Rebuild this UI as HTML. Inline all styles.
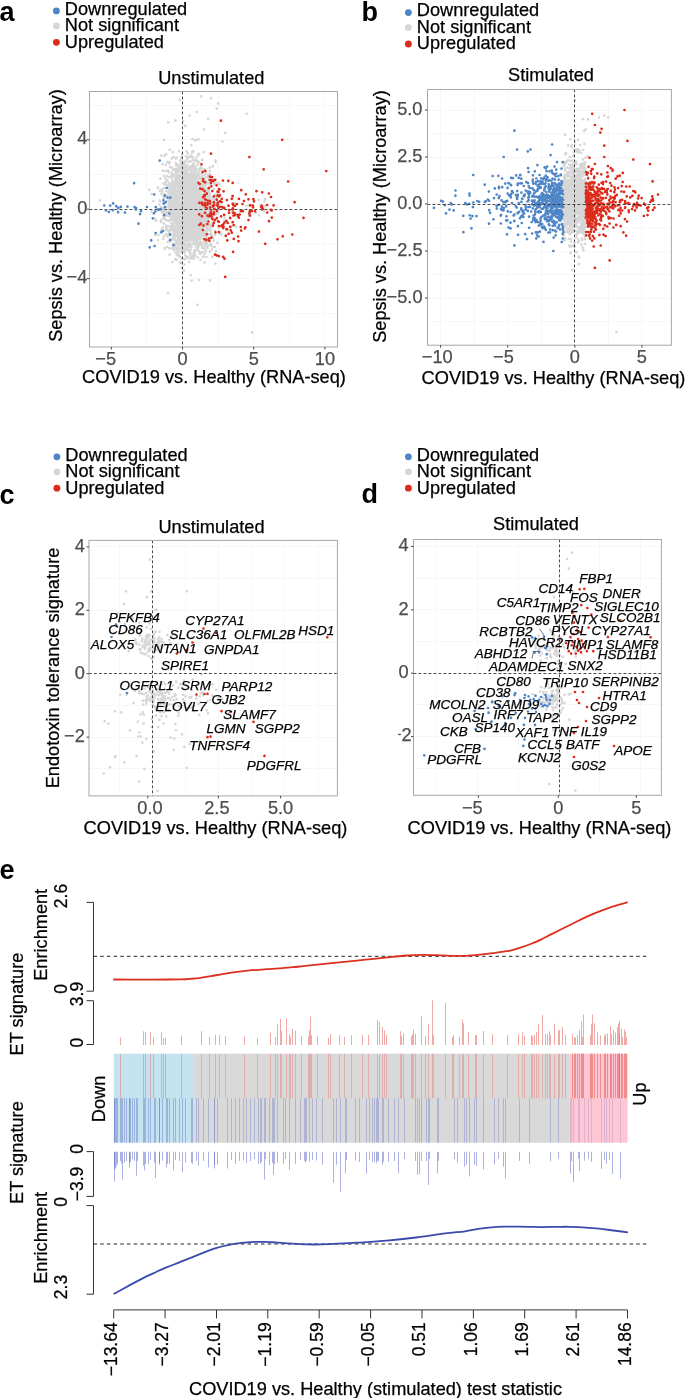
<!DOCTYPE html>
<html><head><meta charset="utf-8"><style>
html,body{margin:0;padding:0;background:#fff;}
svg{display:block;font-family:"Liberation Sans",sans-serif;will-change:transform;}
</style></head><body>
<svg width="685" height="1398" viewBox="0 0 685 1398">
<rect width="685" height="1398" fill="#fff"/>
<text x="-0.6" y="21.1" font-size="27" fill="#000" font-weight="bold">a</text>
<circle cx="56.4" cy="10.9" r="3.4" fill="#4e85c6"/>
<text x="64.8" y="14.6" font-size="18.2" fill="#000" stroke="#000" stroke-width="0.25">Downregulated</text>
<circle cx="56.4" cy="25.9" r="3.4" fill="#d6d6d6"/>
<text x="64.8" y="31.1" font-size="18.2" fill="#000" stroke="#000" stroke-width="0.25">Not significant</text>
<circle cx="56.4" cy="42.3" r="3.4" fill="#dc2b1a"/>
<text x="64.8" y="47.6" font-size="18.2" fill="#000" stroke="#000" stroke-width="0.25">Upregulated</text>
<text x="211.3" y="83.5" font-size="18.2" fill="#000" stroke="#000" stroke-width="0.25" text-anchor="middle">Unstimulated</text>
<rect x="89.5" y="91.5" width="248.0" height="255.5" fill="#fff"/>
<line x1="146.5" y1="91.5" x2="146.5" y2="347.0" stroke="#f7f7f7" stroke-width="1"/>
<line x1="218.5" y1="91.5" x2="218.5" y2="347.0" stroke="#f7f7f7" stroke-width="1"/>
<line x1="289.5" y1="91.5" x2="289.5" y2="347.0" stroke="#f7f7f7" stroke-width="1"/>
<line x1="111.5" y1="91.5" x2="111.5" y2="347.0" stroke="#f7f7f7" stroke-width="1"/>
<line x1="182.5" y1="91.5" x2="182.5" y2="347.0" stroke="#f7f7f7" stroke-width="1"/>
<line x1="253.5" y1="91.5" x2="253.5" y2="347.0" stroke="#f7f7f7" stroke-width="1"/>
<line x1="324.5" y1="91.5" x2="324.5" y2="347.0" stroke="#f7f7f7" stroke-width="1"/>
<line x1="89.5" y1="313.5" x2="337.5" y2="313.5" stroke="#f7f7f7" stroke-width="1"/>
<line x1="89.5" y1="243.5" x2="337.5" y2="243.5" stroke="#f7f7f7" stroke-width="1"/>
<line x1="89.5" y1="174.5" x2="337.5" y2="174.5" stroke="#f7f7f7" stroke-width="1"/>
<line x1="89.5" y1="105.5" x2="337.5" y2="105.5" stroke="#f7f7f7" stroke-width="1"/>
<line x1="89.5" y1="278.5" x2="337.5" y2="278.5" stroke="#f7f7f7" stroke-width="1"/>
<line x1="89.5" y1="209.5" x2="337.5" y2="209.5" stroke="#f7f7f7" stroke-width="1"/>
<line x1="89.5" y1="139.5" x2="337.5" y2="139.5" stroke="#f7f7f7" stroke-width="1"/>
<path d="M186.8 230.3h0M189.8 190.3h0M184.0 210.7h0M177.6 197.7h0M182.1 214.7h0M176.6 199.4h0M187.4 221.4h0M200.5 206.3h0M181.7 193.6h0M180.4 204.8h0M191.8 215.2h0M190.4 228.4h0M187.9 202.2h0M177.2 198.5h0M186.5 211.1h0M193.9 221.7h0M173.0 194.4h0M182.1 154.1h0M167.3 212.0h0M173.6 198.7h0M167.9 197.9h0M184.4 259.2h0M173.8 203.2h0M189.6 220.4h0M188.4 176.9h0M184.9 211.0h0M161.0 221.9h0M181.2 210.3h0M186.3 202.3h0M187.9 217.4h0M171.1 206.8h0M181.9 233.9h0M176.7 210.4h0M178.5 189.6h0M197.6 164.7h0M178.5 191.0h0M186.4 200.1h0M195.8 181.1h0M180.8 184.5h0M185.6 171.1h0M187.9 183.2h0M187.4 208.2h0M174.2 200.3h0M187.6 202.0h0M200.7 199.4h0M170.9 201.6h0M195.6 222.0h0M188.0 249.5h0M180.2 219.7h0M207.3 247.9h0M194.6 204.3h0M174.5 205.6h0M187.5 240.6h0M192.7 191.4h0M184.8 187.7h0M193.8 203.7h0M186.1 171.0h0M193.6 166.8h0M201.5 230.8h0M179.8 184.1h0M188.9 196.6h0M182.0 197.0h0M188.1 186.3h0M174.6 220.7h0M180.8 218.1h0M184.8 222.9h0M196.0 221.4h0M198.5 207.8h0M173.2 236.0h0M178.6 227.5h0M193.4 193.7h0M166.3 207.2h0M182.0 197.8h0M185.8 245.1h0M199.7 222.0h0M193.8 217.3h0M183.4 205.1h0M183.0 217.9h0M184.2 186.3h0M202.4 206.9h0M182.4 205.4h0M183.7 205.4h0M190.4 191.0h0M185.5 215.5h0M184.7 182.4h0M175.3 196.2h0M186.7 202.5h0M182.2 204.9h0M198.7 194.9h0M193.5 184.6h0M186.5 186.0h0M193.6 197.9h0M183.3 187.5h0M197.6 203.3h0M186.7 179.7h0M192.8 206.3h0M173.5 248.9h0M190.3 177.9h0M169.5 203.5h0M165.9 230.1h0M183.7 209.9h0M177.5 224.1h0M188.5 162.0h0M209.8 195.4h0M178.2 238.4h0M180.4 194.4h0M188.9 214.0h0M191.8 165.8h0M185.0 227.6h0M184.7 252.5h0M194.0 204.4h0M192.1 213.0h0M176.2 214.4h0M186.0 250.3h0M187.1 196.8h0M176.0 170.9h0M189.4 245.5h0M178.0 181.3h0M196.7 217.6h0M188.7 156.8h0M187.7 196.7h0M180.7 209.6h0M185.6 182.7h0M166.3 194.8h0M175.2 218.1h0M190.5 190.9h0M164.9 216.4h0M195.5 243.0h0M168.9 163.4h0M194.5 213.0h0M178.1 218.4h0M194.8 198.7h0M188.1 238.2h0M171.0 233.9h0M199.6 216.1h0M201.6 216.6h0M186.1 204.2h0M184.0 182.4h0M185.1 215.6h0M176.8 195.5h0M198.0 193.2h0M181.2 228.3h0M186.2 201.0h0M178.6 225.4h0M180.4 183.6h0M173.7 196.3h0M199.7 205.4h0M185.2 233.6h0M196.7 203.3h0M186.9 221.7h0M179.7 191.0h0M183.4 208.2h0M181.0 222.6h0M186.9 186.5h0M182.9 190.7h0M183.7 218.1h0M172.6 181.5h0M178.5 211.9h0M203.7 212.2h0M179.9 203.2h0M176.0 221.4h0M190.2 214.9h0M201.2 209.1h0M171.9 173.9h0M184.6 174.5h0M180.3 211.1h0M168.7 172.2h0M194.3 206.6h0M186.5 197.8h0M187.5 187.3h0M179.1 199.6h0M191.4 155.4h0M181.2 200.7h0M185.3 230.7h0M175.4 178.6h0M174.3 214.3h0M200.5 212.1h0M181.6 268.0h0M189.8 184.9h0M186.4 188.7h0M182.2 189.1h0M181.6 185.4h0M193.2 170.5h0M183.7 206.7h0M185.2 186.2h0M187.0 221.2h0M198.8 213.1h0M193.7 183.7h0M190.7 197.6h0M181.0 233.5h0M172.6 198.2h0M196.5 209.5h0M196.7 222.8h0M185.3 196.7h0M192.3 214.2h0M194.8 238.4h0M195.3 228.9h0M196.2 168.9h0M182.1 237.3h0M202.3 201.1h0M174.0 193.0h0M195.6 192.4h0M191.8 231.2h0M195.7 212.4h0M206.0 202.8h0M202.0 189.1h0M175.0 219.2h0M169.5 230.0h0M195.1 184.9h0M176.4 182.7h0M186.6 198.0h0M195.4 218.4h0M169.9 197.3h0M165.1 203.5h0M189.4 188.3h0M187.2 231.7h0M184.3 203.3h0M187.2 209.0h0M177.9 228.8h0M171.3 201.2h0M185.1 205.0h0M176.8 214.3h0M169.9 197.5h0M192.0 235.3h0M186.1 206.8h0M190.9 196.7h0M176.6 199.8h0M180.0 183.3h0M176.5 230.7h0M177.7 237.1h0M188.8 200.8h0M178.7 196.3h0M190.4 161.6h0M190.3 192.9h0M207.5 223.9h0M172.5 188.9h0M195.9 223.3h0M185.9 236.7h0M186.6 151.4h0M171.9 198.9h0M182.1 190.8h0M194.4 194.0h0M185.9 168.0h0M187.6 199.8h0M183.8 180.4h0M198.6 227.1h0M186.6 234.7h0M164.2 176.0h0M179.7 175.0h0M166.6 195.1h0M153.4 201.0h0M181.3 202.3h0M200.4 220.1h0M187.3 173.7h0M174.8 192.0h0M177.1 195.2h0M198.4 197.9h0M188.4 183.9h0M187.3 195.2h0M186.2 190.2h0M187.2 230.1h0M195.0 195.1h0M192.4 160.2h0M189.0 216.5h0M176.1 208.4h0M192.0 187.2h0M179.8 185.8h0M198.0 192.7h0M173.7 239.4h0M185.4 195.3h0M186.7 230.4h0M173.2 222.9h0M204.4 194.3h0M201.7 211.9h0M182.0 188.9h0M194.7 140.2h0M190.7 189.5h0M160.0 190.7h0M189.3 224.4h0M186.1 219.1h0M187.6 227.9h0M175.7 216.8h0M184.0 228.5h0M184.9 219.5h0M199.0 210.1h0M190.2 226.6h0M186.7 235.3h0M202.4 234.1h0M181.1 196.3h0M182.8 204.5h0M168.1 184.4h0M202.9 184.0h0M196.7 212.8h0M196.2 191.8h0M193.6 235.7h0M187.9 158.2h0M189.0 180.8h0M184.2 210.2h0M184.7 229.9h0M187.3 197.8h0M202.3 244.7h0M192.5 222.0h0M186.2 190.1h0M180.8 204.2h0M180.3 216.0h0M203.2 185.9h0M192.0 227.4h0M187.5 199.8h0M183.2 216.1h0M175.4 223.4h0M186.1 196.1h0M195.7 226.4h0M182.7 166.1h0M184.4 217.9h0M184.5 164.3h0M187.9 228.5h0M170.4 193.1h0M184.4 230.7h0M178.0 233.7h0M195.8 202.4h0M178.9 191.6h0M192.7 232.3h0M202.4 181.1h0M183.6 222.3h0M180.6 203.0h0M188.7 197.8h0M186.8 193.3h0M176.6 243.2h0M191.5 172.0h0M207.4 194.0h0M184.1 214.6h0M184.7 227.1h0M176.1 241.0h0M190.0 234.1h0M174.0 194.4h0M175.4 212.8h0M199.9 229.3h0M177.5 216.7h0M197.9 173.2h0M202.4 212.6h0M189.4 217.9h0M192.4 177.6h0M206.8 196.1h0M184.8 204.8h0M180.7 218.4h0M172.9 238.1h0M187.2 230.1h0M201.9 215.7h0M196.6 210.3h0M177.1 198.3h0M178.0 194.2h0M181.6 201.1h0M189.8 201.1h0M184.7 226.7h0M189.0 250.6h0M189.8 216.6h0M183.7 225.6h0M186.4 219.3h0M188.9 211.4h0M185.9 231.6h0M191.9 228.9h0M206.0 207.8h0M192.8 203.3h0M187.3 219.4h0M169.5 195.4h0M190.7 210.3h0M166.8 227.0h0M172.3 204.9h0M195.5 166.5h0M194.0 219.8h0M185.2 181.5h0M169.2 177.0h0M183.0 174.5h0M179.8 222.9h0M193.3 163.8h0M209.9 203.3h0M189.0 211.0h0M178.8 210.5h0M174.8 193.2h0M186.2 204.7h0M185.0 209.4h0M175.0 179.0h0M188.0 220.8h0M175.0 227.4h0M198.2 189.2h0M197.7 191.1h0M197.9 183.0h0M181.9 228.1h0M192.0 183.2h0M185.4 195.7h0M182.8 169.0h0M183.3 231.7h0M173.4 201.2h0M172.0 211.5h0M194.9 238.8h0M184.8 220.6h0M189.0 182.3h0M197.0 215.5h0M169.0 220.8h0M178.7 187.7h0M188.6 185.1h0M190.8 185.2h0M182.9 222.2h0M197.3 206.9h0M188.9 184.3h0M174.3 219.4h0M177.2 221.3h0M195.0 188.5h0M191.5 173.2h0M167.3 229.7h0M200.6 259.8h0M192.9 235.9h0M200.5 226.8h0M182.8 208.6h0M183.7 192.9h0M175.2 208.8h0M212.8 220.3h0M185.0 202.5h0M203.0 225.8h0M180.1 206.7h0M188.5 219.1h0M169.6 149.9h0M182.8 188.7h0M196.9 223.1h0M173.9 226.5h0M197.8 214.9h0M190.2 240.0h0M176.1 220.9h0M181.6 221.1h0M182.1 187.3h0M186.3 214.6h0M181.3 222.2h0M178.3 233.6h0M183.6 230.2h0M176.2 207.1h0M173.6 210.2h0M186.3 182.1h0M195.8 218.8h0M171.1 183.7h0M186.8 200.4h0M180.1 205.8h0M176.8 247.5h0M195.5 232.6h0M181.5 190.3h0M202.1 176.6h0M178.8 201.4h0M190.7 189.9h0M184.4 214.2h0M179.0 213.5h0M192.8 219.5h0M185.2 185.4h0M193.0 198.6h0M186.3 210.6h0M175.6 212.6h0M185.7 194.1h0M187.3 199.0h0M196.6 223.1h0M177.5 170.0h0M186.4 200.4h0M169.1 205.5h0M193.5 175.0h0M175.7 184.4h0M168.3 207.6h0M186.2 194.6h0M198.1 228.0h0M171.1 219.1h0M175.6 252.8h0M179.2 180.3h0M175.2 245.3h0M190.7 191.5h0M178.5 223.0h0M179.4 226.1h0M192.8 209.8h0M179.0 200.2h0M191.2 193.0h0M176.8 168.8h0M174.3 198.3h0M168.0 187.4h0M205.9 218.2h0M183.5 190.9h0M189.3 202.5h0M186.5 215.4h0M188.4 207.7h0M187.3 207.0h0M206.3 201.8h0M176.1 197.4h0M170.8 216.3h0M176.4 221.2h0M173.1 190.2h0M194.4 241.1h0M195.2 218.6h0M176.9 173.4h0M172.5 262.1h0M183.1 220.2h0M201.0 191.4h0M157.9 240.1h0M192.2 151.6h0M175.7 259.6h0M197.4 175.8h0M175.7 173.3h0M183.8 186.7h0M171.3 210.3h0M176.8 198.3h0M201.0 224.4h0M195.2 188.9h0M182.7 229.0h0M177.9 211.4h0M167.4 185.0h0M182.7 228.9h0M186.5 213.3h0M185.9 202.3h0M185.8 233.7h0M175.3 181.5h0M186.1 198.6h0M186.4 237.3h0M200.0 206.7h0M205.9 221.9h0M185.4 219.4h0M178.9 204.1h0M186.1 220.5h0M180.5 185.6h0M179.2 220.4h0M186.2 185.3h0M176.1 206.6h0M193.0 187.9h0M185.7 217.0h0M189.3 216.3h0M184.9 229.7h0M179.3 193.7h0M177.1 186.2h0M184.3 161.6h0M181.1 178.9h0M189.2 200.5h0M186.7 210.1h0M172.8 197.6h0M187.5 206.3h0M173.0 175.3h0M180.5 186.1h0M183.8 223.2h0M165.5 220.0h0M187.7 177.3h0M188.3 199.3h0M185.2 210.6h0M182.4 181.0h0M182.9 213.8h0M176.8 211.6h0M184.0 215.3h0M181.1 246.6h0M187.7 187.7h0M174.4 230.9h0M189.2 217.6h0M188.2 221.2h0M185.3 190.6h0M182.3 207.2h0M192.4 205.4h0M169.7 240.7h0M191.5 207.6h0M189.3 236.5h0M189.7 199.3h0M190.7 198.1h0M180.1 206.1h0M184.1 163.2h0M193.3 194.7h0M191.2 193.3h0M188.9 202.8h0M171.2 209.7h0M192.3 185.6h0M198.8 182.8h0M197.1 232.8h0M189.2 183.8h0M170.8 195.0h0M196.4 185.7h0M185.3 196.0h0M160.8 231.6h0M190.6 230.2h0M171.5 167.7h0M173.5 200.5h0M180.3 235.2h0M199.8 198.5h0M183.0 213.3h0M189.6 244.1h0M204.7 253.4h0M203.1 239.1h0M185.7 200.1h0M184.3 206.7h0M173.8 210.9h0M179.7 199.8h0M191.1 193.2h0M190.8 249.5h0M187.9 212.0h0M197.0 223.0h0M178.9 231.4h0M186.2 217.1h0M194.3 208.3h0M192.8 211.3h0M197.8 236.0h0M190.8 215.8h0M183.6 163.8h0M190.5 227.7h0M176.5 240.9h0M170.0 200.0h0M192.7 193.3h0M186.2 196.1h0M189.9 229.0h0M169.4 184.9h0M183.0 222.1h0M180.6 229.4h0M177.9 218.4h0M163.7 208.0h0M183.3 190.9h0M196.0 192.7h0M190.7 206.2h0M180.6 186.3h0M186.6 204.0h0M194.5 187.1h0M158.5 235.0h0M185.5 238.5h0M192.3 189.6h0M193.8 234.7h0M204.2 212.0h0M198.4 207.8h0M190.0 215.9h0M189.9 215.2h0M194.8 176.7h0M181.2 258.4h0M186.4 187.3h0M196.1 157.9h0M206.8 205.2h0M185.1 206.1h0M186.3 190.6h0M188.8 167.7h0M200.5 230.5h0M186.5 203.9h0M201.8 209.6h0M176.9 194.1h0M184.9 202.4h0M184.7 192.0h0M194.8 214.5h0M197.5 204.7h0M171.3 219.7h0M177.4 219.6h0M190.2 208.7h0M180.0 208.7h0M171.2 230.1h0M197.4 173.0h0M191.8 208.5h0M191.8 234.5h0M181.9 182.8h0M197.3 221.3h0M184.3 195.1h0M198.0 206.1h0M177.4 200.5h0M178.0 202.2h0M188.9 217.7h0M179.6 204.9h0M193.7 163.4h0M189.4 252.3h0M177.3 204.4h0M187.5 196.7h0M183.2 227.6h0M196.2 234.3h0M180.3 160.8h0M182.3 213.5h0M199.2 162.4h0M209.7 194.6h0M207.3 204.1h0M187.4 195.8h0M189.0 192.5h0M202.5 181.2h0M185.5 196.7h0M176.8 202.7h0M188.0 202.1h0M191.4 177.6h0M178.3 188.7h0M169.9 226.6h0M172.0 219.0h0M193.6 198.8h0M179.0 218.7h0M185.3 213.6h0M189.0 225.6h0M193.1 211.2h0M183.3 196.9h0M191.9 185.0h0M177.6 205.5h0M183.1 162.5h0M176.3 207.3h0M198.4 139.2h0M186.5 184.9h0M179.2 195.4h0M183.2 216.1h0M184.5 264.5h0M194.0 209.0h0M170.4 202.0h0M176.1 165.7h0M182.9 234.5h0M212.7 166.0h0M196.6 211.0h0M185.6 190.7h0M194.1 258.6h0M207.9 202.8h0M184.4 212.9h0M183.0 191.5h0M199.2 203.8h0M191.8 229.5h0M193.7 186.0h0M181.6 191.3h0M206.5 193.3h0M204.3 184.7h0M192.6 182.8h0M193.8 206.2h0M166.0 234.0h0M193.3 234.6h0M184.8 177.6h0M191.2 190.9h0M193.8 203.6h0M183.3 214.8h0M169.4 205.1h0M190.5 205.2h0M179.2 212.7h0M183.4 220.3h0M180.6 160.7h0M183.3 201.0h0M163.1 218.3h0M199.2 232.8h0M189.4 220.8h0M198.2 190.7h0M207.1 189.9h0M187.0 210.3h0M168.3 204.7h0M177.6 212.1h0M174.4 228.8h0M181.6 178.6h0M187.6 198.0h0M166.2 154.2h0M190.3 221.5h0M171.3 208.6h0M189.8 187.3h0M185.6 210.8h0M183.6 234.6h0M186.0 225.5h0M181.2 203.6h0M180.5 198.6h0M169.5 207.7h0M186.5 184.8h0M205.7 185.1h0M207.1 199.0h0M200.3 205.2h0M194.0 211.0h0M179.8 194.3h0M201.6 186.6h0M186.2 204.5h0M186.1 196.4h0M183.8 212.5h0M187.7 235.1h0M182.3 226.6h0M185.9 189.8h0M175.7 196.4h0M182.9 172.6h0M210.2 204.6h0M186.1 187.7h0M184.3 178.2h0M192.2 185.0h0M194.0 218.4h0M175.4 209.6h0M184.6 203.0h0M196.2 226.3h0M189.5 195.9h0M188.0 184.4h0M202.7 215.7h0M179.8 164.7h0M187.6 211.8h0M181.4 210.0h0M202.1 210.7h0M166.8 220.5h0M179.9 197.0h0M181.3 205.3h0M193.6 171.1h0M193.0 193.1h0M201.1 194.5h0M170.6 210.3h0M194.5 235.2h0M183.8 207.6h0M179.9 223.4h0M192.3 185.9h0M177.3 206.4h0M165.5 171.0h0M183.0 190.4h0M171.4 188.3h0M180.1 200.9h0M190.6 201.4h0M190.0 192.1h0M203.0 186.5h0M184.7 220.5h0M171.1 195.5h0M179.0 151.2h0M177.3 207.6h0M174.3 211.1h0M191.2 220.1h0M180.2 235.9h0M166.5 181.0h0M193.9 204.5h0M185.6 199.5h0M190.4 167.3h0M187.9 153.5h0M193.2 224.2h0M187.2 183.8h0M199.4 192.7h0M191.1 197.4h0M190.8 195.7h0M191.0 206.2h0M171.8 172.6h0M185.1 192.9h0M184.1 198.5h0M188.9 179.7h0M172.8 187.0h0M203.5 196.1h0M187.8 198.9h0M174.4 169.1h0M169.3 195.1h0M183.9 207.5h0M185.9 223.5h0M179.4 212.8h0M187.7 227.5h0M180.2 203.4h0M192.4 200.3h0M179.3 248.4h0M186.4 205.3h0M196.8 192.2h0M213.1 202.2h0M176.4 225.5h0M182.0 179.3h0M178.2 220.2h0M194.8 231.3h0M175.0 228.2h0M181.8 206.0h0M186.5 185.2h0M176.7 181.4h0M177.0 201.3h0M181.9 230.5h0M165.2 219.4h0M172.0 224.4h0M182.5 209.4h0M188.3 242.6h0M184.9 203.4h0M168.6 192.3h0M182.0 208.8h0M195.0 196.1h0M192.5 225.2h0M186.0 236.0h0M177.7 219.0h0M193.2 181.6h0M180.8 184.3h0M174.8 215.2h0M178.5 180.6h0M201.6 212.5h0M189.0 174.2h0M198.7 195.7h0M181.9 215.1h0M196.4 189.2h0M180.6 221.8h0M185.2 225.2h0M212.3 235.9h0M194.6 200.3h0M181.6 206.8h0M185.9 207.3h0M190.1 214.3h0M199.2 175.8h0M181.8 214.5h0M168.9 220.8h0M183.9 179.8h0M186.9 176.1h0M187.9 198.7h0M200.3 242.0h0M190.0 218.2h0M195.1 193.0h0M175.5 205.4h0M195.7 173.4h0M208.3 234.2h0M194.7 191.6h0M189.4 218.8h0M188.4 178.2h0M205.1 207.3h0M177.3 184.3h0M185.6 219.2h0M191.5 235.1h0M194.4 228.8h0M182.3 218.4h0M189.9 227.1h0M183.9 180.7h0M188.0 177.9h0M185.4 200.0h0M175.1 227.3h0M186.6 208.2h0M195.8 220.0h0M176.9 175.5h0M184.3 199.2h0M193.6 195.5h0M175.8 214.1h0M188.6 247.6h0M175.9 221.8h0M198.4 229.0h0M210.5 198.0h0M207.5 203.7h0M184.5 222.4h0M194.4 213.8h0M188.0 173.1h0M187.8 225.7h0M202.6 224.8h0M173.2 210.5h0M197.6 220.3h0M186.3 214.7h0M201.2 194.7h0M188.7 169.7h0M179.9 242.8h0M189.6 206.1h0M194.3 204.9h0M187.1 207.5h0M191.8 209.6h0M181.4 212.8h0M164.9 184.8h0M196.0 215.4h0M193.9 208.4h0M188.3 205.7h0M187.5 203.5h0M197.4 209.3h0M182.1 184.9h0M179.5 205.9h0M184.8 202.1h0M199.0 206.8h0M172.6 226.6h0M199.0 223.0h0M180.2 227.6h0M175.5 201.7h0M199.7 220.6h0M185.8 227.8h0M173.4 200.8h0M183.1 194.8h0M196.3 242.4h0M199.0 170.6h0M182.4 205.1h0M190.9 207.9h0M194.1 183.5h0M180.2 204.3h0M190.4 218.3h0M186.4 160.0h0M181.3 228.1h0M181.7 207.8h0M187.5 188.1h0M187.1 228.0h0M181.0 207.9h0M182.4 197.7h0M198.2 155.7h0M189.0 224.3h0M195.8 206.7h0M199.1 192.0h0M192.8 204.0h0M210.1 230.8h0M178.3 197.2h0M195.1 203.5h0M183.5 196.5h0M205.8 182.2h0M204.2 184.6h0M166.7 197.2h0M176.8 199.3h0M193.6 228.6h0M194.9 208.5h0M194.3 201.1h0M186.0 214.1h0M191.4 203.7h0M193.5 222.9h0M186.0 173.8h0M197.3 160.9h0M163.6 213.8h0M193.3 197.4h0M176.2 210.6h0M196.6 179.4h0M184.4 196.7h0M177.7 204.1h0M190.6 210.4h0M177.4 203.1h0M177.4 226.6h0M170.7 191.7h0M186.5 220.6h0M191.9 194.6h0M197.3 203.0h0M185.3 182.9h0M197.5 206.1h0M187.0 184.4h0M185.8 224.9h0M192.7 193.0h0M197.6 210.4h0M183.3 201.7h0M184.3 204.2h0M185.1 186.2h0M187.6 247.8h0M177.5 199.0h0M197.3 236.8h0M182.7 180.6h0M191.5 246.8h0M178.3 226.6h0M190.5 240.6h0M190.8 171.6h0M182.5 232.6h0M207.5 203.4h0M190.6 216.9h0M205.0 243.2h0M196.6 212.8h0M180.0 191.9h0M182.9 209.6h0M191.2 186.1h0M187.4 213.3h0M187.3 205.6h0M183.8 213.7h0M168.2 198.6h0M184.5 166.2h0M164.0 198.2h0M190.6 201.7h0M179.3 218.6h0M179.4 221.5h0M184.5 175.2h0M189.6 228.9h0M172.1 224.7h0M168.8 207.8h0M175.8 214.6h0M165.8 165.0h0M176.9 255.0h0M203.1 198.2h0M175.9 190.9h0M193.5 229.1h0M172.7 219.2h0M189.8 196.7h0M183.5 171.8h0M186.2 224.9h0M192.6 238.6h0M204.8 185.5h0M188.8 174.0h0M188.0 212.7h0M176.8 251.8h0M192.8 175.5h0M184.2 209.9h0M195.3 182.3h0M186.3 206.6h0M204.6 213.6h0M166.4 215.1h0M183.7 175.1h0M195.8 175.9h0M183.2 250.2h0M178.7 225.2h0M184.0 168.7h0M172.6 213.4h0M188.0 234.1h0M211.8 205.6h0M198.5 208.0h0M175.4 207.8h0M177.8 215.7h0M182.6 212.2h0M197.1 215.2h0M178.3 198.8h0M179.7 222.7h0M195.8 211.8h0M195.6 208.7h0M182.9 178.5h0M175.3 198.0h0M170.9 208.0h0M179.6 194.6h0M163.9 197.3h0M194.5 183.1h0M180.3 195.2h0M191.7 168.4h0M205.9 177.7h0M198.8 206.6h0M175.0 214.4h0M195.7 187.4h0M198.6 195.0h0M179.1 207.7h0M177.0 236.5h0M185.6 243.9h0M170.4 198.5h0M201.9 189.7h0M162.1 189.0h0M175.4 232.5h0M184.0 184.1h0M184.4 216.9h0M188.5 197.6h0M189.6 197.1h0M184.6 222.4h0M198.4 218.0h0M164.8 248.9h0M186.8 224.8h0M179.4 243.3h0M188.1 196.6h0M189.0 204.5h0M177.4 186.7h0M180.2 198.3h0M194.9 218.9h0M190.4 198.5h0M179.8 213.9h0M207.7 193.0h0M210.4 199.2h0M171.8 226.3h0M189.9 205.7h0M212.5 204.6h0M194.8 212.1h0M189.0 187.1h0M184.6 170.1h0M181.2 213.4h0M184.6 213.0h0M181.1 252.5h0M194.4 208.4h0M182.7 214.8h0M182.2 250.7h0M174.4 199.7h0M186.3 193.4h0M177.6 221.0h0M184.9 213.5h0M197.5 225.9h0M190.5 189.9h0M191.9 237.3h0M190.4 212.3h0M187.4 165.1h0M185.5 204.7h0M183.6 196.0h0M194.6 208.8h0M175.7 230.2h0M200.5 206.4h0M187.1 197.3h0M179.1 227.0h0M181.8 198.6h0M179.8 179.8h0M188.4 183.5h0M179.4 238.7h0M198.5 226.0h0M178.8 239.3h0M163.5 183.4h0M179.3 193.0h0M166.2 191.1h0M186.4 224.0h0M197.6 230.0h0M193.4 204.1h0M173.1 203.6h0M179.0 223.5h0M205.0 202.8h0M190.0 192.3h0M186.8 201.0h0M197.6 227.4h0M211.9 249.7h0M200.1 211.1h0M188.2 202.3h0M190.4 211.1h0M193.1 214.6h0M180.5 220.1h0M175.9 190.8h0M187.3 206.8h0M177.1 203.2h0M186.1 226.0h0M187.8 218.6h0M210.8 202.3h0M178.0 226.7h0M185.5 231.9h0M185.1 212.6h0M191.3 180.7h0M197.5 201.8h0M181.7 175.3h0M178.4 208.5h0M170.0 212.2h0M177.3 234.7h0M192.3 217.7h0M187.2 175.8h0M176.4 198.9h0M183.0 190.5h0M187.1 191.0h0M191.9 205.9h0M180.7 210.0h0M184.2 203.2h0M168.1 191.8h0M175.0 196.2h0M203.4 195.5h0M164.3 202.5h0M183.3 221.8h0M189.0 211.2h0M182.9 225.3h0M178.5 184.8h0M186.1 249.5h0M186.7 210.3h0M185.9 156.0h0M167.5 212.8h0M185.3 229.4h0M178.0 206.1h0M181.2 178.9h0M189.1 209.1h0M193.3 193.0h0M196.0 203.6h0M181.7 213.5h0M196.2 140.1h0M198.8 204.2h0M198.4 216.9h0M201.0 215.9h0M185.3 197.8h0M185.0 197.2h0M195.2 189.7h0M172.8 202.8h0M188.9 235.5h0M181.3 194.7h0M183.0 212.2h0M168.9 211.7h0M177.6 236.6h0M186.6 217.7h0M195.9 220.9h0M196.9 206.5h0M185.9 236.0h0M184.8 204.7h0M178.3 203.1h0M190.9 229.0h0M184.2 218.7h0M193.0 223.6h0M204.7 186.8h0M186.4 258.4h0M171.4 212.9h0M177.9 240.3h0M171.8 214.7h0M174.5 188.1h0M200.2 218.9h0M189.1 202.8h0M171.2 223.3h0M193.5 165.3h0M199.7 186.7h0M183.1 182.3h0M179.8 233.4h0M183.3 228.7h0M189.7 183.2h0M193.3 209.8h0M198.9 211.1h0M199.2 198.8h0M198.9 231.9h0M200.7 189.6h0M193.6 205.3h0M171.1 195.8h0M185.4 219.7h0M190.0 195.0h0M182.8 220.4h0M196.1 185.9h0M183.1 182.2h0M177.3 186.7h0M201.6 195.0h0M193.6 192.5h0M189.0 262.1h0M196.3 188.3h0M197.7 211.4h0M190.3 203.8h0M161.6 211.6h0M179.8 234.7h0M182.1 216.9h0M176.7 192.0h0M188.8 176.2h0M199.0 218.7h0M181.8 224.6h0M175.1 175.5h0M207.6 224.1h0M182.1 162.6h0M174.1 204.7h0M189.2 224.1h0M191.1 185.2h0M179.5 170.5h0M194.9 235.6h0M181.8 173.3h0M177.3 211.6h0M188.6 174.8h0M194.7 213.7h0M180.3 238.6h0M190.2 195.3h0M185.8 186.4h0M215.7 162.1h0M179.5 169.8h0M201.0 191.3h0M186.2 210.7h0M185.5 216.6h0M194.2 211.9h0M195.9 223.0h0M199.8 211.4h0M190.1 258.7h0M180.6 202.0h0M181.3 206.3h0M192.0 152.3h0M192.7 189.9h0M201.1 215.7h0M191.1 194.0h0M197.6 231.3h0M202.3 218.3h0M188.5 244.6h0M171.5 175.8h0M174.7 193.4h0M172.0 230.2h0M203.1 207.0h0M178.1 186.0h0M199.4 195.4h0M192.8 197.8h0M204.4 223.6h0M197.1 219.0h0M185.7 203.7h0M184.7 186.6h0M187.6 223.0h0M188.6 229.1h0M181.3 181.9h0M186.4 225.1h0M203.3 183.3h0M169.3 200.7h0M189.4 187.4h0M177.5 169.4h0M188.7 191.4h0M195.4 189.6h0M186.2 224.8h0M194.7 220.2h0M170.5 192.3h0M198.1 173.8h0M180.6 176.7h0M193.2 157.5h0M188.6 199.3h0M160.3 201.5h0M179.0 184.8h0M189.0 205.3h0M202.7 207.0h0M189.7 227.5h0M189.4 185.1h0M172.3 228.0h0M201.4 195.1h0M205.3 235.3h0M187.1 182.9h0M184.5 227.1h0M170.2 188.2h0M195.8 238.8h0M214.5 214.9h0M194.1 181.2h0M199.7 222.5h0M192.3 204.3h0M176.7 215.7h0M200.5 253.8h0M174.1 199.3h0M184.6 196.7h0M189.6 228.8h0M195.8 193.8h0M191.0 222.3h0M190.7 226.6h0M179.0 205.6h0M173.6 219.9h0M187.4 158.0h0M179.5 238.1h0M173.4 190.4h0M173.8 185.1h0M181.7 246.9h0M167.8 241.8h0M173.0 194.0h0M170.0 215.8h0M188.6 197.7h0M191.0 182.0h0M207.4 213.5h0M171.4 227.9h0M179.8 262.6h0M196.1 201.5h0M184.5 225.1h0M183.4 199.2h0M204.3 200.9h0M183.3 234.6h0M174.9 169.8h0M173.3 183.2h0M190.2 188.1h0M189.9 230.4h0M172.7 214.2h0M176.7 217.1h0M192.3 214.4h0M192.7 229.1h0M180.2 196.7h0M193.2 201.0h0M192.6 198.1h0M168.5 216.3h0M183.6 178.9h0M191.0 201.8h0M180.9 262.7h0M164.8 219.1h0M183.9 206.9h0M194.5 185.6h0M203.0 212.0h0M164.3 210.9h0M213.6 219.5h0M175.2 191.9h0M196.6 215.0h0M199.4 218.3h0M196.9 221.2h0M188.3 194.1h0M174.9 216.8h0M193.2 240.6h0M179.4 192.8h0M160.9 220.3h0M215.8 198.3h0M194.0 197.9h0M205.4 180.7h0M177.4 184.0h0M201.8 217.7h0M203.1 209.2h0M202.7 232.6h0M186.6 170.8h0M174.4 196.5h0M185.0 176.7h0M164.2 212.4h0M169.3 248.4h0M187.7 173.8h0M176.6 203.8h0M185.1 203.0h0M185.7 204.6h0M206.6 192.3h0M200.1 194.6h0M186.3 238.8h0M199.2 183.1h0M178.8 216.7h0M183.3 215.5h0M196.1 169.8h0M174.0 186.6h0M183.9 212.8h0M173.2 244.4h0M188.0 202.4h0M203.5 194.5h0M179.1 207.4h0M189.1 231.7h0M177.6 222.2h0M175.0 231.9h0M174.1 201.2h0M201.7 188.7h0M211.0 184.4h0M191.7 221.0h0M179.4 200.8h0M194.0 194.2h0M183.3 216.4h0M195.0 208.8h0M189.8 161.5h0M189.6 201.5h0M193.0 187.3h0M180.8 214.8h0M182.6 204.9h0M169.1 241.4h0M182.2 206.3h0M172.2 180.9h0M185.3 162.0h0M177.0 180.8h0M187.8 191.4h0M191.4 204.6h0M172.2 218.2h0M178.4 209.1h0M177.1 193.0h0M194.4 222.1h0M204.3 186.3h0M195.5 226.2h0M183.2 242.8h0M201.8 226.8h0M171.2 240.4h0M202.1 234.3h0M180.0 182.2h0M158.3 209.9h0M214.0 201.2h0M203.0 181.6h0M176.2 179.5h0M188.5 216.2h0M184.6 178.1h0M187.8 197.7h0M171.6 205.7h0M179.8 196.5h0M191.6 235.4h0M189.1 222.1h0M199.1 208.0h0M187.6 193.0h0M210.9 213.5h0M179.4 208.4h0M189.4 185.5h0M167.1 176.3h0M173.9 189.8h0M200.4 179.3h0M177.1 214.1h0M192.2 212.1h0M186.1 199.1h0M176.1 212.0h0M183.2 216.3h0M181.5 171.3h0M181.8 209.9h0M194.5 225.8h0M193.5 195.6h0M180.9 167.5h0M177.5 204.0h0M189.7 180.1h0M185.7 214.8h0M197.3 216.0h0M214.0 220.1h0M195.4 208.7h0M186.4 167.5h0M185.0 229.8h0M178.0 171.6h0M177.5 226.7h0M176.5 210.6h0M182.7 188.3h0M182.4 192.6h0M194.4 199.9h0M182.7 240.1h0M184.7 198.2h0M174.3 227.0h0M203.6 152.2h0M192.0 210.2h0M205.1 201.8h0M194.9 229.6h0M202.0 215.7h0M184.2 232.6h0M194.1 185.3h0M214.5 211.2h0M174.2 194.0h0M198.8 220.0h0M204.2 216.2h0M191.1 178.9h0M194.6 226.0h0M199.9 243.2h0M179.9 197.3h0M191.1 229.5h0M177.7 214.9h0M179.7 186.8h0M180.3 222.8h0M185.3 187.4h0M188.3 219.9h0M191.5 174.7h0M171.9 178.1h0M207.6 215.5h0M198.9 210.2h0M194.4 223.1h0M183.0 201.6h0M185.8 181.8h0M192.5 235.9h0M191.1 186.6h0M169.1 233.3h0M194.6 223.6h0M217.4 242.9h0M167.4 161.9h0M197.2 204.5h0M190.7 200.6h0M185.6 219.8h0M201.2 183.5h0M174.3 249.5h0M188.5 205.2h0M202.2 159.8h0M184.7 213.7h0M182.4 205.4h0M188.0 191.7h0M182.1 222.6h0M203.1 205.3h0M177.2 185.7h0M196.0 201.7h0M173.6 198.0h0M193.8 213.0h0M185.7 199.2h0M159.5 204.6h0M186.7 175.4h0M175.5 190.6h0M182.1 210.8h0M203.0 256.7h0M175.0 190.8h0M175.6 190.0h0M202.0 224.8h0M188.0 247.3h0M203.0 229.5h0M190.2 186.4h0M177.5 227.9h0M186.1 215.3h0M199.7 201.1h0M196.7 180.2h0M186.8 206.1h0M187.3 207.8h0M185.6 217.2h0M180.7 171.8h0M207.1 183.5h0M186.8 207.7h0M174.8 234.8h0M181.7 222.2h0M194.4 193.7h0M193.5 220.8h0M185.3 187.2h0M179.7 198.2h0M187.0 199.6h0M169.1 192.1h0M173.0 195.3h0M195.2 223.5h0M181.7 212.5h0M190.7 157.0h0M199.6 230.9h0M193.6 215.6h0M187.0 183.5h0M209.2 209.0h0M193.8 222.6h0M183.0 233.3h0M194.5 194.6h0M191.1 184.5h0M177.7 176.6h0M187.5 204.6h0M185.0 184.0h0M166.0 227.2h0M185.0 202.2h0M183.8 219.8h0M182.2 202.1h0M169.4 190.1h0M183.0 183.5h0M186.4 226.3h0M187.8 179.3h0M174.8 215.6h0M193.4 227.1h0M174.0 209.3h0M184.4 236.2h0M200.5 205.6h0M179.5 199.7h0M181.4 209.9h0M198.1 194.6h0M182.7 212.3h0M183.6 205.6h0M189.1 235.7h0M197.8 204.8h0M163.6 223.4h0M178.0 215.1h0M176.2 207.7h0M175.3 201.8h0M177.8 240.0h0M177.9 238.3h0M189.9 212.0h0M177.4 195.9h0M188.1 198.2h0M191.0 187.1h0M179.1 178.6h0M188.1 195.4h0M204.0 206.1h0M190.2 227.2h0M180.1 225.4h0M186.1 215.5h0M177.2 200.2h0M189.6 201.1h0M195.8 205.6h0M178.2 208.9h0M184.6 192.6h0M198.4 201.4h0M181.6 199.5h0M188.7 199.3h0M176.0 217.1h0M178.2 227.2h0M181.4 195.5h0M209.1 197.1h0M182.6 210.3h0M181.3 214.4h0M181.0 158.3h0M185.1 221.5h0M193.5 210.3h0M188.7 200.2h0M207.9 229.8h0M189.0 203.3h0M201.6 168.3h0M189.6 186.3h0M193.0 192.6h0M172.0 193.4h0M185.5 203.4h0M186.1 185.8h0M184.3 209.0h0M164.7 214.5h0M195.8 203.6h0M182.8 186.9h0M182.3 198.9h0M184.2 191.7h0M184.4 247.9h0M190.9 180.9h0M173.7 157.0h0M177.2 177.9h0M189.8 212.3h0M188.3 223.4h0M182.9 200.0h0M180.9 226.3h0M178.2 190.6h0M186.2 216.7h0M198.9 185.7h0M175.9 177.4h0M202.4 248.0h0M195.4 199.6h0M182.1 220.3h0M194.8 235.1h0M171.7 218.6h0M169.0 210.3h0M173.5 184.2h0M182.6 237.4h0M183.4 183.9h0M181.5 163.7h0M187.8 193.3h0M164.9 194.4h0M191.9 206.0h0M172.2 230.2h0M180.0 194.6h0M182.5 197.7h0M174.9 190.5h0M172.7 152.2h0M176.5 190.6h0M186.6 196.9h0M192.8 173.2h0M192.6 233.7h0M176.6 229.5h0M178.7 213.5h0M177.3 219.4h0M191.4 191.3h0M165.9 212.3h0M199.5 169.5h0M181.8 174.1h0M178.7 189.7h0M190.3 213.8h0M197.4 192.9h0M190.3 188.8h0M197.6 227.9h0M188.1 198.5h0M199.4 191.0h0M199.5 201.2h0M185.8 173.0h0M201.5 180.5h0M188.5 222.9h0M187.7 203.1h0M177.3 223.1h0M183.8 193.7h0M194.7 223.8h0M173.3 186.5h0M193.4 197.6h0M190.3 185.5h0M189.6 208.8h0M164.1 236.1h0M185.7 169.0h0M193.4 209.3h0M178.9 177.1h0M187.7 196.8h0M162.4 191.7h0M193.7 167.6h0M180.0 198.6h0M195.7 176.6h0M167.9 236.6h0M193.9 187.6h0M184.3 210.8h0M195.1 208.5h0M177.3 205.5h0M180.4 198.5h0M209.8 171.2h0M178.3 244.3h0M179.5 204.8h0M183.9 220.6h0M176.3 181.5h0M199.0 214.5h0M204.5 196.2h0M179.6 214.0h0M169.1 191.8h0M198.8 184.6h0M198.1 214.0h0M195.2 204.7h0M198.6 235.3h0M177.9 199.4h0M185.0 187.9h0M172.6 217.3h0M172.2 182.4h0M196.8 248.9h0M179.9 244.3h0M210.1 234.6h0M187.5 215.8h0M180.2 205.3h0M195.0 207.4h0M205.2 207.1h0M191.8 190.7h0M174.3 215.6h0M190.6 232.0h0M200.9 231.6h0M181.7 161.7h0M178.8 254.7h0M197.2 209.4h0M188.2 175.4h0M175.5 195.7h0M182.9 223.0h0M179.0 205.7h0M189.8 187.7h0M187.9 180.6h0M198.6 224.5h0M194.0 189.9h0M170.7 200.5h0M190.9 182.7h0M196.0 176.8h0M191.4 212.9h0M197.3 235.9h0M181.1 197.5h0M177.0 168.7h0M196.3 191.5h0M175.8 200.9h0M164.6 155.7h0M197.3 227.4h0M179.3 186.9h0M183.6 217.6h0M172.4 204.7h0M173.2 203.9h0M174.9 174.2h0M183.1 225.2h0M190.6 216.9h0M163.2 238.9h0M194.5 195.6h0M174.7 215.3h0M175.8 196.9h0M193.7 228.1h0M186.0 213.2h0M171.0 184.1h0M205.7 209.4h0M177.9 192.7h0M189.3 194.7h0M188.8 213.1h0M201.2 238.2h0M182.1 185.2h0M197.1 202.2h0M179.2 185.3h0M198.3 247.6h0M178.9 240.2h0M183.1 250.3h0M206.2 224.0h0M190.0 184.0h0M187.9 193.9h0M209.8 206.4h0M190.5 203.0h0M178.4 189.9h0M194.3 212.0h0M174.7 197.5h0M198.3 202.8h0M199.1 251.3h0M180.9 213.7h0M180.3 177.4h0M188.6 214.0h0M186.9 208.7h0M176.7 218.4h0M192.6 215.8h0M165.8 182.3h0M182.3 211.3h0M182.6 227.0h0M184.0 270.5h0M189.9 217.7h0M174.2 246.7h0M192.8 243.7h0M184.9 189.2h0M180.1 191.0h0M172.8 245.6h0M174.6 188.0h0M190.5 196.2h0M176.9 222.0h0M187.4 190.4h0M197.7 239.6h0M197.4 230.8h0M202.8 235.7h0M183.7 228.9h0M175.6 187.4h0M197.2 233.5h0M189.9 229.7h0M198.3 225.5h0M186.9 201.7h0M199.0 212.8h0M195.4 187.8h0M194.1 220.5h0M191.9 232.6h0M190.8 216.2h0M189.2 205.0h0M189.1 225.2h0M196.9 200.0h0M181.5 168.0h0M204.6 218.0h0M185.7 205.0h0M196.9 177.8h0M185.8 219.4h0M184.2 223.6h0M207.6 228.7h0M183.6 197.7h0M173.7 195.3h0M179.5 209.1h0M183.5 205.2h0M208.9 179.6h0M188.9 188.0h0M196.4 235.3h0M176.5 206.3h0M190.4 204.0h0M193.7 191.2h0M205.2 210.9h0M179.6 219.7h0M193.0 215.8h0M189.9 243.3h0M176.3 206.8h0M186.6 218.7h0M184.1 196.6h0M162.9 227.7h0M192.9 215.4h0M192.3 226.7h0M182.3 228.6h0M173.0 191.8h0M201.9 216.1h0M189.5 197.2h0M197.2 229.8h0M201.2 204.4h0M181.4 241.7h0M195.1 216.5h0M184.3 217.0h0M186.1 194.4h0M185.9 202.8h0M186.8 210.2h0M198.2 189.1h0M188.0 202.6h0M185.2 195.4h0M183.9 190.7h0M190.3 208.0h0M177.6 212.7h0M181.6 199.8h0M186.2 215.3h0M181.0 198.6h0M185.6 183.6h0M180.5 188.9h0M207.3 214.6h0M200.4 233.4h0M191.4 207.8h0M186.2 209.3h0M209.2 183.7h0M190.1 214.6h0M185.9 211.0h0M189.9 191.4h0M189.9 216.6h0M201.2 210.0h0M186.6 171.1h0M208.3 175.7h0M177.7 193.6h0M193.9 201.1h0M176.5 226.8h0M205.4 195.1h0M183.4 205.5h0M186.2 202.1h0M196.2 217.5h0M199.6 207.0h0M175.4 210.5h0M183.2 200.2h0M172.5 177.0h0M188.2 199.2h0M185.7 241.2h0M183.2 226.9h0M179.8 239.6h0M182.8 223.2h0M179.1 195.1h0M192.2 198.4h0M202.3 219.2h0M167.0 201.2h0M185.6 222.5h0M182.5 236.2h0M191.8 235.9h0M177.0 224.6h0M185.3 177.2h0M176.1 234.6h0M193.9 180.9h0M187.8 179.2h0M185.1 210.5h0M190.6 207.8h0M184.2 219.5h0M170.8 207.3h0M192.9 193.1h0M189.7 206.6h0M185.2 186.1h0M196.9 182.1h0M199.3 199.6h0M175.6 200.0h0M178.8 208.1h0M202.6 199.6h0M201.3 230.0h0M179.2 198.4h0M174.7 202.5h0M180.2 224.7h0M181.7 162.1h0M170.5 227.0h0M187.1 224.9h0M173.6 201.0h0M174.4 247.1h0M196.2 223.3h0M179.8 238.5h0M186.0 226.9h0M193.2 209.6h0M195.1 200.2h0M183.3 183.9h0M187.2 190.1h0M178.3 182.2h0M204.7 194.6h0M193.4 216.6h0M175.5 183.7h0M186.8 217.0h0M194.1 219.6h0M191.7 175.1h0M205.5 190.5h0M200.8 202.3h0M181.2 191.2h0M185.9 188.6h0M173.6 235.2h0M189.3 208.8h0M188.3 231.4h0M214.5 204.3h0M187.8 220.8h0M165.3 178.6h0M179.9 196.1h0M187.9 223.8h0M173.9 207.3h0M177.9 232.1h0M183.0 206.0h0M190.3 195.5h0M185.1 201.4h0M177.7 247.0h0M194.8 213.9h0M181.2 196.3h0M181.7 200.5h0M172.6 182.8h0M178.7 233.6h0M193.5 196.0h0M170.2 220.4h0M186.0 202.8h0M194.1 198.5h0M182.9 192.6h0M189.2 218.9h0M175.3 203.1h0M200.2 231.2h0M198.1 236.3h0M189.2 195.4h0M168.8 208.1h0M176.0 240.6h0M196.8 224.6h0M204.3 206.5h0M189.8 174.6h0M199.6 185.2h0M180.5 190.3h0M184.8 244.1h0M186.8 209.0h0M191.1 197.0h0M171.1 198.7h0M196.4 198.3h0M200.3 211.8h0M175.0 170.4h0M172.9 176.2h0M190.4 208.9h0M180.1 227.3h0M162.5 164.2h0M195.1 218.4h0M188.4 182.0h0M181.9 167.2h0M208.4 226.6h0M188.2 200.9h0M179.0 214.2h0M187.8 196.2h0M176.1 200.3h0M179.0 166.5h0M190.7 194.7h0M181.1 207.1h0M182.1 183.5h0M203.9 212.6h0M195.6 214.6h0M195.0 160.4h0M192.2 224.0h0M191.7 217.1h0M201.7 206.0h0M186.6 229.0h0M205.8 250.9h0M177.0 185.0h0M184.2 223.3h0M172.6 218.2h0M183.2 214.7h0M192.1 227.4h0M201.7 229.3h0M180.0 203.6h0M186.8 157.0h0M183.1 191.6h0M179.2 191.4h0M174.6 238.3h0M187.4 207.5h0M169.0 231.6h0M187.9 190.9h0M187.0 211.7h0M180.0 206.2h0M176.4 208.8h0M172.6 219.1h0M206.0 238.6h0M173.0 194.9h0M202.7 235.8h0M192.9 231.5h0M183.0 213.2h0M174.9 221.7h0M197.5 201.5h0M204.5 185.9h0M177.2 201.8h0M183.7 202.9h0M197.6 206.5h0M190.2 189.1h0M207.3 245.4h0M180.9 199.3h0M192.3 226.4h0M173.9 232.6h0M208.3 206.9h0M179.3 215.0h0M164.1 194.8h0M185.5 184.0h0M185.3 255.4h0M206.4 208.5h0M183.3 166.2h0M186.6 188.9h0M192.9 176.8h0M203.0 204.8h0M186.1 236.8h0M197.4 230.4h0M192.1 192.1h0M183.7 187.0h0M187.6 222.2h0M187.1 212.5h0M177.4 201.5h0M199.2 243.4h0M172.6 214.2h0M198.8 173.3h0M196.6 161.5h0M185.8 209.2h0M178.9 168.8h0M184.5 217.9h0M191.6 223.8h0M194.4 253.6h0M189.7 187.0h0M196.9 214.7h0M181.1 158.2h0M189.2 200.0h0M170.7 203.0h0M194.6 244.6h0M188.3 175.7h0M182.5 214.5h0M198.7 210.3h0M193.9 252.9h0M157.9 187.7h0M187.2 186.3h0M171.9 219.5h0M197.7 205.0h0M212.3 198.8h0M181.5 186.9h0M187.5 204.7h0M184.2 171.0h0M190.4 212.0h0M193.4 219.5h0M200.0 216.6h0M176.6 259.7h0M202.9 223.7h0M177.2 185.9h0M189.6 201.4h0M198.7 223.9h0M194.1 199.6h0M177.1 248.9h0M179.6 212.8h0M182.0 195.9h0M186.2 192.3h0M198.5 223.0h0M173.5 187.9h0M191.6 167.9h0M193.0 215.7h0M192.5 191.4h0M191.6 239.3h0M202.3 247.7h0M191.8 194.1h0M195.6 205.9h0M192.5 202.7h0M205.2 219.0h0M167.3 213.0h0M199.9 189.9h0M184.1 171.1h0M183.9 211.3h0M176.8 241.2h0M167.6 180.3h0M182.9 194.3h0M179.7 192.6h0M191.8 203.0h0M171.7 158.4h0M201.5 205.2h0M189.6 196.1h0M184.2 245.4h0M179.5 218.9h0M178.7 221.1h0M175.2 207.4h0M181.2 199.5h0M186.8 222.4h0M185.0 170.7h0M172.3 229.0h0M184.0 216.2h0M177.6 201.8h0M188.4 232.9h0M205.9 194.9h0M193.2 193.6h0M183.6 212.9h0M170.1 167.0h0M172.3 205.1h0M169.5 200.9h0M194.2 226.8h0M178.9 241.7h0M187.4 219.9h0M180.4 213.5h0M187.7 216.3h0M201.1 190.8h0M179.7 256.5h0M183.3 230.4h0M178.5 244.8h0M195.7 178.8h0M176.3 218.6h0M175.2 217.5h0M172.5 229.7h0M172.3 188.1h0M191.6 215.4h0M213.1 202.2h0M176.6 249.2h0M196.5 182.4h0M189.3 198.6h0M175.5 195.3h0M183.9 181.0h0M184.4 210.8h0M179.7 210.3h0M206.6 191.8h0M167.2 197.9h0M190.7 211.9h0M190.2 205.8h0M180.8 217.3h0M188.3 191.9h0M195.8 187.3h0M188.3 206.6h0M191.1 167.6h0M193.9 238.8h0M165.9 211.6h0M201.9 171.1h0M210.1 215.5h0M196.8 240.1h0M197.2 177.6h0M172.3 195.4h0M185.6 231.6h0M178.4 190.6h0M180.8 228.1h0M196.7 234.7h0M178.5 209.9h0M185.4 216.8h0M167.2 229.6h0M185.1 214.4h0M187.7 227.7h0M179.5 205.5h0M179.4 207.2h0M206.1 191.2h0M174.4 216.2h0M176.0 234.5h0M178.5 234.3h0M199.1 211.8h0M208.3 174.7h0M190.2 189.0h0M179.4 220.1h0M182.4 187.1h0M197.7 230.9h0M177.4 185.6h0M201.7 214.7h0M201.3 190.7h0M187.5 193.7h0M193.4 212.5h0M194.5 199.9h0M202.7 229.0h0M176.0 208.2h0M198.9 184.1h0M182.9 121.2h0M178.9 192.0h0M187.8 204.9h0M184.6 227.8h0M176.6 184.6h0M170.4 241.3h0M177.1 223.5h0M201.7 199.2h0M206.9 231.9h0M193.4 174.5h0M198.9 183.9h0M181.5 218.6h0M186.0 218.3h0M189.7 234.2h0M175.7 235.9h0M176.6 197.4h0M187.8 193.7h0M183.5 199.4h0M175.9 201.1h0M190.7 218.4h0M184.1 199.2h0M197.2 237.4h0M186.7 206.5h0M183.7 175.9h0M188.1 179.1h0M185.0 216.4h0M179.9 213.7h0M182.7 177.9h0M194.5 169.3h0M193.4 238.0h0M200.0 215.6h0M169.4 201.8h0M182.7 181.2h0M182.5 224.2h0M188.5 193.3h0M182.1 213.0h0M181.5 157.0h0M194.8 197.7h0M188.6 209.5h0M174.8 213.7h0M200.5 184.6h0M197.0 192.5h0M180.9 229.3h0M195.3 202.1h0M179.2 234.7h0M198.3 222.5h0M184.5 233.7h0M178.5 234.4h0M182.9 221.0h0M178.9 227.2h0M188.7 195.6h0M188.6 190.0h0M187.1 211.7h0M181.1 230.1h0M149.2 189.9h0M187.7 249.0h0M167.3 247.0h0M189.3 191.5h0M198.4 192.9h0M189.6 186.3h0M182.8 211.2h0M184.9 233.0h0M185.4 217.3h0M181.1 194.8h0M180.8 222.7h0M177.3 221.3h0M199.0 235.8h0M186.6 231.0h0M196.6 189.0h0M184.2 197.2h0M187.5 230.9h0M185.0 229.2h0M191.5 218.4h0M195.2 195.2h0M189.2 231.1h0M179.9 210.2h0M178.8 251.5h0M203.8 232.9h0M183.9 197.9h0M183.8 187.9h0M201.8 230.8h0M197.9 222.8h0M192.2 190.0h0M182.7 214.8h0M210.9 218.0h0M190.8 195.8h0M192.4 202.6h0M185.0 183.4h0M172.3 190.0h0M173.1 218.7h0M190.9 209.1h0M190.8 207.9h0M184.3 235.0h0M174.8 227.0h0M172.0 186.3h0M183.4 239.8h0M171.8 185.8h0M196.0 200.7h0M198.6 209.5h0M215.8 195.4h0M195.8 196.7h0M180.7 181.4h0M177.8 215.0h0M151.4 211.4h0M180.7 211.8h0M185.0 167.3h0M196.7 186.9h0M193.0 225.9h0M192.8 213.6h0M189.0 221.3h0M193.5 206.3h0M201.6 202.1h0M175.9 158.7h0M182.1 244.7h0M172.5 185.1h0M203.4 197.5h0M200.1 221.2h0M194.5 209.7h0M174.5 216.9h0M188.5 205.5h0M184.4 185.5h0M187.6 238.3h0M184.8 179.1h0M192.1 214.3h0M182.7 175.2h0M195.5 197.9h0M189.2 180.8h0M183.8 194.7h0M185.6 183.8h0M182.3 205.3h0M195.1 223.9h0M184.0 192.5h0M189.8 191.6h0M182.7 162.7h0M171.5 248.3h0M196.1 210.6h0M175.9 184.3h0M193.7 232.6h0M191.1 211.2h0M169.8 162.2h0M177.1 176.9h0M181.5 224.8h0M178.4 176.7h0M209.4 198.4h0M202.6 208.7h0M191.9 223.2h0M205.6 210.6h0M215.2 219.6h0M178.8 219.6h0M201.7 205.9h0M199.9 229.0h0M212.1 225.9h0M205.4 218.7h0M189.1 186.2h0M177.9 229.5h0M203.1 220.0h0M205.8 215.1h0M195.5 171.9h0M197.5 216.1h0M190.1 227.4h0M204.9 202.3h0M199.4 226.5h0M205.3 245.6h0M196.5 217.9h0M192.2 210.1h0M193.7 228.4h0M214.8 198.8h0M209.7 212.0h0M207.7 198.0h0M209.8 167.7h0M197.5 207.9h0M199.1 280.0h0M187.6 212.5h0M204.9 223.8h0M209.2 188.3h0M196.0 185.6h0M214.5 203.9h0M191.2 184.7h0M198.2 219.9h0M200.6 223.0h0M208.7 197.9h0M210.0 201.6h0M192.8 215.7h0M207.1 220.4h0M224.5 217.3h0M194.6 190.7h0M206.0 213.2h0M197.6 204.5h0M206.7 198.1h0M197.0 204.4h0M206.8 198.1h0M173.2 229.7h0M193.0 217.1h0M201.1 195.1h0M204.9 215.1h0M199.8 179.1h0M194.4 206.9h0M213.0 206.1h0M182.1 205.5h0M196.3 214.8h0M208.6 203.7h0M197.3 195.6h0M203.3 210.7h0M202.2 207.8h0M196.7 221.4h0M199.8 230.9h0M188.8 187.8h0M197.5 213.1h0M198.4 212.2h0M199.8 211.4h0M192.7 194.9h0M193.7 192.9h0M183.2 232.9h0M208.1 215.5h0M193.9 205.5h0M190.7 211.2h0M180.7 221.3h0M194.0 202.4h0M207.1 229.0h0M213.3 224.0h0M182.0 258.1h0M212.7 214.3h0M194.1 226.9h0M190.3 186.9h0M198.9 178.5h0M197.9 257.5h0M206.8 219.7h0M197.6 182.8h0M197.3 190.5h0M199.5 227.0h0M203.9 224.1h0M210.1 194.4h0M200.1 201.0h0M204.4 217.9h0M207.2 217.0h0M204.9 230.8h0M200.5 204.7h0M192.9 220.6h0M195.1 198.7h0M193.5 204.2h0M212.6 205.8h0M185.9 210.2h0M208.5 218.0h0M209.1 200.7h0M203.2 217.5h0M195.3 217.4h0M200.2 202.5h0M203.3 218.2h0M200.2 205.1h0M185.8 227.1h0M192.9 216.3h0M197.3 217.4h0M192.2 199.6h0M202.1 243.8h0M199.8 233.9h0M214.3 221.1h0M196.4 210.8h0M198.0 213.5h0M212.9 208.0h0M206.9 190.8h0M191.4 180.1h0M205.6 194.1h0M192.4 196.7h0M203.3 222.6h0M219.2 201.5h0M197.7 208.6h0M207.5 190.7h0M204.7 189.1h0M212.3 235.9h0M195.6 230.2h0M200.6 184.8h0M205.3 232.2h0M197.2 192.7h0M195.2 214.1h0M202.4 247.1h0M206.4 205.8h0M204.6 231.0h0M193.2 223.7h0M201.9 210.9h0M200.9 178.1h0M210.9 226.0h0M194.2 179.5h0M197.1 186.0h0M213.4 222.6h0M197.5 210.7h0M192.4 231.0h0M196.3 196.0h0M195.9 216.2h0M195.8 238.3h0M212.4 257.0h0M194.2 201.6h0M187.8 200.7h0M210.5 228.7h0M201.5 233.5h0M204.1 210.6h0M201.6 186.2h0M203.8 186.6h0M205.2 235.2h0M202.0 203.0h0M187.4 186.9h0M200.3 205.3h0M192.1 210.9h0M202.3 218.5h0M200.4 252.8h0M211.4 233.6h0M181.1 230.6h0M192.6 201.9h0M191.9 206.9h0M191.5 170.2h0M204.4 175.0h0M191.1 199.7h0M191.6 201.3h0M205.5 242.8h0M190.0 234.6h0M186.9 226.3h0M191.5 239.9h0M200.6 202.0h0M188.5 223.0h0M199.8 216.8h0M193.7 196.9h0M206.9 199.5h0M197.9 174.5h0M214.6 220.1h0M198.7 189.8h0M192.9 204.9h0M200.1 225.9h0M197.7 242.5h0M195.0 250.6h0M219.2 183.7h0M210.2 206.7h0M208.2 188.2h0M208.3 195.0h0M191.9 204.4h0M195.1 235.1h0M189.9 204.4h0M208.6 238.7h0M214.5 184.5h0M196.4 221.4h0M199.0 193.9h0M196.3 233.7h0M202.5 252.0h0M200.8 190.5h0M202.2 197.8h0M203.8 198.8h0M200.8 228.5h0M197.7 214.1h0M210.3 181.6h0M203.2 227.0h0M193.4 216.2h0M211.5 206.3h0M199.1 227.3h0M207.1 207.1h0M199.2 210.7h0M214.0 215.7h0M214.0 189.0h0M200.0 195.8h0M198.5 228.5h0M197.3 230.0h0M204.0 212.4h0M204.4 196.9h0M172.9 206.7h0M184.2 209.5h0M192.1 210.7h0M211.3 245.3h0M201.2 214.2h0M183.4 200.3h0M199.9 222.4h0M193.4 151.4h0M196.2 247.0h0M191.6 219.7h0M196.3 214.2h0M190.6 202.3h0M195.5 238.6h0M192.6 220.0h0M206.8 203.4h0M196.7 212.3h0M201.4 173.8h0M194.3 203.8h0M205.8 230.9h0M201.2 209.6h0M195.6 201.8h0M208.4 191.1h0M197.9 209.0h0M219.7 233.7h0M201.5 195.7h0M200.9 200.2h0M201.1 198.3h0M210.5 216.9h0M201.3 213.7h0M196.1 213.0h0M189.9 198.5h0M214.1 180.1h0M210.5 231.1h0M212.6 226.3h0M199.1 177.4h0M190.4 196.6h0M202.0 215.6h0M192.1 204.6h0M195.6 192.7h0M210.0 239.0h0M195.3 218.8h0M189.5 234.0h0M200.3 216.6h0M185.5 222.9h0M204.0 235.7h0M191.7 182.4h0M210.8 243.6h0M188.0 205.5h0M189.4 217.5h0M195.7 202.0h0M178.0 254.7h0M189.1 193.3h0M198.3 245.3h0M203.8 199.2h0M197.5 219.0h0M203.3 189.6h0M200.9 202.5h0M199.2 219.9h0M191.8 207.8h0M197.0 217.3h0M207.5 203.4h0M207.0 242.7h0M204.4 223.9h0M192.7 228.9h0M209.9 196.9h0M193.5 234.4h0M199.7 221.4h0M213.8 240.6h0M184.0 217.6h0M199.7 210.1h0M206.0 173.1h0M196.7 223.1h0M184.6 208.0h0M206.9 217.6h0M209.7 212.1h0M212.5 206.3h0M190.6 224.8h0M186.5 245.8h0M201.9 196.1h0M216.3 213.7h0M197.6 233.8h0M208.0 205.2h0M194.5 199.5h0M204.4 248.4h0M205.9 210.1h0M196.2 220.6h0M214.5 183.4h0M215.2 234.6h0M194.0 195.4h0M189.3 226.4h0M184.2 177.3h0M208.7 203.9h0M201.5 220.6h0M196.2 200.9h0M193.5 189.2h0M195.4 229.3h0M210.7 215.4h0M204.3 220.6h0M180.4 202.2h0M188.1 192.0h0M186.3 248.3h0M202.2 204.6h0M200.5 235.8h0M207.2 240.6h0M195.6 227.7h0M196.4 196.4h0M194.2 201.9h0M205.5 245.3h0M189.6 220.0h0M194.5 206.8h0M183.1 198.9h0M205.9 215.9h0M187.8 212.6h0M195.0 201.9h0M198.9 198.8h0M195.9 185.1h0M179.9 232.1h0M203.8 241.5h0M205.9 235.9h0M200.4 230.1h0M195.8 209.3h0M198.7 219.9h0M218.0 212.5h0M191.3 195.0h0M206.6 189.3h0M214.9 230.6h0M208.6 190.9h0M199.6 208.0h0M173.9 223.6h0M214.9 246.8h0M195.0 207.2h0M204.5 181.5h0M184.5 211.9h0M206.9 237.7h0M199.2 176.7h0M210.8 202.4h0M177.3 215.2h0M202.9 218.6h0M199.0 153.8h0M197.8 231.2h0M201.7 218.7h0M196.9 214.3h0M206.2 208.1h0M189.3 215.2h0M203.6 221.6h0M209.4 197.8h0M191.1 206.6h0M216.5 182.9h0M199.1 195.5h0M193.8 240.3h0M204.3 208.0h0M204.0 213.1h0M202.4 222.5h0M203.6 196.8h0M199.1 197.1h0M184.5 227.7h0M211.9 179.0h0M201.7 214.6h0M188.8 205.7h0M206.2 240.9h0M204.4 203.3h0M203.4 234.2h0M204.2 241.3h0M212.3 210.1h0M189.6 187.0h0M209.4 225.1h0M218.4 231.8h0M202.3 190.1h0M180.2 193.6h0M199.0 213.0h0M190.4 206.3h0M190.1 231.2h0M195.8 236.1h0M213.0 238.0h0M193.1 218.7h0M199.6 197.5h0M206.6 218.5h0M196.3 212.0h0M206.6 199.4h0M195.2 252.0h0M217.9 194.5h0M201.8 206.2h0M195.1 231.8h0M196.7 216.9h0M194.2 240.5h0M196.9 201.7h0M195.4 212.3h0M181.9 216.6h0M198.5 236.1h0M184.8 204.8h0M192.7 203.3h0M196.0 200.8h0M196.7 241.4h0M198.8 218.9h0M205.2 221.3h0M196.2 196.3h0M209.6 198.2h0M208.5 204.0h0M206.2 195.9h0M203.0 211.5h0M200.8 166.8h0M199.7 217.2h0M196.5 213.3h0M201.7 234.3h0M182.7 207.0h0M185.9 207.7h0M200.8 190.7h0M213.9 205.7h0M194.9 235.1h0M192.8 211.9h0M181.9 211.2h0M199.5 200.4h0M196.7 210.7h0M193.3 221.5h0M184.4 210.3h0M212.8 209.6h0M202.7 231.4h0M211.8 227.3h0M206.4 210.6h0M191.4 193.1h0M199.7 209.3h0M203.5 213.1h0M196.4 203.8h0M196.1 211.4h0M193.9 241.1h0M193.8 222.1h0M199.7 190.1h0M185.2 210.2h0M180.7 232.6h0M195.3 255.7h0M183.7 209.7h0M200.3 214.8h0M192.7 171.6h0M198.2 229.1h0M213.9 200.9h0M196.4 189.9h0M200.9 200.4h0M201.6 232.3h0M207.9 209.6h0M191.0 227.2h0M207.8 219.7h0M200.0 200.2h0M200.7 241.8h0M205.0 194.8h0M207.0 181.8h0M202.7 197.8h0M213.2 218.2h0M214.4 179.6h0M206.3 177.6h0M206.9 229.5h0M209.3 206.4h0M203.1 209.7h0M211.2 202.1h0M193.6 203.4h0M205.8 226.5h0M195.9 220.0h0M194.4 206.0h0M208.3 176.6h0M209.8 193.2h0M209.4 187.2h0M196.4 199.4h0M202.3 215.1h0M195.7 222.3h0M197.3 236.2h0M204.0 213.1h0M200.5 206.2h0M205.8 224.0h0M198.7 243.4h0M180.6 249.7h0M212.7 247.5h0M203.6 184.5h0M195.7 181.6h0M215.4 194.6h0M219.9 200.8h0M193.4 202.7h0M195.8 237.5h0M188.7 168.5h0M195.0 213.0h0M194.0 209.9h0M197.6 220.3h0M189.3 239.4h0M193.3 206.9h0M217.4 192.3h0M215.3 203.1h0M199.0 237.7h0M199.7 253.3h0M197.2 181.3h0M202.6 190.8h0M196.5 238.6h0M195.7 219.9h0M210.1 174.6h0M193.4 219.1h0M198.5 218.9h0M189.2 210.4h0M202.9 204.8h0M189.5 214.4h0M184.9 194.7h0M191.1 217.4h0M196.0 223.3h0M190.8 245.9h0M214.6 207.2h0M202.1 172.1h0M199.0 201.6h0M200.0 189.4h0M204.1 206.1h0M197.7 206.7h0M209.8 251.7h0M198.8 220.0h0M197.3 249.8h0M206.1 228.2h0M197.9 221.7h0M185.6 220.6h0M184.1 230.0h0M197.2 212.1h0M200.3 214.7h0M218.1 203.7h0M189.4 223.7h0M194.3 215.4h0M194.7 228.4h0M214.0 211.2h0M197.0 216.8h0M198.0 185.4h0M204.0 190.6h0M173.2 205.8h0M208.9 174.4h0M200.1 244.8h0M204.9 223.4h0M184.6 223.8h0M208.9 189.1h0M206.1 232.0h0M221.4 234.3h0M199.2 239.5h0M211.2 203.5h0M200.0 205.4h0M186.3 202.9h0M160.4 178.7h0M200.3 219.6h0M187.2 199.2h0M209.7 195.3h0M188.0 223.0h0M166.0 225.5h0M188.4 215.4h0M188.5 185.9h0M193.6 199.8h0M196.8 202.4h0M187.0 194.0h0M162.8 170.9h0M169.1 183.1h0M187.6 175.1h0M188.0 235.6h0M202.7 202.3h0M189.2 205.4h0M201.7 183.6h0M190.8 253.5h0M181.7 204.6h0M213.1 196.3h0M186.2 172.4h0M185.9 208.5h0M189.8 251.8h0M201.2 195.1h0M183.5 241.3h0M190.6 166.3h0M178.4 238.9h0M193.5 254.7h0M155.9 220.7h0M177.7 215.7h0M179.7 197.7h0M184.4 225.2h0M181.1 188.9h0M201.2 180.8h0M197.5 304.8h0M173.3 216.8h0M190.5 255.2h0M207.9 198.5h0M178.8 202.6h0M182.7 229.9h0M194.8 220.8h0M167.5 226.2h0M186.0 239.3h0M205.6 239.5h0M212.7 181.0h0M174.2 203.5h0M204.5 213.0h0M170.7 204.0h0M216.0 251.3h0M195.6 207.0h0M186.0 218.8h0M183.2 176.6h0M196.2 236.6h0M209.9 245.5h0M197.2 201.8h0M204.8 196.7h0M202.8 207.9h0M201.6 197.0h0M218.4 227.6h0M204.8 193.4h0M190.3 223.8h0M194.2 250.5h0M168.3 186.1h0M165.7 164.7h0M183.9 199.7h0M188.9 194.6h0M183.9 217.8h0M186.0 176.0h0M204.0 169.4h0M193.0 212.9h0M163.9 188.0h0M199.8 218.9h0M199.3 168.9h0M189.2 175.8h0M192.2 258.1h0M181.1 219.0h0M195.4 232.4h0M181.6 235.3h0M187.3 204.9h0M201.7 183.4h0M190.2 199.8h0M189.4 203.6h0M209.9 280.3h0M185.4 197.7h0M204.0 239.2h0M192.8 181.5h0M181.5 263.2h0M182.7 242.3h0M197.1 232.0h0M213.2 202.8h0M176.4 221.8h0M172.3 195.4h0M209.1 213.3h0M201.0 234.7h0M192.3 139.0h0M167.9 170.6h0M204.6 262.4h0M167.4 235.7h0M201.7 219.6h0M185.5 186.1h0M189.5 200.3h0M183.3 173.8h0M176.8 157.5h0M183.0 230.5h0M197.1 193.7h0M159.6 200.5h0M168.6 231.5h0M199.0 232.4h0M192.9 218.2h0M215.3 209.9h0M171.1 239.6h0M174.9 203.3h0M187.7 178.5h0M190.1 203.4h0M192.4 211.0h0M191.9 184.1h0M198.9 223.3h0M162.5 231.1h0M191.7 280.7h0M180.9 194.1h0M179.6 240.3h0M212.6 166.5h0M184.0 168.4h0M206.1 240.7h0M225.8 235.1h0M183.9 239.8h0M188.7 246.3h0M187.5 175.6h0M190.6 215.4h0M209.6 234.0h0M201.3 216.5h0M190.6 206.7h0M189.3 209.2h0M176.4 224.5h0M193.8 210.9h0M170.9 228.6h0M177.6 209.4h0M190.0 205.2h0M178.1 207.4h0M167.9 293.0h0M186.6 256.8h0M173.9 243.6h0M196.3 243.8h0M191.2 222.6h0M169.6 254.7h0M193.8 196.9h0M198.2 154.4h0M191.0 200.2h0M185.4 205.4h0M182.1 235.0h0M215.4 263.6h0M190.6 195.6h0M189.1 237.1h0M184.2 222.4h0M171.6 210.2h0M181.1 225.2h0M196.6 240.2h0M193.1 227.1h0M192.9 207.1h0M190.2 238.1h0M175.7 234.5h0M189.2 187.3h0M202.1 224.1h0M187.9 257.0h0M155.2 234.9h0M177.2 255.2h0M161.4 193.8h0M175.2 259.0h0M219.6 204.5h0M182.1 189.7h0M175.8 163.0h0M164.7 248.2h0M184.5 232.3h0M206.5 257.0h0M176.1 202.9h0M194.4 180.5h0M191.3 145.2h0M179.6 204.9h0M198.5 219.4h0M182.2 223.8h0M177.2 243.4h0M178.4 255.8h0M191.6 257.1h0M215.5 160.4h0M201.9 216.6h0M177.9 174.5h0M188.7 194.0h0M175.9 179.2h0M174.8 207.4h0M161.6 229.8h0M193.2 223.8h0M179.8 187.4h0M185.0 174.2h0M151.8 194.0h0M193.3 256.0h0M167.6 184.9h0M170.9 229.4h0M194.5 220.5h0M192.8 236.2h0M190.2 179.0h0M190.6 275.2h0M195.3 209.1h0M173.2 169.8h0M161.3 155.7h0M177.0 164.5h0M185.4 249.9h0M187.4 201.0h0M193.7 179.6h0M173.3 196.3h0M196.4 218.8h0M172.7 238.9h0M196.6 187.3h0M174.2 250.1h0M203.6 256.4h0M188.3 234.5h0M161.1 207.2h0M183.3 168.6h0M209.4 211.3h0M179.0 200.7h0M230.1 217.2h0M162.9 212.8h0M197.8 212.2h0M184.3 214.9h0M203.7 198.8h0M185.6 221.6h0M225.3 222.5h0M265.1 199.1h0M264.8 206.4h0M234.8 203.0h0M163.5 215.7h0M207.7 203.3h0M207.2 224.0h0M231.7 210.1h0M187.1 206.1h0M231.7 226.3h0M259.0 215.3h0M179.0 221.2h0M213.3 216.6h0M185.7 212.0h0M217.5 213.0h0M236.1 226.7h0M232.8 203.5h0M224.5 220.5h0M218.2 206.8h0M235.4 215.5h0M211.3 223.6h0M170.4 201.9h0M264.4 211.1h0M246.5 205.8h0M260.3 205.5h0M178.5 206.6h0M250.9 215.8h0M248.9 205.3h0M264.5 201.3h0M211.3 215.2h0M174.7 218.5h0M173.3 214.5h0M258.5 200.0h0M163.1 210.1h0M217.7 196.8h0M256.0 212.9h0M158.8 209.1h0M231.8 196.4h0M176.7 194.7h0M163.9 202.9h0M155.1 219.0h0M218.4 209.0h0M252.3 332.4h0M99.9 200.5h0M201.0 96.4h0M211.0 98.2h0M218.1 103.4h0M179.7 99.9h0M164.0 139.8h0M168.3 122.4h0M189.6 115.5h0M196.7 112.0h0M208.1 119.0h0M216.7 108.6h0M185.3 125.9h0M175.4 120.7h0M225.2 132.9h0M222.4 141.5h0M246.6 113.8h0M203.9 129.4h0" stroke="#d6d6d6" stroke-width="2.7" stroke-linecap="round" fill="none"/>
<line x1="89.5" y1="209.5" x2="337.5" y2="209.5" stroke="#333" stroke-width="0.9" stroke-dasharray="2.8 2.2"/>
<line x1="182.5" y1="91.5" x2="182.5" y2="347.0" stroke="#333" stroke-width="0.9" stroke-dasharray="2.8 2.2"/>
<path d="M104.3 205.5h0M110.2 205.6h0M140.0 214.1h0M127.5 206.6h0M116.2 206.2h0M141.0 211.2h0M135.9 209.4h0M106.0 210.5h0M147.0 207.0h0M113.2 203.4h0M118.1 212.2h0M125.0 212.6h0M118.2 207.9h0M108.9 211.9h0M134.6 207.2h0M112.8 210.2h0M136.1 208.1h0M120.8 206.9h0M159.4 209.5h0M164.7 195.7h0M163.0 231.0h0M155.7 233.1h0M158.0 209.7h0M161.3 232.3h0M169.3 213.6h0M163.6 203.6h0M153.9 213.3h0M173.5 245.1h0M170.0 234.7h0M138.5 223.7h0M170.3 197.7h0M166.7 188.0h0M154.2 194.5h0M155.8 207.2h0M165.7 202.1h0M160.8 209.1h0M170.1 240.0h0M164.9 207.2h0M155.3 211.5h0M164.2 215.1h0M163.4 200.3h0M152.8 218.3h0M167.6 197.5h0M154.6 246.0h0M134.1 183.2h0M159.7 160.6h0M151.2 240.4h0M149.7 247.4h0" stroke="#4e85c6" stroke-width="2.7" stroke-linecap="round" fill="none"/>
<path d="M233.7 225.1h0M205.0 182.3h0M214.0 180.3h0M206.8 234.3h0M248.5 220.1h0M200.3 188.6h0M213.9 196.3h0M203.1 197.2h0M207.5 204.7h0M217.2 205.6h0M223.3 224.4h0M228.3 180.9h0M206.8 193.7h0M218.5 192.1h0M271.0 197.0h0M216.6 185.3h0M237.9 216.0h0M223.6 191.3h0M217.7 202.7h0M271.8 217.6h0M269.0 221.2h0M202.0 204.0h0M229.0 212.8h0M207.6 200.6h0M221.5 226.1h0M211.3 180.2h0M203.2 179.0h0M216.7 255.4h0M212.8 206.1h0M219.4 189.5h0M226.4 220.8h0M201.5 164.3h0M208.5 221.5h0M237.6 214.8h0M199.7 184.0h0M215.0 220.0h0M199.4 202.9h0M210.2 203.5h0M210.0 214.1h0M209.9 201.1h0M211.4 186.3h0M222.0 225.4h0M240.8 227.0h0M217.7 204.1h0M233.5 215.6h0M215.0 254.6h0M215.2 179.8h0M262.2 192.3h0M211.5 213.9h0M232.7 222.2h0M229.1 210.1h0M292.3 234.5h0M202.9 230.0h0M216.9 211.0h0M242.5 204.0h0M219.5 206.8h0M231.8 198.8h0M202.7 172.1h0M223.0 180.6h0M213.8 214.2h0M232.7 182.9h0M233.1 251.9h0M204.4 195.0h0M205.2 199.4h0M199.2 214.4h0M224.5 258.7h0M219.9 195.4h0M217.6 195.7h0M211.0 182.8h0M227.7 222.9h0M241.2 230.6h0M218.1 221.3h0M221.1 216.3h0M221.9 207.2h0M248.5 199.3h0M211.0 211.5h0M202.5 189.2h0M206.3 240.1h0M228.5 205.7h0M205.1 212.8h0M212.1 177.0h0M210.1 207.6h0M218.9 256.1h0M209.0 216.2h0M215.5 232.3h0M205.3 170.9h0M253.4 199.2h0M267.1 205.0h0M230.2 226.9h0M226.4 229.2h0M214.0 212.7h0M235.0 205.9h0M202.0 202.6h0M200.8 223.7h0M207.4 224.1h0M206.9 208.3h0M219.0 189.1h0M213.2 181.1h0M204.5 239.1h0M204.5 191.2h0M238.9 198.9h0M213.0 206.4h0M232.9 212.6h0M223.5 226.9h0M268.8 193.5h0M223.2 256.9h0M282.8 236.3h0M221.7 198.9h0M203.2 181.1h0M201.9 216.2h0M288.1 181.5h0M208.8 188.2h0M232.8 196.1h0M233.3 205.1h0M224.5 222.5h0M208.9 238.5h0M218.3 208.3h0M217.6 191.5h0M277.5 239.3h0M251.9 211.1h0M209.8 180.0h0M230.7 230.3h0M212.3 218.9h0M231.8 232.7h0M219.0 226.1h0M227.3 240.4h0M204.9 203.1h0M230.2 218.1h0M228.7 233.8h0M219.1 232.1h0M244.8 228.5h0M219.2 196.3h0M233.8 238.9h0M243.9 201.0h0M225.8 235.9h0M245.8 194.3h0M254.0 201.3h0M214.3 209.0h0M204.8 195.8h0M238.5 241.2h0M294.6 202.2h0M205.0 204.7h0M205.7 207.0h0M227.1 229.4h0M207.5 215.6h0M214.2 205.1h0M258.9 231.6h0M218.9 221.8h0M220.0 201.3h0M224.1 214.8h0M241.2 190.2h0M238.9 217.7h0M240.8 211.2h0M199.4 225.0h0M203.5 225.6h0M213.0 225.6h0M256.5 191.2h0M211.2 237.7h0M211.5 216.4h0M210.0 176.7h0M216.8 218.2h0M234.6 213.1h0M223.2 228.1h0M207.7 203.2h0M198.5 182.8h0M209.3 240.8h0M238.1 236.5h0M213.8 222.9h0M203.1 205.0h0M265.2 243.8h0M213.9 202.3h0M245.4 227.4h0M216.8 199.7h0M212.3 191.1h0M227.0 200.1h0M232.7 203.8h0M242.9 211.2h0M249.8 210.9h0M252.8 205.5h0M262.2 209.5h0M261.2 207.1h0M232.5 209.3h0M224.4 208.2h0M233.2 209.4h0M253.1 207.4h0M250.2 205.4h0M273.6 205.4h0M234.9 214.7h0M263.0 208.8h0M270.9 209.9h0M236.9 204.1h0M261.7 205.7h0M249.4 213.8h0M255.1 211.2h0M249.8 215.6h0M223.6 207.9h0M233.0 208.4h0M271.7 210.4h0M239.7 214.6h0M224.0 207.8h0M267.2 212.5h0M262.1 207.0h0M249.6 212.3h0M221.6 202.1h0M326.3 171.0h0M303.5 217.9h0M282.2 139.8h0M220.9 120.7h0M249.4 157.1h0M263.7 169.3h0M211.0 153.7h0M225.2 276.9h0" stroke="#dc2b1a" stroke-width="2.7" stroke-linecap="round" fill="none"/>
<rect x="89.5" y="91.5" width="248.0" height="255.5" fill="none" stroke="#a8a8a8" stroke-width="1"/>
<line x1="87.0" y1="139.8" x2="89.5" y2="139.8" stroke="#333" stroke-width="0.9"/>
<text x="87.3" y="144.2" font-size="18.2" fill="#4d4d4d" stroke="#4d4d4d" stroke-width="0.25" text-anchor="end">4</text>
<line x1="87.0" y1="209.2" x2="89.5" y2="209.2" stroke="#333" stroke-width="0.9"/>
<text x="87.3" y="213.6" font-size="18.2" fill="#4d4d4d" stroke="#4d4d4d" stroke-width="0.25" text-anchor="end">0</text>
<line x1="87.0" y1="278.6" x2="89.5" y2="278.6" stroke="#333" stroke-width="0.9"/>
<text x="87.3" y="283.0" font-size="18.2" fill="#4d4d4d" stroke="#4d4d4d" stroke-width="0.25" text-anchor="end">−4</text>
<line x1="111.3" y1="347.0" x2="111.3" y2="349.5" stroke="#333" stroke-width="0.9"/>
<text x="105.7" y="365.2" font-size="18.2" fill="#4d4d4d" stroke="#4d4d4d" stroke-width="0.25" text-anchor="middle">−5</text>
<line x1="182.5" y1="347.0" x2="182.5" y2="349.5" stroke="#333" stroke-width="0.9"/>
<text x="182.5" y="365.2" font-size="18.2" fill="#4d4d4d" stroke="#4d4d4d" stroke-width="0.25" text-anchor="middle">0</text>
<line x1="253.7" y1="347.0" x2="253.7" y2="349.5" stroke="#333" stroke-width="0.9"/>
<text x="253.7" y="365.2" font-size="18.2" fill="#4d4d4d" stroke="#4d4d4d" stroke-width="0.25" text-anchor="middle">5</text>
<line x1="324.9" y1="347.0" x2="324.9" y2="349.5" stroke="#333" stroke-width="0.9"/>
<text x="324.9" y="365.2" font-size="18.2" fill="#4d4d4d" stroke="#4d4d4d" stroke-width="0.25" text-anchor="middle">10</text>
<text x="214.0" y="383.3" font-size="18.2" fill="#000" stroke="#000" stroke-width="0.25" text-anchor="middle">COVID19 vs. Healthy (RNA-seq)</text>
<text x="62.0" y="215.5" font-size="18.2" fill="#000" stroke="#000" stroke-width="0.25" text-anchor="middle" transform="rotate(-90 62 215.5)">Sepsis vs. Healthy (Microarray)</text>
<text x="361.6" y="20.6" font-size="27" fill="#000" font-weight="bold">b</text>
<circle cx="408.4" cy="12.6" r="3.4" fill="#4e85c6"/>
<text x="416.8" y="16.3" font-size="18.2" fill="#000" stroke="#000" stroke-width="0.25">Downregulated</text>
<circle cx="408.4" cy="27.6" r="3.4" fill="#d6d6d6"/>
<text x="416.8" y="32.8" font-size="18.2" fill="#000" stroke="#000" stroke-width="0.25">Not significant</text>
<circle cx="408.4" cy="44.0" r="3.4" fill="#dc2b1a"/>
<text x="416.8" y="49.3" font-size="18.2" fill="#000" stroke="#000" stroke-width="0.25">Upregulated</text>
<text x="551.0" y="80.6" font-size="18.2" fill="#000" stroke="#000" stroke-width="0.25" text-anchor="middle">Stimulated</text>
<rect x="427.5" y="89.5" width="243.89999999999998" height="255.7" fill="#fff"/>
<line x1="474.5" y1="89.5" x2="474.5" y2="345.2" stroke="#f7f7f7" stroke-width="1"/>
<line x1="541.5" y1="89.5" x2="541.5" y2="345.2" stroke="#f7f7f7" stroke-width="1"/>
<line x1="608.5" y1="89.5" x2="608.5" y2="345.2" stroke="#f7f7f7" stroke-width="1"/>
<line x1="440.5" y1="89.5" x2="440.5" y2="345.2" stroke="#f7f7f7" stroke-width="1"/>
<line x1="507.5" y1="89.5" x2="507.5" y2="345.2" stroke="#f7f7f7" stroke-width="1"/>
<line x1="574.5" y1="89.5" x2="574.5" y2="345.2" stroke="#f7f7f7" stroke-width="1"/>
<line x1="641.5" y1="89.5" x2="641.5" y2="345.2" stroke="#f7f7f7" stroke-width="1"/>
<line x1="427.5" y1="321.5" x2="671.4" y2="321.5" stroke="#f7f7f7" stroke-width="1"/>
<line x1="427.5" y1="274.5" x2="671.4" y2="274.5" stroke="#f7f7f7" stroke-width="1"/>
<line x1="427.5" y1="227.5" x2="671.4" y2="227.5" stroke="#f7f7f7" stroke-width="1"/>
<line x1="427.5" y1="180.5" x2="671.4" y2="180.5" stroke="#f7f7f7" stroke-width="1"/>
<line x1="427.5" y1="133.5" x2="671.4" y2="133.5" stroke="#f7f7f7" stroke-width="1"/>
<line x1="427.5" y1="298.5" x2="671.4" y2="298.5" stroke="#f7f7f7" stroke-width="1"/>
<line x1="427.5" y1="251.5" x2="671.4" y2="251.5" stroke="#f7f7f7" stroke-width="1"/>
<line x1="427.5" y1="204.5" x2="671.4" y2="204.5" stroke="#f7f7f7" stroke-width="1"/>
<line x1="427.5" y1="157.5" x2="671.4" y2="157.5" stroke="#f7f7f7" stroke-width="1"/>
<line x1="427.5" y1="110.5" x2="671.4" y2="110.5" stroke="#f7f7f7" stroke-width="1"/>
<path d="M575.3 187.5h0M573.8 169.5h0M575.9 207.7h0M581.3 185.6h0M585.1 178.8h0M581.5 191.8h0M577.0 213.4h0M576.8 227.1h0M566.5 202.8h0M570.1 195.6h0M569.3 209.0h0M582.8 203.3h0M564.8 204.2h0M583.9 232.4h0M578.7 204.0h0M578.9 199.3h0M583.8 173.1h0M570.5 199.3h0M580.5 197.0h0M568.1 204.0h0M580.4 215.4h0M569.5 229.5h0M570.2 192.5h0M564.9 217.1h0M576.1 195.6h0M584.7 196.7h0M570.4 207.1h0M583.3 200.0h0M565.9 189.1h0M565.2 182.7h0M579.9 199.3h0M574.2 216.3h0M576.6 211.2h0M581.0 211.3h0M578.5 174.1h0M568.1 223.9h0M584.4 230.6h0M580.8 179.9h0M582.8 209.9h0M573.1 218.0h0M565.2 198.5h0M582.1 183.1h0M575.7 214.6h0M584.3 234.8h0M578.5 207.1h0M568.6 219.6h0M576.9 177.0h0M576.3 218.1h0M572.4 199.7h0M565.4 181.1h0M572.6 206.1h0M572.1 213.8h0M567.8 180.0h0M569.3 203.4h0M575.6 214.6h0M581.3 201.0h0M568.0 187.4h0M585.2 189.4h0M573.8 193.9h0M579.1 191.0h0M582.4 202.1h0M564.5 223.3h0M573.5 200.8h0M569.7 234.3h0M580.5 192.3h0M582.8 220.3h0M585.3 224.2h0M570.2 172.2h0M574.2 197.0h0M575.0 197.6h0M570.3 207.6h0M580.0 199.4h0M578.0 214.2h0M579.0 210.7h0M566.5 200.8h0M567.2 200.7h0M576.5 252.4h0M564.6 175.7h0M565.4 214.3h0M576.1 184.4h0M564.3 178.4h0M574.6 194.4h0M578.2 210.0h0M573.0 190.6h0M567.3 209.2h0M567.3 221.5h0M583.4 250.2h0M573.9 188.5h0M570.5 198.9h0M573.1 173.6h0M581.9 202.6h0M572.9 196.1h0M579.9 198.2h0M584.8 206.8h0M567.4 191.6h0M572.7 190.9h0M580.0 190.9h0M585.2 218.6h0M564.7 206.2h0M563.8 166.1h0M578.1 197.7h0M581.1 213.6h0M578.9 228.8h0M565.5 177.0h0M583.1 181.5h0M572.0 193.8h0M569.5 209.2h0M575.2 188.9h0M576.8 179.9h0M565.0 198.4h0M574.4 200.6h0M585.4 208.5h0M579.8 201.2h0M571.0 217.8h0M571.0 195.9h0M579.5 217.6h0M581.2 213.4h0M570.4 222.4h0M577.8 227.5h0M583.9 199.3h0M581.0 168.1h0M564.8 238.0h0M566.2 202.0h0M577.6 231.5h0M569.9 202.7h0M569.3 231.1h0M577.9 203.3h0M585.5 209.7h0M568.7 199.7h0M582.7 194.5h0M570.9 204.4h0M564.9 202.7h0M566.7 216.9h0M569.3 212.7h0M566.3 207.1h0M566.0 203.2h0M579.0 196.5h0M577.0 193.8h0M575.1 226.4h0M572.7 182.8h0M575.2 194.3h0M575.3 202.6h0M574.8 201.9h0M563.6 219.3h0M576.1 191.7h0M572.9 246.0h0M574.5 243.6h0M568.8 189.0h0M583.8 214.1h0M568.3 205.9h0M574.6 216.0h0M563.5 189.6h0M573.7 220.8h0M576.8 201.9h0M578.7 193.9h0M568.7 172.3h0M572.2 181.9h0M574.0 201.1h0M566.7 186.5h0M575.5 210.9h0M572.6 201.8h0M581.1 187.5h0M564.7 175.5h0M573.4 224.1h0M584.6 209.0h0M566.1 192.5h0M566.6 189.7h0M572.6 195.8h0M577.9 204.3h0M577.7 219.6h0M576.2 223.4h0M580.8 193.2h0M575.5 211.6h0M571.6 205.6h0M566.3 215.0h0M570.5 209.9h0M571.2 218.3h0M569.4 208.0h0M584.5 206.6h0M579.8 193.3h0M565.2 218.4h0M576.6 234.7h0M570.0 208.4h0M570.7 196.9h0M567.0 211.6h0M574.7 186.9h0M578.9 202.0h0M579.3 217.9h0M564.4 189.0h0M579.0 195.6h0M582.3 206.3h0M581.7 207.8h0M585.5 222.3h0M576.5 237.5h0M569.4 193.0h0M582.8 159.4h0M584.7 187.2h0M576.4 192.0h0M564.2 200.0h0M571.9 209.3h0M567.5 171.8h0M578.3 196.9h0M582.0 181.4h0M585.0 204.1h0M569.6 188.9h0M565.2 186.5h0M570.2 216.8h0M580.0 226.3h0M582.8 191.1h0M574.2 184.1h0M564.3 190.8h0M569.2 208.5h0M581.6 230.6h0M584.2 214.0h0M571.3 182.4h0M582.3 186.3h0M580.6 207.1h0M573.5 186.4h0M572.7 205.2h0M580.3 217.7h0M566.4 201.8h0M567.3 215.2h0M567.6 184.9h0M569.7 215.4h0M581.5 197.3h0M581.0 179.8h0M567.5 202.8h0M564.2 215.7h0M584.6 183.8h0M582.4 192.8h0M564.3 180.1h0M569.2 203.3h0M571.8 193.5h0M563.6 204.1h0M569.8 191.3h0M578.8 200.3h0M577.5 208.8h0M575.7 222.9h0M564.3 215.2h0M575.8 208.5h0M574.7 193.5h0M576.8 192.3h0M581.3 204.7h0M563.7 186.1h0M584.7 169.2h0M580.7 208.6h0M572.8 188.8h0M571.0 194.3h0M572.3 195.4h0M575.0 199.7h0M581.2 244.8h0M573.5 181.8h0M563.8 239.0h0M571.7 232.7h0M584.9 196.9h0M570.3 186.2h0M567.1 190.4h0M574.5 221.0h0M567.4 223.8h0M579.2 199.2h0M564.8 232.1h0M581.6 174.8h0M585.1 171.3h0M582.9 204.1h0M577.4 205.0h0M571.3 197.6h0M565.4 163.5h0M570.2 219.4h0M580.7 216.1h0M566.2 193.3h0M567.4 210.7h0M582.7 185.4h0M572.3 160.7h0M576.1 186.4h0M563.5 213.6h0M576.3 198.1h0M584.2 205.8h0M585.0 221.7h0M567.7 188.2h0M577.5 176.4h0M573.9 189.7h0M583.1 167.8h0M571.4 216.5h0M563.9 204.0h0M571.2 226.6h0M581.8 198.8h0M566.3 175.4h0M563.9 201.2h0M575.2 207.9h0M572.6 186.7h0M571.8 176.8h0M578.7 196.7h0M582.4 202.3h0M567.5 176.2h0M581.6 191.3h0M581.2 174.7h0M579.9 212.4h0M582.0 200.8h0M580.7 211.7h0M568.0 229.5h0M573.7 220.4h0M575.6 190.2h0M585.1 183.9h0M578.5 205.8h0M582.5 208.6h0M565.7 175.6h0M563.5 213.3h0M567.9 190.1h0M584.4 222.9h0M573.8 231.5h0M570.3 197.5h0M579.2 202.4h0M570.0 212.8h0M564.4 229.2h0M583.6 195.8h0M581.4 216.3h0M581.3 167.1h0M572.4 190.8h0M573.7 211.3h0M569.3 222.0h0M571.9 201.7h0M580.8 213.4h0M582.1 224.2h0M571.6 188.8h0M567.4 215.4h0M575.0 190.2h0M578.8 211.4h0M568.6 193.7h0M584.5 195.9h0M574.6 180.3h0M565.4 184.4h0M576.4 218.3h0M568.2 184.0h0M584.7 164.7h0M567.3 216.7h0M581.4 186.4h0M581.2 201.9h0M570.8 193.0h0M576.5 149.6h0M574.7 246.5h0M581.0 219.6h0M569.2 198.5h0M567.5 221.0h0M577.7 203.8h0M570.9 182.7h0M569.0 200.4h0M572.6 218.8h0M574.5 181.4h0M565.9 191.9h0M564.2 215.2h0M564.8 190.7h0M578.3 239.8h0M585.1 235.4h0M568.7 196.8h0M577.8 205.3h0M576.8 178.0h0M584.6 202.6h0M570.3 231.9h0M573.3 155.9h0M574.0 199.4h0M583.7 196.5h0M581.6 227.1h0M579.9 165.6h0M583.4 170.6h0M577.7 173.0h0M574.3 191.0h0M570.8 181.3h0M572.8 183.7h0M570.1 226.7h0M567.6 174.3h0M565.4 223.6h0M567.2 187.6h0M569.6 246.5h0M581.6 183.7h0M581.2 232.5h0M571.1 181.4h0M564.9 191.0h0M566.3 192.9h0M578.0 206.1h0M568.0 195.4h0M575.3 182.5h0M567.7 215.4h0M582.5 221.2h0M572.7 180.0h0M578.9 241.5h0M574.0 177.4h0M571.1 241.9h0M572.6 202.1h0M567.4 175.1h0M565.1 177.2h0M578.0 227.5h0M585.0 209.0h0M569.4 181.6h0M577.6 183.2h0M579.1 257.5h0M563.8 191.6h0M572.3 219.2h0M575.1 163.9h0M563.5 213.9h0M573.3 163.3h0M571.8 188.7h0M570.8 180.0h0M571.4 182.3h0M573.0 191.0h0M576.8 210.8h0M563.5 210.1h0M567.7 212.5h0M564.4 220.8h0M577.4 207.0h0M572.1 197.7h0M566.9 204.4h0M577.2 179.5h0M564.0 204.8h0M567.2 181.5h0M573.4 190.8h0M576.3 169.3h0M565.7 188.6h0M582.5 176.0h0M579.2 184.5h0M584.7 198.7h0M581.0 179.9h0M579.5 219.6h0M565.2 195.5h0M578.4 194.9h0M584.4 180.8h0M581.4 225.9h0M569.9 199.1h0M571.2 186.8h0M568.4 183.2h0M584.9 209.4h0M577.2 222.8h0M570.7 191.5h0M569.9 225.2h0M564.4 197.4h0M564.8 199.7h0M576.1 194.7h0M584.4 174.3h0M575.6 181.2h0M575.1 190.0h0M580.7 185.3h0M564.7 201.2h0M568.4 191.7h0M565.5 193.1h0M568.0 208.7h0M578.7 195.9h0M564.6 164.4h0M566.2 199.7h0M567.0 195.0h0M584.1 216.3h0M569.0 214.6h0M564.6 221.2h0M577.3 212.3h0M577.0 168.9h0M585.1 172.7h0M573.7 197.9h0M568.9 238.8h0M568.8 175.4h0M563.7 209.7h0M574.5 217.4h0M574.9 172.0h0M579.1 197.0h0M584.5 162.9h0M583.9 194.0h0M579.1 211.5h0M572.1 211.2h0M584.9 236.2h0M583.7 197.1h0M576.1 209.3h0M572.1 187.4h0M580.9 201.7h0M571.8 165.1h0M582.0 208.6h0M581.9 191.6h0M569.2 164.4h0M572.0 184.6h0M578.3 169.2h0M573.9 170.8h0M577.3 201.5h0M572.4 206.8h0M577.9 242.5h0M567.1 198.4h0M572.6 200.8h0M577.1 192.6h0M581.3 168.1h0M565.1 202.4h0M564.6 203.9h0M578.7 188.9h0M578.2 202.0h0M577.5 207.1h0M563.4 212.8h0M570.3 198.8h0M584.2 192.0h0M571.9 216.5h0M564.1 208.4h0M574.7 197.6h0M563.8 215.5h0M574.0 183.1h0M577.7 182.3h0M583.5 204.4h0M574.6 151.0h0M565.0 180.6h0M569.7 188.7h0M576.9 191.9h0M564.5 176.7h0M572.7 170.9h0M572.5 190.6h0M576.3 151.5h0M569.6 197.7h0M573.3 208.6h0M582.8 214.0h0M574.5 206.8h0M575.9 202.0h0M584.8 205.1h0M563.6 209.0h0M584.4 187.5h0M572.0 221.4h0M580.8 223.0h0M567.0 198.9h0M571.7 204.9h0M575.3 214.8h0M585.2 162.4h0M572.4 203.5h0M575.5 192.1h0M582.2 222.0h0M570.3 139.3h0M571.7 205.0h0M563.7 181.7h0M578.8 194.6h0M568.9 187.5h0M574.8 209.4h0M584.9 243.9h0M565.8 226.4h0M584.7 169.6h0M578.1 188.7h0M578.0 187.1h0M563.5 209.0h0M570.9 204.6h0M565.5 205.7h0M567.3 219.9h0M573.9 185.9h0M574.1 211.4h0M580.9 229.9h0M580.5 197.9h0M566.9 200.7h0M571.9 210.8h0M578.3 194.2h0M567.1 188.2h0M565.5 178.3h0M571.6 209.2h0M580.4 211.4h0M585.5 186.2h0M583.0 197.6h0M565.0 206.0h0M572.3 183.4h0M572.4 174.2h0M580.8 186.3h0M584.0 216.7h0M582.8 247.6h0M564.0 182.3h0M582.9 203.7h0M565.8 200.5h0M568.5 160.3h0M570.8 182.9h0M584.3 195.2h0M583.8 198.5h0M567.7 228.8h0M563.8 187.9h0M568.0 201.6h0M569.7 191.8h0M573.0 173.6h0M567.8 212.7h0M566.5 189.5h0M581.9 238.3h0M563.7 232.6h0M579.6 191.7h0M566.9 183.8h0M567.7 211.4h0M575.3 178.2h0M574.6 199.2h0M576.8 178.9h0M565.0 213.1h0M583.3 215.2h0M577.7 176.8h0M567.7 174.2h0M579.7 215.8h0M578.8 172.8h0M571.0 225.1h0M585.3 191.3h0M569.4 217.6h0M564.3 213.9h0M582.7 200.2h0M576.3 202.7h0M572.9 182.9h0M572.0 204.0h0M572.8 229.4h0M580.7 181.9h0M583.5 163.0h0M566.6 231.8h0M582.7 181.2h0M581.6 228.8h0M569.1 187.1h0M565.9 205.9h0M578.8 221.1h0M584.5 197.4h0M580.8 211.9h0M585.5 168.5h0M583.8 202.4h0M569.7 193.1h0M568.2 198.2h0M584.1 183.5h0M565.2 211.6h0M564.1 162.4h0M577.0 194.7h0M583.3 194.4h0M566.9 197.5h0M581.2 195.0h0M576.0 203.9h0M576.0 206.4h0M575.9 204.6h0M571.1 193.2h0M573.1 180.3h0M568.8 192.4h0M580.0 201.8h0M582.3 190.2h0M565.6 181.7h0M566.6 188.7h0M571.5 167.4h0M581.8 197.6h0M580.1 197.1h0M583.2 209.0h0M567.3 212.6h0M567.0 193.8h0M580.9 204.5h0M584.8 185.9h0M563.4 202.5h0M583.9 196.4h0M575.3 164.2h0M575.6 182.7h0M578.5 179.4h0M565.2 211.3h0M563.5 214.9h0M567.9 206.2h0M570.4 176.6h0M570.3 216.1h0M567.7 196.7h0M571.6 169.4h0M565.0 205.0h0M567.9 197.8h0M583.0 187.0h0M563.6 226.6h0M574.0 174.8h0M571.4 203.1h0M577.6 203.2h0M582.8 230.3h0M568.3 212.0h0M569.1 245.6h0M574.9 176.2h0M584.9 173.0h0M584.2 213.4h0M574.1 179.4h0M580.7 189.6h0M575.3 214.5h0M578.3 217.4h0M564.3 230.2h0M584.3 226.3h0M581.6 231.7h0M585.0 188.4h0M566.5 160.9h0M571.2 189.1h0M582.1 233.0h0M567.8 206.1h0M582.7 200.8h0M574.7 225.0h0M573.8 215.5h0M581.6 192.6h0M564.1 205.2h0M567.2 212.8h0M579.1 231.2h0M584.0 183.0h0M567.8 191.7h0M583.3 163.5h0M583.3 224.0h0M584.1 187.5h0M582.3 186.4h0M579.1 196.9h0M585.5 213.0h0M568.0 207.2h0M565.3 198.5h0M563.7 235.4h0M572.3 186.6h0M574.3 197.7h0M565.4 205.6h0M567.1 196.9h0M571.0 197.0h0M563.7 191.1h0M573.2 195.9h0M567.5 214.7h0M563.8 210.8h0M577.6 197.4h0M569.2 200.5h0M580.1 172.1h0M570.4 210.9h0M563.9 206.4h0M578.3 204.9h0M568.1 225.1h0M579.9 196.9h0M582.0 216.9h0M580.8 207.5h0M580.6 215.2h0M566.7 202.6h0M582.4 196.7h0M569.4 245.6h0M578.6 201.2h0M567.0 194.1h0M583.2 220.1h0M584.3 208.4h0M571.2 167.2h0M571.3 208.2h0M580.9 190.4h0M572.6 218.9h0M585.5 181.5h0M578.7 232.8h0M581.1 196.7h0M563.9 206.9h0M570.9 196.8h0M569.9 200.8h0M579.6 190.3h0M577.5 221.2h0M571.8 224.4h0M573.9 192.2h0M571.1 196.9h0M565.2 240.0h0M576.1 170.7h0M579.5 203.9h0M565.2 202.0h0M571.6 230.5h0M576.4 198.3h0M564.3 193.0h0M566.0 188.0h0M575.8 218.8h0M574.8 142.3h0M568.0 185.6h0M572.4 182.6h0M583.7 164.8h0M572.5 202.3h0M565.0 195.5h0M571.3 239.1h0M564.1 232.6h0M564.9 202.5h0M575.9 197.6h0M578.8 202.7h0M568.3 208.0h0M573.3 188.7h0M579.1 188.0h0M583.5 206.4h0M571.6 198.8h0M576.9 191.5h0M579.4 195.9h0M572.8 226.8h0M574.6 206.5h0M582.7 208.9h0M576.7 175.1h0M583.9 216.0h0M579.2 203.3h0M580.4 205.5h0M579.9 207.7h0M568.2 229.3h0M567.4 167.5h0M570.9 202.0h0M577.5 191.2h0M582.0 194.9h0M567.2 208.1h0M579.1 152.2h0M585.0 239.1h0M584.6 202.2h0M580.3 177.7h0M583.0 225.6h0M582.6 201.7h0M576.8 195.4h0M568.5 207.4h0M570.4 207.6h0M584.4 189.6h0M571.5 204.2h0M576.5 164.1h0M575.8 189.3h0M581.2 173.5h0M576.3 188.1h0M581.6 216.8h0M567.0 202.7h0M569.6 200.4h0M580.8 200.2h0M576.2 231.2h0M584.2 189.7h0M565.1 191.4h0M563.8 199.4h0M574.3 223.3h0M564.9 170.4h0M569.7 207.2h0M573.2 210.0h0M564.1 239.6h0M579.3 188.3h0M580.1 182.0h0M581.7 182.5h0M582.1 240.1h0M569.2 179.9h0M573.1 206.6h0M575.4 205.8h0M584.5 213.6h0M581.3 190.3h0M579.2 181.9h0M573.6 199.9h0M574.2 206.7h0M573.0 179.7h0M578.2 202.4h0M569.3 196.4h0M564.6 208.2h0M571.0 194.6h0M571.2 191.8h0M567.1 214.5h0M572.6 225.0h0M574.9 204.0h0M573.2 224.4h0M574.0 203.0h0M567.3 181.2h0M565.8 205.7h0M571.4 246.3h0M567.8 218.0h0M567.6 196.5h0M570.9 197.1h0M572.6 214.8h0M565.0 134.8h0M580.6 190.4h0M574.7 214.4h0M570.4 172.2h0M569.3 184.0h0M565.5 153.4h0M566.1 189.8h0M580.5 195.8h0M570.5 222.2h0M566.7 199.0h0M576.1 220.9h0M576.6 181.4h0M582.4 214.0h0M565.3 154.3h0M569.9 202.1h0M585.5 157.7h0M581.9 227.8h0M563.7 208.5h0M563.8 223.8h0M569.4 221.3h0M577.9 200.1h0M582.3 233.1h0M573.6 188.7h0M565.2 202.2h0M582.4 210.3h0M582.5 207.3h0M564.7 209.1h0M579.2 149.8h0M575.4 204.6h0M574.6 203.2h0M572.3 208.6h0M583.1 181.6h0M584.0 195.2h0M573.6 196.8h0M584.1 233.9h0M564.7 202.2h0M577.8 180.7h0M584.3 216.2h0M581.4 178.8h0M581.3 194.6h0M584.3 194.9h0M563.6 240.2h0M585.4 188.9h0M566.5 209.8h0M565.4 202.9h0M572.0 180.3h0M568.7 173.8h0M571.7 178.6h0M577.2 171.9h0M580.4 178.0h0M583.0 228.7h0M580.7 190.9h0M584.9 228.2h0M575.4 218.9h0M567.5 223.1h0M566.1 215.6h0M574.5 198.0h0M584.9 217.3h0M580.1 196.3h0M578.8 180.4h0M569.6 192.6h0M577.2 233.9h0M571.6 204.5h0M583.4 187.3h0M567.7 205.7h0M566.5 192.5h0M580.0 216.5h0M585.2 205.6h0M570.3 185.6h0M570.3 221.1h0M576.0 201.4h0M573.5 203.4h0M573.4 207.9h0M583.8 193.1h0M579.4 177.1h0M572.9 204.7h0M566.4 212.1h0M566.0 205.1h0M564.7 175.3h0M567.4 216.4h0M575.9 219.6h0M578.9 210.6h0M574.0 187.2h0M568.9 200.3h0M565.4 187.8h0M584.0 221.2h0M563.6 204.5h0M575.1 219.4h0M570.9 218.6h0M572.3 194.0h0M564.1 204.3h0M565.2 162.4h0M574.0 178.3h0M578.0 199.5h0M567.1 204.9h0M585.0 226.9h0M572.1 231.9h0M581.5 179.8h0M566.0 211.1h0M576.0 195.7h0M580.3 198.7h0M572.2 186.7h0M582.2 167.1h0M582.8 184.5h0M582.1 203.2h0M565.7 174.6h0M574.4 190.6h0M565.7 202.9h0M566.2 197.0h0M582.1 182.8h0M585.4 175.0h0M575.9 211.2h0M566.0 205.7h0M576.0 225.6h0M580.1 183.6h0M579.1 203.9h0M575.4 170.2h0M581.5 173.3h0M574.9 196.2h0M563.9 195.1h0M575.9 213.4h0M583.0 212.9h0M566.5 199.1h0M580.7 204.4h0M580.5 168.0h0M582.8 211.8h0M572.3 188.2h0M574.9 203.5h0M574.8 197.6h0M583.7 192.3h0M570.4 220.7h0M579.4 185.6h0M568.1 176.3h0M574.6 179.1h0M566.3 203.0h0M582.5 215.4h0M570.1 183.4h0M585.0 209.5h0M569.6 195.5h0M578.2 233.0h0M570.2 227.7h0M578.0 203.4h0M566.9 203.9h0M584.2 218.2h0M568.0 232.1h0M563.5 193.4h0M584.3 230.7h0M571.0 213.4h0M567.5 186.3h0M571.7 200.8h0M568.3 193.7h0M578.9 197.6h0M575.6 197.0h0M577.5 203.5h0M580.7 218.3h0M582.2 179.7h0M564.7 196.6h0M571.0 197.8h0M571.7 145.2h0M575.7 218.8h0M570.0 179.5h0M568.6 196.0h0M568.5 223.7h0M564.2 210.6h0M570.5 207.3h0M570.3 226.8h0M582.7 209.3h0M564.3 184.8h0M574.6 175.9h0M584.0 194.2h0M579.3 170.8h0M577.2 176.9h0M589.8 189.8h0M575.0 182.3h0M582.4 165.6h0M584.9 204.6h0M580.4 178.5h0M576.7 170.9h0M565.5 168.5h0M579.6 206.5h0M578.0 139.9h0M576.0 161.3h0M577.1 192.7h0M572.5 183.5h0M587.3 156.3h0M573.9 152.2h0M577.8 190.0h0M581.5 194.9h0M568.2 145.6h0M566.5 162.5h0M568.5 175.2h0M577.3 184.4h0M564.1 177.0h0M578.4 194.6h0M578.2 152.4h0M573.9 168.8h0M571.0 166.0h0M582.9 119.2h0M584.7 164.9h0M588.0 196.7h0M585.8 186.6h0M574.6 150.1h0M580.2 145.0h0M569.1 168.4h0M575.2 180.5h0M566.1 153.6h0M580.1 196.3h0M569.8 193.7h0M587.9 176.6h0M576.5 163.4h0M578.8 169.2h0M583.6 167.0h0M584.5 200.8h0M579.1 182.1h0M579.4 175.1h0M574.5 182.0h0M585.0 186.4h0M570.5 161.0h0M585.2 180.1h0M579.6 192.7h0M577.4 149.6h0M584.1 170.8h0M577.0 210.1h0M580.9 163.9h0M585.7 129.4h0M581.3 152.8h0M571.5 147.3h0M584.5 143.8h0M583.3 163.9h0M588.5 188.6h0M583.1 150.0h0M573.7 199.3h0M581.7 171.1h0M582.8 159.6h0M573.8 166.3h0M586.3 181.6h0M577.0 198.5h0M584.2 130.8h0M569.9 156.9h0M584.8 186.0h0M616.4 331.8h0M574.8 100.6h0M604.3 115.6h0M599.0 117.5h0M608.3 117.5h0M588.2 119.4h0M578.8 264.2h0M572.1 269.8h0M578.8 256.6h0M570.8 252.9h0" stroke="#d6d6d6" stroke-width="2.7" stroke-linecap="round" fill="none"/>
<path d="M553.5 214.4h0M546.4 201.1h0M533.3 220.0h0M517.6 213.2h0M507.2 200.9h0M561.7 206.4h0M558.4 195.6h0M560.4 190.3h0M544.9 228.3h0M550.9 210.5h0M512.0 191.2h0M538.5 188.4h0M559.7 190.1h0M556.7 184.9h0M514.5 214.5h0M538.7 212.4h0M538.4 201.3h0M455.5 190.5h0M528.7 186.4h0M556.6 201.4h0M555.2 198.8h0M549.3 190.3h0M561.6 202.3h0M544.2 177.7h0M562.0 193.0h0M555.6 235.3h0M553.9 192.4h0M552.2 196.0h0M556.2 173.5h0M557.6 201.4h0M515.9 194.8h0M543.2 197.8h0M557.0 208.3h0M534.6 200.4h0M560.8 203.8h0M558.0 196.4h0M532.8 208.3h0M528.8 197.0h0M547.1 201.0h0M559.2 220.3h0M556.4 188.0h0M557.0 162.1h0M549.2 197.2h0M507.6 193.5h0M558.7 179.7h0M539.9 231.6h0M553.2 190.9h0M556.7 217.2h0M501.5 200.3h0M469.7 215.3h0M537.7 189.5h0M562.6 233.9h0M501.0 209.2h0M536.4 219.9h0M510.5 228.4h0M517.7 183.7h0M538.9 188.4h0M502.1 178.5h0M557.0 188.4h0M561.3 213.0h0M547.1 205.7h0M549.3 201.0h0M538.1 203.1h0M544.2 190.4h0M554.5 202.6h0M543.9 207.4h0M545.8 211.5h0M559.7 200.0h0M538.8 206.9h0M562.7 229.8h0M560.4 193.8h0M555.9 203.6h0M562.2 207.5h0M502.2 187.2h0M556.2 216.9h0M534.8 214.6h0M550.4 196.2h0M563.3 232.0h0M553.2 222.2h0M559.8 206.5h0M511.1 194.2h0M505.3 202.2h0M558.6 186.7h0M517.9 212.9h0M556.9 200.4h0M518.1 234.8h0M516.8 197.2h0M560.2 190.4h0M545.6 201.4h0M538.2 185.6h0M556.0 205.7h0M551.3 211.2h0M536.3 196.6h0M548.0 220.0h0M510.6 195.3h0M537.1 190.9h0M544.2 226.7h0M544.6 206.7h0M477.3 201.1h0M521.9 183.3h0M560.2 192.6h0M552.0 198.5h0M544.8 206.0h0M546.1 202.4h0M554.1 223.1h0M561.2 198.4h0M558.3 217.6h0M492.7 176.0h0M557.2 205.7h0M552.9 189.5h0M551.8 170.6h0M515.7 206.2h0M542.9 183.7h0M558.3 213.5h0M518.7 203.1h0M538.1 206.2h0M558.0 194.1h0M550.7 198.1h0M562.2 202.6h0M498.8 204.8h0M540.2 222.9h0M545.9 180.6h0M476.5 216.2h0M557.3 212.1h0M546.9 221.2h0M561.4 185.0h0M517.9 226.2h0M545.7 186.4h0M544.6 196.7h0M554.7 201.7h0M559.2 224.8h0M547.4 220.7h0M523.8 195.9h0M559.5 206.7h0M560.2 205.5h0M550.3 219.7h0M499.0 188.2h0M555.6 206.8h0M501.1 215.1h0M553.6 186.6h0M549.9 198.6h0M556.7 211.6h0M553.3 216.0h0M533.9 190.1h0M530.0 192.2h0M534.4 193.1h0M557.7 188.1h0M533.4 194.9h0M558.9 210.3h0M540.9 187.6h0M552.8 230.2h0M551.9 193.6h0M514.2 221.1h0M542.5 197.0h0M542.2 193.0h0M507.3 220.4h0M553.8 213.9h0M551.3 212.2h0M534.6 218.1h0M556.2 169.7h0M543.4 194.2h0M562.9 214.5h0M560.6 174.6h0M561.5 184.1h0M535.3 203.3h0M554.3 190.3h0M554.9 179.6h0M539.4 211.2h0M560.4 211.1h0M532.5 201.0h0M552.8 200.8h0M559.9 198.3h0M532.4 188.4h0M489.0 223.7h0M547.2 198.4h0M551.0 208.8h0M544.0 200.2h0M527.3 191.6h0M557.7 205.3h0M520.2 183.3h0M561.1 187.9h0M534.7 220.3h0M530.3 193.0h0M554.5 166.6h0M510.5 222.7h0M542.5 203.3h0M517.5 197.0h0M545.8 175.6h0M560.2 200.6h0M558.4 187.4h0M537.0 235.3h0M544.4 184.0h0M517.2 191.1h0M532.0 200.6h0M560.1 220.1h0M550.9 209.0h0M539.9 198.5h0M558.7 211.7h0M527.0 239.1h0M558.6 184.1h0M554.2 213.1h0M537.8 189.2h0M500.7 215.6h0M484.7 184.7h0M553.6 194.2h0M561.9 204.8h0M519.1 211.8h0M555.5 191.9h0M553.5 192.6h0M540.7 198.3h0M558.0 189.6h0M552.6 206.5h0M561.7 242.0h0M553.4 173.8h0M540.2 199.5h0M534.1 205.6h0M552.9 200.9h0M562.7 162.2h0M558.5 218.6h0M549.0 210.8h0M551.9 218.4h0M559.8 197.0h0M556.0 203.6h0M554.5 201.3h0M559.0 215.3h0M546.2 179.4h0M542.9 200.2h0M524.4 196.1h0M552.1 172.7h0M560.1 211.3h0M528.4 207.0h0M536.8 206.0h0M549.2 191.7h0M540.5 218.7h0M556.7 194.8h0M558.9 196.4h0M563.1 199.8h0M555.2 230.7h0M545.2 218.2h0M516.8 207.6h0M558.8 203.1h0M544.9 219.1h0M532.8 179.5h0M561.8 212.8h0M534.4 196.8h0M538.6 203.5h0M562.7 238.5h0M549.2 204.6h0M544.8 218.1h0M561.7 183.4h0M530.0 206.8h0M540.8 212.0h0M545.7 229.8h0M557.1 213.9h0M487.8 199.5h0M558.9 192.6h0M555.1 225.6h0M549.8 186.9h0M538.0 211.9h0M554.7 195.5h0M557.7 189.6h0M535.2 210.7h0M541.8 200.3h0M556.6 222.0h0M544.9 187.6h0M547.1 166.6h0M551.7 195.5h0M550.0 212.1h0M538.7 236.5h0M552.0 184.2h0M555.8 184.7h0M556.1 195.3h0M534.6 220.1h0M527.8 210.9h0M493.4 219.3h0M554.9 214.5h0M562.8 190.6h0M544.8 199.4h0M537.0 207.9h0M555.6 198.7h0M560.9 175.2h0M559.0 212.6h0M521.2 209.6h0M560.3 189.9h0M536.3 178.5h0M552.2 200.8h0M556.3 212.7h0M550.2 229.5h0M539.7 184.2h0M539.4 200.0h0M519.9 218.3h0M543.2 208.6h0M545.5 183.3h0M535.9 209.1h0M525.9 209.4h0M534.8 171.3h0M551.9 192.7h0M521.3 178.7h0M503.5 210.4h0M560.7 217.2h0M535.6 222.1h0M557.6 228.0h0M561.1 205.8h0M541.8 203.3h0M556.8 194.2h0M552.9 186.1h0M548.2 211.2h0M548.5 186.7h0M561.9 224.2h0M513.6 215.6h0M554.7 204.0h0M542.2 224.2h0M522.2 198.8h0M532.0 196.5h0M551.8 200.7h0M523.4 210.7h0M560.7 215.4h0M526.3 182.1h0M560.3 220.6h0M541.5 194.0h0M532.2 233.5h0M562.9 194.2h0M521.4 201.9h0M545.0 204.1h0M559.8 196.7h0M542.7 203.2h0M552.3 194.3h0M516.1 175.4h0M556.1 222.6h0M547.1 206.3h0M538.7 201.3h0M558.0 197.0h0M553.8 220.9h0M539.5 196.2h0M561.4 218.8h0M524.7 194.6h0M551.1 203.0h0M521.4 192.6h0M508.4 183.0h0M548.0 195.7h0M551.8 210.6h0M548.3 232.5h0M540.3 181.3h0M508.5 227.5h0M546.3 191.9h0M553.0 205.3h0M558.8 214.0h0M556.6 222.2h0M554.6 210.6h0M552.4 196.4h0M561.1 191.6h0M556.6 203.5h0M539.9 205.2h0M558.3 217.4h0M506.1 206.5h0M534.3 201.7h0M549.8 217.3h0M557.0 212.7h0M554.2 192.3h0M496.6 194.6h0M547.3 195.3h0M560.7 185.0h0M533.2 218.4h0M511.1 185.2h0M561.5 211.1h0M537.9 232.4h0M548.8 184.3h0M550.8 203.7h0M560.7 219.0h0M557.7 210.5h0M544.6 167.4h0M521.8 223.0h0M552.2 183.0h0M555.4 184.2h0M548.8 198.0h0M556.6 205.0h0M529.1 227.8h0M539.5 175.0h0M554.6 174.5h0M561.5 168.6h0M552.8 199.6h0M527.6 201.4h0M553.4 198.4h0M520.4 175.1h0M558.3 176.1h0M521.0 216.6h0M557.1 198.3h0M552.4 214.4h0M540.2 224.6h0M553.7 211.7h0M556.0 231.6h0M549.7 180.3h0M562.1 182.4h0M562.8 227.8h0M540.1 203.1h0M544.5 198.6h0M525.5 205.2h0M542.6 228.2h0M548.2 195.4h0M528.1 183.2h0M559.2 218.3h0M548.2 206.1h0M560.4 209.8h0M538.3 185.2h0M545.4 205.7h0M561.4 181.0h0M549.4 225.3h0M563.2 207.0h0M561.7 198.2h0M537.5 190.6h0M553.7 193.8h0M559.5 189.2h0M552.1 144.5h0M533.0 175.3h0M529.5 192.2h0M558.6 226.7h0M541.9 227.0h0M498.9 186.9h0M555.4 213.1h0M473.2 175.0h0M534.1 200.5h0M552.1 200.4h0M550.9 207.5h0M538.0 197.4h0M550.8 216.7h0M557.2 206.8h0M525.2 234.2h0M536.1 204.5h0M469.4 193.6h0M529.8 187.9h0M556.0 209.9h0M510.6 212.0h0M523.8 186.0h0M552.9 204.3h0M552.5 200.1h0M555.7 176.4h0M553.7 237.6h0M552.9 185.5h0M542.4 181.6h0M507.8 211.4h0M562.4 205.4h0M546.5 171.2h0M555.4 197.8h0M550.7 188.2h0M557.1 198.9h0M547.0 212.8h0M545.9 202.0h0M535.7 183.8h0M556.8 203.1h0M522.7 212.1h0M553.1 205.1h0M543.3 179.2h0M537.9 181.2h0M540.6 220.6h0M507.0 234.3h0M534.0 218.1h0M551.5 193.4h0M551.5 180.5h0M547.9 217.1h0M549.4 211.4h0M559.3 201.5h0M548.8 221.2h0M545.3 207.1h0M537.8 222.1h0M532.0 204.3h0M472.4 216.1h0M541.1 178.3h0M528.1 192.9h0M538.9 212.0h0M552.5 205.1h0M541.4 217.1h0M522.4 198.8h0M529.1 216.7h0M470.6 218.6h0M552.0 221.5h0M553.8 202.7h0M538.8 225.6h0M533.2 183.6h0M543.4 194.1h0M559.1 183.4h0M488.9 191.6h0M543.5 241.9h0M553.6 195.2h0M557.2 185.4h0M547.4 208.0h0M546.3 179.2h0M554.5 214.7h0M528.3 197.8h0M540.0 204.3h0M559.3 200.6h0M541.8 208.8h0M517.1 199.0h0M552.7 225.8h0M555.2 189.4h0M559.9 192.3h0M550.1 189.6h0M562.1 217.2h0M517.9 194.8h0M506.0 201.3h0M541.5 183.1h0M532.7 201.7h0M553.0 208.0h0M532.8 181.5h0M554.7 199.0h0M543.1 215.6h0M542.4 201.3h0M551.7 211.5h0M535.4 212.5h0M540.4 187.1h0M544.6 188.8h0M559.9 229.4h0M562.8 226.0h0M539.7 207.1h0M550.5 206.5h0M546.4 209.5h0M557.4 190.3h0M553.9 206.2h0M518.0 213.1h0M540.4 204.9h0M494.0 198.1h0M555.4 189.5h0M541.7 197.0h0M554.4 188.7h0M557.1 189.3h0M546.1 218.6h0M556.4 187.6h0M547.0 202.6h0M560.6 184.3h0M524.1 213.4h0M545.4 215.5h0M554.9 210.9h0M545.3 214.1h0M548.3 180.8h0M562.2 197.5h0M541.8 183.6h0M559.7 200.4h0M554.7 183.2h0M556.8 206.8h0M551.5 205.8h0M542.6 195.4h0M518.7 177.9h0M554.3 200.3h0M552.6 178.5h0M557.1 186.7h0M547.6 177.4h0M536.0 191.3h0M560.7 200.5h0M554.5 224.6h0M531.6 222.1h0M546.6 196.5h0M559.1 190.0h0M503.5 202.2h0M557.3 198.1h0M549.4 171.3h0M550.9 186.2h0M548.6 188.6h0M559.1 187.4h0M537.1 202.9h0M562.1 198.4h0M465.3 203.1h0M496.8 208.6h0M450.8 203.1h0M469.2 203.8h0M467.0 204.5h0M444.9 205.2h0M490.1 212.8h0M485.8 201.3h0M512.0 203.1h0M449.5 209.7h0M479.2 201.8h0M469.6 195.6h0M489.2 210.2h0M442.9 201.6h0M463.3 215.8h0M451.7 204.4h0M499.5 196.2h0M501.9 210.0h0M453.7 210.4h0M484.8 201.9h0M473.3 202.5h0M472.9 207.1h0M489.0 200.7h0M503.8 208.2h0M441.2 200.8h0M455.4 195.7h0M502.6 210.1h0M510.8 197.4h0M520.0 175.1h0M545.1 206.9h0M511.1 177.9h0M506.1 205.9h0M507.6 187.9h0M537.4 165.1h0M528.5 191.6h0M525.7 190.5h0M533.6 215.5h0M548.8 224.4h0M496.6 205.9h0M521.2 208.3h0M512.9 192.6h0M536.3 238.4h0M494.8 188.4h0M506.5 216.3h0M522.1 215.3h0M528.1 168.2h0M522.7 216.0h0M506.2 220.3h0M545.8 168.3h0M500.9 223.5h0M537.6 185.8h0M517.6 185.1h0M548.3 214.2h0M509.4 183.5h0M523.3 216.9h0M501.9 206.7h0M536.0 182.0h0M505.2 183.6h0M498.8 198.1h0M528.7 200.2h0M536.0 232.4h0M532.1 201.0h0M528.9 194.8h0M531.2 211.5h0M514.4 220.9h0M528.6 172.0h0M546.7 194.5h0M509.2 195.4h0M550.1 232.3h0M513.0 178.1h0M545.7 195.7h0M525.8 207.3h0M550.9 217.3h0M514.4 130.7h0M471.5 228.4h0M514.4 245.4h0M463.4 232.2h0M527.8 151.4h0M530.5 149.5h0M550.6 155.1h0M498.3 175.8h0M503.7 157.0h0M433.9 207.8h0M446.0 213.4h0M517.1 149.5h0M553.3 251.0h0" stroke="#4e85c6" stroke-width="2.7" stroke-linecap="round" fill="none"/>
<path d="M585.8 210.6h0M592.0 195.1h0M589.0 226.3h0M606.6 206.8h0M599.7 210.8h0M587.8 203.7h0M614.7 198.3h0M589.3 208.0h0M589.2 198.9h0M585.7 217.6h0M587.0 211.1h0M594.0 231.7h0M589.9 224.3h0M600.3 210.6h0M596.7 209.9h0M587.7 183.5h0M589.1 235.8h0M588.2 178.3h0M589.6 234.6h0M594.7 204.5h0M603.0 198.0h0M586.1 190.5h0M588.4 211.2h0M594.5 214.6h0M652.8 198.9h0M588.8 208.0h0M586.4 199.7h0M592.9 236.2h0M591.3 194.9h0M586.9 208.6h0M590.0 189.2h0M599.6 214.3h0M591.4 212.3h0M590.7 193.3h0M598.0 202.1h0M607.1 189.5h0M598.9 205.0h0M586.9 174.6h0M597.6 206.5h0M590.3 220.8h0M593.1 221.0h0M586.9 209.2h0M590.1 221.7h0M597.8 190.6h0M587.2 191.3h0M598.8 184.7h0M590.6 219.6h0M596.8 211.6h0M607.2 226.5h0M601.3 216.5h0M590.7 207.8h0M594.8 211.4h0M628.8 212.1h0M625.9 203.4h0M592.1 186.8h0M595.3 197.9h0M612.5 170.8h0M608.6 204.5h0M599.5 191.1h0M606.8 192.5h0M609.6 223.5h0M620.0 210.6h0M595.9 229.6h0M592.2 201.0h0M592.8 205.8h0M597.4 209.7h0M586.6 201.4h0M589.6 210.2h0M588.8 185.7h0M591.5 213.2h0M621.7 186.1h0M591.8 205.6h0M586.2 172.2h0M592.6 209.1h0M592.6 216.5h0M598.6 204.2h0M592.2 223.7h0M586.2 232.0h0M613.2 208.4h0M587.2 203.6h0M608.1 209.6h0M593.2 213.3h0M586.0 214.1h0M591.9 169.2h0M619.8 175.7h0M592.7 169.2h0M587.5 207.9h0M614.3 192.2h0M590.6 200.4h0M595.3 217.0h0M588.5 197.0h0M596.0 211.1h0M598.7 224.0h0M589.0 202.6h0M607.0 207.2h0M597.7 200.2h0M590.6 187.0h0M586.6 210.1h0M587.9 215.0h0M588.3 232.0h0M610.2 183.0h0M587.8 213.3h0M592.4 211.7h0M593.0 227.2h0M622.1 199.9h0M607.4 203.8h0M618.1 188.1h0M596.6 193.0h0M591.9 189.4h0M596.3 221.8h0M593.9 190.3h0M597.2 213.0h0M598.3 203.1h0M611.5 185.7h0M587.7 219.8h0M601.1 218.0h0M588.8 226.1h0M588.0 192.0h0M613.0 208.1h0M595.8 207.9h0M603.6 205.0h0M589.7 213.0h0M594.9 212.7h0M594.7 195.8h0M594.4 238.4h0M606.1 181.6h0M593.9 195.4h0M591.6 217.7h0M600.8 211.7h0M621.6 200.0h0M629.7 186.5h0M586.0 197.5h0M594.5 217.6h0M592.5 209.1h0M597.5 208.0h0M590.5 190.0h0M596.0 225.5h0M591.0 216.8h0M590.5 183.8h0M590.4 194.6h0M607.7 189.1h0M595.8 210.5h0M590.1 198.3h0M592.8 194.8h0M593.3 215.8h0M587.3 202.3h0M587.1 220.1h0M604.0 188.9h0M593.0 195.4h0M600.2 219.5h0M590.3 207.8h0M594.6 182.7h0M601.2 200.5h0M650.0 164.2h0M597.5 188.1h0M595.5 218.8h0M605.0 191.8h0M591.9 196.4h0M608.7 218.6h0M591.3 229.5h0M620.7 213.3h0M626.3 186.6h0M587.9 226.6h0M626.1 235.7h0M585.9 201.9h0M591.2 173.8h0M597.3 206.4h0M586.8 199.1h0M592.3 204.5h0M588.4 207.7h0M597.5 192.8h0M592.5 212.6h0M594.9 164.0h0M589.0 211.3h0M590.1 211.8h0M590.4 218.1h0M586.7 201.3h0M613.4 227.5h0M594.7 225.5h0M585.9 193.0h0M593.2 205.9h0M593.2 206.0h0M595.7 213.3h0M598.3 215.5h0M600.6 204.4h0M588.6 166.8h0M588.3 216.0h0M587.9 222.1h0M603.2 182.1h0M601.8 188.0h0M589.3 222.0h0M609.4 211.3h0M591.1 201.4h0M603.1 198.4h0M585.9 183.4h0M601.3 174.3h0M604.5 207.5h0M586.8 198.6h0M587.8 200.3h0M592.1 240.6h0M590.2 200.6h0M586.3 200.5h0M587.7 216.6h0M590.9 171.1h0M590.9 193.8h0M590.0 238.4h0M596.2 224.0h0M611.5 207.5h0M586.7 213.1h0M603.3 228.8h0M590.5 202.1h0M595.0 203.5h0M606.0 212.4h0M601.2 220.5h0M610.1 202.5h0M596.7 220.4h0M620.2 200.7h0M604.7 207.6h0M599.4 194.9h0M591.4 210.0h0M598.6 209.7h0M604.3 210.8h0M593.3 186.6h0M599.9 224.9h0M595.9 203.3h0M609.9 207.3h0M607.2 176.8h0M585.8 210.9h0M588.0 222.1h0M591.3 215.5h0M587.0 209.9h0M591.5 226.4h0M588.5 202.1h0M586.2 187.2h0M598.4 199.3h0M587.4 220.4h0M623.4 232.4h0M603.3 208.4h0M606.3 214.1h0M590.1 221.7h0M587.9 210.4h0M590.4 201.4h0M602.0 207.4h0M586.9 213.9h0M592.1 208.0h0M586.2 210.0h0M620.6 207.9h0M602.8 216.0h0M613.2 197.7h0M612.5 169.6h0M594.1 195.5h0M596.2 207.8h0M610.8 190.9h0M589.5 223.3h0M588.4 214.3h0M590.2 200.6h0M602.1 188.9h0M595.4 228.4h0M590.8 231.9h0M597.0 207.9h0M643.9 216.0h0M620.7 226.2h0M587.6 203.6h0M596.8 199.0h0M633.1 206.3h0M601.2 214.5h0M587.7 204.7h0M587.5 190.6h0M586.8 198.1h0M595.6 192.2h0M594.6 217.9h0M586.5 190.0h0M586.1 191.2h0M589.9 208.5h0M594.2 216.6h0M606.5 190.5h0M585.7 193.8h0M589.4 216.0h0M586.6 215.4h0M589.0 222.4h0M607.9 166.0h0M586.5 190.4h0M593.4 206.0h0M585.9 186.8h0M589.6 213.6h0M596.7 187.4h0M599.4 235.0h0M633.3 191.1h0M590.8 203.4h0M616.8 194.9h0M626.7 196.4h0M590.1 203.7h0M605.6 236.1h0M632.0 209.1h0M592.1 209.2h0M607.3 172.5h0M591.6 227.6h0M587.2 204.5h0M586.9 193.4h0M590.2 217.9h0M613.2 201.0h0M592.6 196.7h0M589.0 213.2h0M633.3 159.6h0M593.6 183.7h0M591.6 220.1h0M586.8 200.6h0M589.0 196.7h0M592.3 213.5h0M590.1 182.6h0M608.5 203.9h0M596.7 195.1h0M590.3 198.2h0M601.6 182.9h0M595.6 203.4h0M589.5 206.5h0M599.5 205.4h0M589.8 184.1h0M594.7 192.6h0M586.6 204.7h0M592.5 188.9h0M620.0 202.2h0M600.9 210.4h0M587.8 172.9h0M594.3 176.6h0M604.8 225.4h0M599.3 200.7h0M588.4 217.5h0M594.1 178.1h0M600.7 197.6h0M614.5 187.3h0M593.4 218.4h0M603.0 184.1h0M586.3 195.8h0M592.2 197.4h0M593.4 200.7h0M597.2 173.4h0M588.7 195.4h0M590.3 212.8h0M607.4 194.6h0M588.7 214.4h0M588.2 203.2h0M615.3 196.1h0M618.4 209.9h0M589.0 199.4h0M595.5 194.8h0M587.4 222.9h0M586.6 199.2h0M644.1 203.7h0M614.2 198.8h0M605.9 197.8h0M590.9 206.4h0M589.4 206.1h0M599.8 189.0h0M588.2 225.2h0M589.2 193.0h0M587.0 205.6h0M586.2 235.4h0M588.1 216.3h0M587.8 216.7h0M609.1 200.3h0M602.5 193.5h0M589.7 216.0h0M590.1 205.3h0M608.0 176.4h0M606.8 190.8h0M613.3 197.9h0M591.6 210.3h0M608.5 217.1h0M601.1 192.6h0M595.0 222.6h0M610.7 218.0h0M624.1 191.9h0M588.7 193.7h0M588.3 215.9h0M615.0 189.6h0M596.5 200.6h0M590.5 201.3h0M595.9 199.3h0M589.0 188.1h0M638.3 205.2h0M630.3 197.4h0M615.6 202.2h0M622.2 210.5h0M647.5 215.1h0M601.1 203.4h0M654.5 207.7h0M614.9 206.1h0M634.5 191.3h0M624.9 203.2h0M636.7 207.6h0M617.8 205.3h0M650.3 202.0h0M600.4 209.2h0M648.2 210.7h0M621.4 191.5h0M652.2 196.4h0M619.8 202.1h0M632.4 195.8h0M648.5 207.2h0M647.1 208.2h0M610.7 207.2h0M603.2 210.2h0M600.5 209.3h0M637.1 202.9h0M628.4 202.9h0M645.2 204.7h0M612.3 205.7h0M641.6 198.1h0M602.6 198.5h0M651.4 200.3h0M610.5 196.6h0M625.1 201.1h0M603.4 203.7h0M653.1 200.7h0M610.6 198.4h0M635.4 192.3h0M613.2 204.5h0M600.2 203.8h0M635.0 210.4h0M625.2 207.3h0M600.5 210.8h0M640.6 205.6h0M635.7 205.1h0M638.1 198.4h0M634.1 204.1h0M615.3 206.3h0M625.0 207.9h0M628.7 210.3h0M638.7 195.7h0M614.5 198.7h0M652.9 210.0h0M629.4 204.0h0M607.6 209.0h0M612.6 202.3h0M615.7 178.7h0M619.1 205.0h0M600.7 245.5h0M616.2 224.9h0M627.1 221.6h0M627.5 140.9h0M589.5 157.8h0M622.7 182.0h0M624.9 219.2h0M619.2 215.8h0M613.5 218.5h0M617.5 176.4h0M593.7 246.5h0M622.8 172.9h0M603.5 234.7h0M610.7 168.1h0M592.3 182.1h0M598.2 196.1h0M597.9 195.7h0M590.6 207.6h0M624.5 110.0h0M658.0 194.6h0M652.6 181.4h0M601.6 128.8h0M609.7 260.4h0M594.9 267.9h0M600.3 132.6h0M604.3 145.7h0M592.2 113.8h0M594.9 125.0h0M604.3 157.0h0" stroke="#dc2b1a" stroke-width="2.7" stroke-linecap="round" fill="none"/>
<line x1="427.5" y1="204.5" x2="671.4" y2="204.5" stroke="#333" stroke-width="0.9" stroke-dasharray="2.8 2.2"/>
<line x1="574.5" y1="89.5" x2="574.5" y2="345.2" stroke="#333" stroke-width="0.9" stroke-dasharray="2.8 2.2"/>
<rect x="427.5" y="89.5" width="243.89999999999998" height="255.7" fill="none" stroke="#a8a8a8" stroke-width="1"/>
<line x1="425.0" y1="110.0" x2="427.5" y2="110.0" stroke="#333" stroke-width="0.9"/>
<text x="422.5" y="115.0" font-size="18.2" fill="#4d4d4d" stroke="#4d4d4d" stroke-width="0.25" text-anchor="end">5.0</text>
<line x1="425.0" y1="157.0" x2="427.5" y2="157.0" stroke="#333" stroke-width="0.9"/>
<text x="422.5" y="162.0" font-size="18.2" fill="#4d4d4d" stroke="#4d4d4d" stroke-width="0.25" text-anchor="end">2.5</text>
<line x1="425.0" y1="204.0" x2="427.5" y2="204.0" stroke="#333" stroke-width="0.9"/>
<text x="422.5" y="209.0" font-size="18.2" fill="#4d4d4d" stroke="#4d4d4d" stroke-width="0.25" text-anchor="end">0.0</text>
<line x1="425.0" y1="251.0" x2="427.5" y2="251.0" stroke="#333" stroke-width="0.9"/>
<text x="422.5" y="256.0" font-size="18.2" fill="#4d4d4d" stroke="#4d4d4d" stroke-width="0.25" text-anchor="end">−2.5</text>
<line x1="425.0" y1="298.0" x2="427.5" y2="298.0" stroke="#333" stroke-width="0.9"/>
<text x="422.5" y="303.0" font-size="18.2" fill="#4d4d4d" stroke="#4d4d4d" stroke-width="0.25" text-anchor="end">−5.0</text>
<line x1="440.6" y1="345.2" x2="440.6" y2="347.7" stroke="#333" stroke-width="0.9"/>
<text x="437.2" y="363.4" font-size="18.2" fill="#4d4d4d" stroke="#4d4d4d" stroke-width="0.25" text-anchor="middle">−10</text>
<line x1="507.7" y1="345.2" x2="507.7" y2="347.7" stroke="#333" stroke-width="0.9"/>
<text x="503.4" y="363.4" font-size="18.2" fill="#4d4d4d" stroke="#4d4d4d" stroke-width="0.25" text-anchor="middle">−5</text>
<line x1="574.8" y1="345.2" x2="574.8" y2="347.7" stroke="#333" stroke-width="0.9"/>
<text x="574.8" y="363.4" font-size="18.2" fill="#4d4d4d" stroke="#4d4d4d" stroke-width="0.25" text-anchor="middle">0</text>
<line x1="641.9" y1="345.2" x2="641.9" y2="347.7" stroke="#333" stroke-width="0.9"/>
<text x="641.9" y="363.4" font-size="18.2" fill="#4d4d4d" stroke="#4d4d4d" stroke-width="0.25" text-anchor="middle">5</text>
<text x="553.5" y="383.7" font-size="18.2" fill="#000" stroke="#000" stroke-width="0.25" text-anchor="middle">COVID19 vs. Healthy (RNA-seq)</text>
<text x="386.0" y="216.5" font-size="18.2" fill="#000" stroke="#000" stroke-width="0.25" text-anchor="middle" transform="rotate(-90 386 216.5)">Sepsis vs. Healthy (Microarray)</text>
<text x="-0.6" y="503.5" font-size="27" fill="#000" font-weight="bold">c</text>
<circle cx="56.9" cy="456.8" r="3.4" fill="#4e85c6"/>
<text x="65.3" y="460.5" font-size="18.2" fill="#000" stroke="#000" stroke-width="0.25">Downregulated</text>
<circle cx="56.9" cy="471.8" r="3.4" fill="#d6d6d6"/>
<text x="65.3" y="477.0" font-size="18.2" fill="#000" stroke="#000" stroke-width="0.25">Not significant</text>
<circle cx="56.9" cy="488.2" r="3.4" fill="#dc2b1a"/>
<text x="65.3" y="493.5" font-size="18.2" fill="#000" stroke="#000" stroke-width="0.25">Upregulated</text>
<text x="211.5" y="533.0" font-size="18.2" fill="#000" stroke="#000" stroke-width="0.25" text-anchor="middle">Unstimulated</text>
<rect x="89.0" y="540.4" width="248.39999999999998" height="255.5" fill="#fff"/>
<line x1="119.5" y1="540.4" x2="119.5" y2="795.9" stroke="#f7f7f7" stroke-width="1"/>
<line x1="185.5" y1="540.4" x2="185.5" y2="795.9" stroke="#f7f7f7" stroke-width="1"/>
<line x1="251.5" y1="540.4" x2="251.5" y2="795.9" stroke="#f7f7f7" stroke-width="1"/>
<line x1="318.5" y1="540.4" x2="318.5" y2="795.9" stroke="#f7f7f7" stroke-width="1"/>
<line x1="152.5" y1="540.4" x2="152.5" y2="795.9" stroke="#f7f7f7" stroke-width="1"/>
<line x1="218.5" y1="540.4" x2="218.5" y2="795.9" stroke="#f7f7f7" stroke-width="1"/>
<line x1="284.5" y1="540.4" x2="284.5" y2="795.9" stroke="#f7f7f7" stroke-width="1"/>
<line x1="89.0" y1="768.5" x2="337.4" y2="768.5" stroke="#f7f7f7" stroke-width="1"/>
<line x1="89.0" y1="705.5" x2="337.4" y2="705.5" stroke="#f7f7f7" stroke-width="1"/>
<line x1="89.0" y1="642.5" x2="337.4" y2="642.5" stroke="#f7f7f7" stroke-width="1"/>
<line x1="89.0" y1="578.5" x2="337.4" y2="578.5" stroke="#f7f7f7" stroke-width="1"/>
<line x1="89.0" y1="737.5" x2="337.4" y2="737.5" stroke="#f7f7f7" stroke-width="1"/>
<line x1="89.0" y1="673.5" x2="337.4" y2="673.5" stroke="#f7f7f7" stroke-width="1"/>
<line x1="89.0" y1="610.5" x2="337.4" y2="610.5" stroke="#f7f7f7" stroke-width="1"/>
<line x1="89.0" y1="546.5" x2="337.4" y2="546.5" stroke="#f7f7f7" stroke-width="1"/>
<path d="M151.0 629.0h0M163.0 646.3h0M147.7 644.1h0M170.6 642.9h0M161.0 646.6h0M139.7 635.7h0M150.4 649.3h0M144.9 648.6h0M145.7 654.2h0M161.8 641.7h0M159.8 646.4h0M154.2 643.1h0M161.5 639.0h0M154.3 648.4h0M140.4 649.4h0M145.4 647.7h0M140.1 633.5h0M153.5 657.2h0M141.4 652.9h0M153.2 637.3h0M142.3 640.2h0M148.6 636.8h0M163.2 642.2h0M157.5 644.2h0M147.8 651.7h0M154.0 644.7h0M147.7 644.7h0M149.4 650.9h0M146.4 636.9h0M149.0 635.2h0M140.8 652.9h0M152.2 639.2h0M145.3 640.2h0M159.3 637.3h0M150.1 644.5h0M136.4 644.1h0M153.6 635.1h0M139.8 649.7h0M142.2 638.5h0M128.7 651.2h0M169.3 640.0h0M139.3 644.6h0M158.6 640.7h0M149.1 649.3h0M158.4 644.3h0M158.2 641.7h0M146.9 635.0h0M146.7 641.5h0M145.5 645.7h0M148.9 648.5h0M153.2 635.8h0M167.5 635.0h0M149.6 634.9h0M154.8 632.7h0M140.0 634.7h0M145.8 636.8h0M147.0 638.4h0M148.6 656.2h0M142.5 645.8h0M151.3 658.5h0M140.5 648.9h0M149.2 642.8h0M143.8 653.9h0M153.7 646.3h0M158.9 647.6h0M156.8 649.9h0M153.4 643.6h0M155.0 650.2h0M150.0 649.6h0M149.7 640.2h0M177.4 644.0h0M157.4 643.5h0M161.1 641.3h0M160.3 641.9h0M172.2 635.4h0M136.1 642.3h0M151.8 658.3h0M143.5 647.1h0M144.6 643.4h0M135.3 639.4h0M157.9 641.9h0M148.2 644.2h0M147.0 636.9h0M155.6 631.5h0M147.9 634.9h0M146.1 645.3h0M141.9 640.9h0M150.6 640.2h0M164.2 644.5h0M154.5 638.5h0M150.6 647.7h0M154.3 641.0h0M158.0 638.9h0M145.3 641.3h0M161.9 647.1h0M149.4 623.5h0M146.8 597.2h0M146.8 627.3h0M149.1 614.2h0M159.4 631.8h0M132.4 617.4h0M123.9 603.9h0M117.6 625.8h0M124.9 623.9h0M155.2 609.9h0M156.9 609.8h0M117.5 613.2h0M120.0 622.2h0M139.3 622.6h0M161.0 704.7h0M175.8 694.8h0M169.3 693.7h0M165.8 699.3h0M178.6 706.4h0M160.7 699.0h0M152.5 696.8h0M146.2 692.9h0M164.5 698.3h0M164.0 706.3h0M133.5 703.1h0M152.3 681.6h0M152.4 691.8h0M165.3 684.3h0M156.5 694.4h0M152.8 705.0h0M143.2 704.5h0M172.2 697.0h0M153.3 698.9h0M148.4 699.2h0M154.7 694.4h0M166.0 710.4h0M157.9 689.4h0M143.0 700.7h0M157.2 691.3h0M162.3 700.5h0M161.1 691.8h0M159.8 686.0h0M160.2 706.3h0M145.8 699.9h0M152.7 694.6h0M159.4 687.0h0M164.9 688.6h0M146.1 702.0h0M163.4 698.3h0M162.7 697.2h0M147.8 687.1h0M168.8 709.8h0M147.9 698.8h0M163.3 699.5h0M139.0 693.2h0M152.8 690.6h0M158.9 692.0h0M165.2 692.8h0M149.2 691.8h0M157.7 707.6h0M150.6 701.3h0M160.9 694.1h0M142.0 693.9h0M154.5 706.3h0M165.2 704.2h0M141.1 693.6h0M166.0 703.5h0M167.9 691.9h0M149.2 685.0h0M154.6 697.3h0M126.9 694.5h0M148.0 695.8h0M135.0 690.8h0M172.7 685.7h0M120.2 694.8h0M159.5 719.9h0M146.7 699.4h0M172.3 704.6h0M157.9 699.2h0M159.8 701.6h0M166.1 692.0h0M139.3 691.0h0M146.6 700.7h0M168.9 698.1h0M162.4 693.3h0M162.7 702.5h0M144.2 694.0h0M164.6 696.3h0M153.3 692.8h0M155.3 708.3h0M159.0 695.2h0M164.8 704.9h0M146.7 696.4h0M150.3 699.2h0M199.8 696.4h0M218.6 697.4h0M216.2 690.0h0M234.0 699.9h0M178.4 687.7h0M169.4 704.4h0M185.6 696.4h0M150.8 697.5h0M174.0 700.2h0M184.3 701.7h0M203.2 695.3h0M176.7 699.1h0M202.6 692.4h0M207.5 701.1h0M183.7 680.7h0M180.1 683.9h0M198.7 703.8h0M151.5 693.7h0M166.1 706.4h0M144.6 688.5h0M183.2 699.4h0M189.4 697.4h0M183.1 694.8h0M175.3 724.0h0M196.6 695.6h0M181.6 684.7h0M151.7 727.0h0M212.4 695.7h0M146.5 703.5h0M194.2 711.1h0M192.8 679.6h0M210.4 699.9h0M187.9 708.6h0M183.9 702.8h0M160.2 712.3h0M221.8 698.8h0M159.6 703.6h0M212.4 684.4h0M168.2 697.8h0M199.9 702.9h0M156.4 708.9h0M181.3 707.0h0M153.8 701.9h0M200.7 693.2h0M176.3 681.7h0M164.5 700.4h0M152.3 692.3h0M178.4 715.6h0M163.6 682.7h0M196.2 698.6h0M199.2 714.8h0M163.6 712.2h0M163.6 703.3h0M192.1 690.2h0M201.6 674.4h0M170.6 699.9h0M191.7 707.5h0M174.9 695.9h0M162.3 695.3h0M206.7 710.3h0M108.5 723.7h0M137.9 721.7h0M151.9 718.9h0M189.3 707.6h0M154.0 751.4h0M103.7 773.5h0M143.6 723.6h0M146.3 738.9h0M124.4 762.3h0M121.2 712.4h0M115.0 711.3h0M140.4 714.5h0M167.3 709.9h0M189.6 743.9h0M138.3 736.5h0M142.8 712.4h0M158.3 727.0h0M170.7 737.6h0M186.8 767.8h0M166.2 716.3h0M142.4 742.6h0M182.0 734.4h0M115.0 757.2h0M184.4 746.9h0M191.5 697.3h0M155.7 715.5h0M140.8 736.5h0M143.8 714.6h0M129.9 730.5h0M161.5 716.2h0M109.9 767.1h0M139.4 732.6h0M163.5 723.5h0M208.0 713.3h0M174.1 738.5h0M178.7 712.5h0M176.0 730.3h0M174.9 694.2h0M149.8 559.6h0M151.1 591.3h0M125.9 591.3h0M186.9 591.3h0M104.7 721.2h0M115.3 756.1h0M136.5 756.1h0M144.5 768.8h0M139.2 781.5h0M157.7 791.0h0M173.6 749.8h0" stroke="#d6d6d6" stroke-width="2.7" stroke-linecap="round" fill="none"/>
<line x1="89.0" y1="673.5" x2="337.4" y2="673.5" stroke="#333" stroke-width="0.9" stroke-dasharray="2.8 2.2"/>
<line x1="152.5" y1="540.4" x2="152.5" y2="795.9" stroke="#333" stroke-width="0.9" stroke-dasharray="2.8 2.2"/>
<path d="M116.0 624.5h0M111.5 637.0h0M127.0 693.0h0" stroke="#4e85c6" stroke-width="2.7" stroke-linecap="round" fill="none"/>
<path d="M203.5 628.5h0M216.0 633.0h0M192.5 642.5h0M176.8 653.5h0M187.0 650.0h0M327.3 637.3h0M196.5 694.5h0M204.5 694.0h0M207.5 693.8h0M221.5 711.2h0M230.5 712.0h0M253.5 721.9h0M207.5 737.2h0M210.5 736.6h0M264.5 755.9h0" stroke="#dc2b1a" stroke-width="2.7" stroke-linecap="round" fill="none"/>
<rect x="89.0" y="540.4" width="248.39999999999998" height="255.5" fill="none" stroke="#a8a8a8" stroke-width="1"/>
<line x1="86.5" y1="546.9" x2="89.0" y2="546.9" stroke="#333" stroke-width="0.9"/>
<text x="84.8" y="551.9" font-size="18.2" fill="#4d4d4d" stroke="#4d4d4d" stroke-width="0.25" text-anchor="end">4</text>
<line x1="86.5" y1="610.3" x2="89.0" y2="610.3" stroke="#333" stroke-width="0.9"/>
<text x="84.8" y="615.3" font-size="18.2" fill="#4d4d4d" stroke="#4d4d4d" stroke-width="0.25" text-anchor="end">2</text>
<line x1="86.5" y1="673.7" x2="89.0" y2="673.7" stroke="#333" stroke-width="0.9"/>
<text x="84.8" y="678.7" font-size="18.2" fill="#4d4d4d" stroke="#4d4d4d" stroke-width="0.25" text-anchor="end">0</text>
<line x1="86.5" y1="737.1" x2="89.0" y2="737.1" stroke="#333" stroke-width="0.9"/>
<text x="84.8" y="742.1" font-size="18.2" fill="#4d4d4d" stroke="#4d4d4d" stroke-width="0.25" text-anchor="end">−2</text>
<line x1="147.8" y1="795.9" x2="147.8" y2="798.4" stroke="#333" stroke-width="0.9"/>
<text x="150.0" y="814.1" font-size="18.2" fill="#4d4d4d" stroke="#4d4d4d" stroke-width="0.25" text-anchor="middle">0.0</text>
<line x1="218.3" y1="795.9" x2="218.3" y2="798.4" stroke="#333" stroke-width="0.9"/>
<text x="216.9" y="814.1" font-size="18.2" fill="#4d4d4d" stroke="#4d4d4d" stroke-width="0.25" text-anchor="middle">2.5</text>
<line x1="280.6" y1="795.9" x2="280.6" y2="798.4" stroke="#333" stroke-width="0.9"/>
<text x="280.6" y="814.1" font-size="18.2" fill="#4d4d4d" stroke="#4d4d4d" stroke-width="0.25" text-anchor="middle">5.0</text>
<text x="215.5" y="834.2" font-size="18.2" fill="#000" stroke="#000" stroke-width="0.25" text-anchor="middle">COVID19 vs. Healthy (RNA-seq)</text>
<text x="59.0" y="668.0" font-size="18.2" fill="#000" stroke="#000" stroke-width="0.25" text-anchor="middle" transform="rotate(-90 59 668)">Endotoxin tolerance signature</text>
<text x="108.7" y="621.5" font-size="13.5" fill="#000" stroke="#000" stroke-width="0.25" font-style="italic">PFKFB4</text>
<text x="108.2" y="634.0" font-size="13.5" fill="#000" stroke="#000" stroke-width="0.25" font-style="italic">CD86</text>
<text x="90.7" y="649.3" font-size="13.5" fill="#000" stroke="#000" stroke-width="0.25" font-style="italic">ALOX5</text>
<text x="185.3" y="625.3" font-size="13.5" fill="#000" stroke="#000" stroke-width="0.25" font-style="italic">CYP27A1</text>
<text x="169.4" y="639.0" font-size="13.5" fill="#000" stroke="#000" stroke-width="0.25" font-style="italic">SLC36A1</text>
<text x="234.1" y="638.6" font-size="13.5" fill="#000" stroke="#000" stroke-width="0.25" font-style="italic">OLFML2B</text>
<text x="298.2" y="634.9" font-size="13.5" fill="#000" stroke="#000" stroke-width="0.25" font-style="italic">HSD1</text>
<text x="153.3" y="653.3" font-size="13.5" fill="#000" stroke="#000" stroke-width="0.25" font-style="italic">NTAN1</text>
<text x="204.0" y="653.5" font-size="13.5" fill="#000" stroke="#000" stroke-width="0.25" font-style="italic">GNPDA1</text>
<text x="161.0" y="669.8" font-size="13.5" fill="#000" stroke="#000" stroke-width="0.25" font-style="italic">SPIRE1</text>
<text x="119.4" y="689.8" font-size="13.5" fill="#000" stroke="#000" stroke-width="0.25" font-style="italic">OGFRL1</text>
<text x="181.1" y="690.0" font-size="13.5" fill="#000" stroke="#000" stroke-width="0.25" font-style="italic">SRM</text>
<text x="221.6" y="690.7" font-size="13.5" fill="#000" stroke="#000" stroke-width="0.25" font-style="italic">PARP12</text>
<text x="211.5" y="703.6" font-size="13.5" fill="#000" stroke="#000" stroke-width="0.25" font-style="italic">GJB2</text>
<text x="155.4" y="711.4" font-size="13.5" fill="#000" stroke="#000" stroke-width="0.25" font-style="italic">ELOVL7</text>
<text x="223.3" y="718.6" font-size="13.5" fill="#000" stroke="#000" stroke-width="0.25" font-style="italic">SLAMF7</text>
<text x="206.4" y="733.3" font-size="13.5" fill="#000" stroke="#000" stroke-width="0.25" font-style="italic">LGMN</text>
<text x="254.8" y="733.2" font-size="13.5" fill="#000" stroke="#000" stroke-width="0.25" font-style="italic">SGPP2</text>
<text x="189.3" y="750.4" font-size="13.5" fill="#000" stroke="#000" stroke-width="0.25" font-style="italic">TNFRSF4</text>
<text x="246.8" y="769.5" font-size="13.5" fill="#000" stroke="#000" stroke-width="0.25" font-style="italic">PDGFRL</text>
<text x="361.6" y="502.8" font-size="27" fill="#000" font-weight="bold">d</text>
<circle cx="408.4" cy="456.8" r="3.4" fill="#4e85c6"/>
<text x="416.8" y="460.5" font-size="18.2" fill="#000" stroke="#000" stroke-width="0.25">Downregulated</text>
<circle cx="408.4" cy="471.8" r="3.4" fill="#d6d6d6"/>
<text x="416.8" y="477.0" font-size="18.2" fill="#000" stroke="#000" stroke-width="0.25">Not significant</text>
<circle cx="408.4" cy="488.2" r="3.4" fill="#dc2b1a"/>
<text x="416.8" y="493.5" font-size="18.2" fill="#000" stroke="#000" stroke-width="0.25">Upregulated</text>
<text x="536.0" y="529.9" font-size="18.2" fill="#000" stroke="#000" stroke-width="0.25" text-anchor="middle">Stimulated</text>
<rect x="413.5" y="539.5" width="247.89999999999998" height="255.79999999999995" fill="#fff"/>
<line x1="436.5" y1="539.5" x2="436.5" y2="795.3" stroke="#f7f7f7" stroke-width="1"/>
<line x1="518.5" y1="539.5" x2="518.5" y2="795.3" stroke="#f7f7f7" stroke-width="1"/>
<line x1="599.5" y1="539.5" x2="599.5" y2="795.3" stroke="#f7f7f7" stroke-width="1"/>
<line x1="477.5" y1="539.5" x2="477.5" y2="795.3" stroke="#f7f7f7" stroke-width="1"/>
<line x1="559.5" y1="539.5" x2="559.5" y2="795.3" stroke="#f7f7f7" stroke-width="1"/>
<line x1="640.5" y1="539.5" x2="640.5" y2="795.3" stroke="#f7f7f7" stroke-width="1"/>
<line x1="413.5" y1="768.5" x2="661.4" y2="768.5" stroke="#f7f7f7" stroke-width="1"/>
<line x1="413.5" y1="704.5" x2="661.4" y2="704.5" stroke="#f7f7f7" stroke-width="1"/>
<line x1="413.5" y1="641.5" x2="661.4" y2="641.5" stroke="#f7f7f7" stroke-width="1"/>
<line x1="413.5" y1="578.5" x2="661.4" y2="578.5" stroke="#f7f7f7" stroke-width="1"/>
<line x1="413.5" y1="736.5" x2="661.4" y2="736.5" stroke="#f7f7f7" stroke-width="1"/>
<line x1="413.5" y1="673.5" x2="661.4" y2="673.5" stroke="#f7f7f7" stroke-width="1"/>
<line x1="413.5" y1="609.5" x2="661.4" y2="609.5" stroke="#f7f7f7" stroke-width="1"/>
<line x1="413.5" y1="546.5" x2="661.4" y2="546.5" stroke="#f7f7f7" stroke-width="1"/>
<path d="M543.7 666.8h0M558.1 639.4h0M548.7 650.6h0M575.3 650.8h0M539.9 650.9h0M555.2 652.2h0M547.3 643.5h0M546.9 645.2h0M550.3 656.4h0M551.3 657.4h0M559.0 655.2h0M548.6 663.6h0M546.7 658.2h0M564.0 647.6h0M555.3 662.9h0M539.7 648.0h0M538.6 635.7h0M547.1 645.0h0M553.4 647.9h0M557.5 652.8h0M553.9 635.2h0M552.5 645.3h0M547.7 645.9h0M556.6 648.8h0M535.7 644.9h0M549.3 642.1h0M551.0 631.7h0M540.0 655.6h0M556.4 656.1h0M553.5 646.7h0M533.3 640.3h0M562.7 644.6h0M538.2 639.1h0M541.4 647.6h0M554.2 653.8h0M535.7 647.9h0M550.2 654.5h0M543.7 639.6h0M549.8 650.9h0M545.3 645.0h0M551.4 648.2h0M538.4 650.0h0M545.1 645.9h0M560.7 637.7h0M556.2 645.5h0M547.7 643.5h0M546.4 649.7h0M543.2 647.1h0M549.9 629.5h0M555.4 650.1h0M557.3 651.0h0M559.4 639.4h0M575.8 656.6h0M549.9 647.6h0M553.1 640.0h0M542.0 653.3h0M553.2 637.6h0M540.8 660.9h0M560.5 638.8h0M560.0 655.5h0M550.6 697.1h0M555.7 699.7h0M551.8 691.1h0M548.8 703.0h0M548.8 702.7h0M553.2 700.4h0M548.8 688.0h0M554.6 701.4h0M562.1 703.0h0M552.2 699.5h0M547.7 701.8h0M552.9 709.8h0M549.2 696.9h0M554.4 696.6h0M570.5 693.8h0M551.1 699.8h0M552.2 695.5h0M549.9 687.4h0M543.6 694.1h0M556.1 707.5h0M557.1 694.6h0M547.2 681.3h0M557.7 701.3h0M548.5 704.5h0M554.2 698.4h0M541.2 706.7h0M546.6 701.9h0M549.4 703.9h0M557.2 691.7h0M552.8 715.4h0M551.0 694.6h0M551.6 696.8h0M553.0 710.1h0M532.6 694.2h0M548.1 695.7h0M549.8 700.1h0M562.8 707.9h0M552.1 707.1h0M552.7 695.3h0M557.2 697.7h0M541.5 697.0h0M559.1 691.4h0M568.7 694.6h0M544.3 702.8h0M552.8 691.0h0M543.3 692.0h0M557.2 705.4h0M556.9 704.6h0M552.1 701.1h0M554.0 707.7h0M556.2 715.2h0M549.0 703.1h0M564.4 694.8h0M548.4 705.6h0M552.4 703.6h0M569.5 719.7h0M552.7 717.3h0M560.2 704.9h0M564.6 703.0h0M560.5 697.3h0M561.3 698.7h0M529.2 704.3h0M540.1 691.7h0M556.3 698.8h0M555.7 697.4h0M547.8 684.2h0M554.0 700.3h0M540.8 703.5h0M552.3 700.2h0M548.5 699.2h0M543.5 698.8h0M540.2 705.3h0M546.5 692.3h0M556.0 698.3h0M543.3 701.9h0M558.4 689.4h0M540.8 702.1h0M553.0 696.2h0M552.2 693.8h0M541.0 687.1h0M543.3 698.4h0M556.2 690.0h0M559.2 692.3h0M562.1 700.0h0M558.0 687.2h0M546.4 709.4h0M544.4 688.1h0M561.9 701.5h0M554.2 695.2h0M560.4 713.0h0M557.0 686.2h0M562.4 670.9h0M558.5 661.2h0M565.6 634.1h0M556.4 655.4h0M573.3 591.7h0M561.0 730.5h0M561.5 687.8h0M565.8 732.2h0M559.3 661.8h0M557.6 626.1h0M553.4 730.2h0M558.3 636.3h0M558.6 700.9h0M565.5 663.8h0M557.2 668.4h0M559.0 646.3h0M561.4 710.4h0M557.5 692.9h0M562.8 656.9h0M555.3 682.7h0M562.4 624.1h0M562.1 585.2h0M560.7 640.6h0M572.0 552.7h0M568.8 568.6h0M549.2 784.2h0M575.3 790.5h0M567.1 559.1h0M567.1 603.5h0M554.1 597.1h0M563.9 616.1h0M539.4 619.3h0" stroke="#d6d6d6" stroke-width="2.7" stroke-linecap="round" fill="none"/>
<line x1="413.5" y1="673.5" x2="661.4" y2="673.5" stroke="#333" stroke-width="0.9" stroke-dasharray="2.8 2.2"/>
<line x1="559.5" y1="539.5" x2="559.5" y2="795.3" stroke="#333" stroke-width="0.9" stroke-dasharray="2.8 2.2"/>
<path d="M515.1 693.4h0M514.5 695.1h0M525.0 695.1h0M528.5 696.3h0M535.5 695.7h0M545.5 695.1h0M546.1 697.4h0M524.5 698.0h0M530.3 699.8h0M533.8 699.2h0M539.1 699.8h0M546.6 699.8h0M492.3 701.5h0M508.7 701.0h0M541.4 703.9h0M544.9 705.0h0M549.6 703.9h0M543.1 706.2h0M498.8 706.2h0M532.0 708.5h0M535.5 708.5h0M547.2 706.2h0M528.0 711.5h0M515.7 713.2h0M536.1 712.0h0M525.0 717.9h0M511.0 717.9h0M491.2 722.0h0M505.2 723.1h0M523.9 724.9h0M535.0 724.9h0M524.5 739.5h0M523.3 745.9h0M502.3 696.3h0M492.1 702.2h0M488.0 708.0h0M474.6 711.0h0M488.6 712.7h0M491.5 721.5h0M475.7 729.0h0M484.5 748.9h0M424.3 755.3h0M534.6 652.6h0M539.0 652.3h0M546.0 647.9h0M546.9 654.0h0M515.3 693.4h0M532.0 637.4h0M535.0 638.0h0M544.0 636.8h0M539.0 652.0h0M546.7 654.3h0M545.3 648.0h0M538.0 702.0h0M541.0 697.0h0M529.0 704.0h0M520.0 700.0h0M550.0 700.0h0M552.0 696.0h0" stroke="#4e85c6" stroke-width="2.7" stroke-linecap="round" fill="none"/>
<path d="M579.6 589.3h0M584.3 588.8h0M581.3 605.1h0M587.4 608.0h0M572.3 612.9h0M591.3 614.5h0M574.6 616.2h0M620.1 620.3h0M574.0 622.6h0M588.6 627.6h0M576.9 630.2h0M607.9 637.0h0M570.5 637.2h0M578.1 639.0h0M581.6 640.7h0M572.8 641.9h0M571.7 645.4h0M576.4 646.6h0M579.9 648.9h0M568.8 651.2h0M571.1 653.6h0M575.8 653.6h0M578.1 650.7h0M581.0 652.4h0M586.9 651.2h0M593.3 651.2h0M584.5 647.2h0M650.6 637.3h0M573.5 634.0h0M580.0 632.0h0M566.0 643.0h0M583.0 644.0h0M575.0 692.0h0M583.0 692.0h0M577.0 700.0h0M579.0 703.0h0M599.0 698.0h0M587.0 707.0h0M586.0 721.0h0M578.0 727.0h0M574.0 733.0h0M614.0 746.0h0M574.0 757.0h0" stroke="#dc2b1a" stroke-width="2.7" stroke-linecap="round" fill="none"/>
<path d="M539.7 628.8L544.5 636.4M532.8 651.4H538.6M533.5 651.6L532 658.7" stroke="#222" stroke-width="0.6" fill="none"/>
<rect x="413.5" y="539.5" width="247.89999999999998" height="255.79999999999995" fill="none" stroke="#a8a8a8" stroke-width="1"/>
<line x1="411.0" y1="546.4" x2="413.5" y2="546.4" stroke="#333" stroke-width="0.9"/>
<text x="408.5" y="551.4" font-size="18.2" fill="#4d4d4d" stroke="#4d4d4d" stroke-width="0.25" text-anchor="end">4</text>
<line x1="411.0" y1="609.8" x2="413.5" y2="609.8" stroke="#333" stroke-width="0.9"/>
<text x="408.5" y="614.8" font-size="18.2" fill="#4d4d4d" stroke="#4d4d4d" stroke-width="0.25" text-anchor="end">2</text>
<line x1="411.0" y1="673.2" x2="413.5" y2="673.2" stroke="#333" stroke-width="0.9"/>
<text x="408.5" y="678.2" font-size="18.2" fill="#4d4d4d" stroke="#4d4d4d" stroke-width="0.25" text-anchor="end">0</text>
<line x1="411.0" y1="736.6" x2="413.5" y2="736.6" stroke="#333" stroke-width="0.9"/>
<text x="411.6" y="740.6" font-size="18.2" fill="#4d4d4d" stroke="#4d4d4d" stroke-width="0.25" text-anchor="end">2</text>
<rect x="398.1" y="733.8" width="2.8" height="1.3" fill="#4d4d4d"/>
<line x1="478.4" y1="795.3" x2="478.4" y2="797.8" stroke="#333" stroke-width="0.9"/>
<text x="472.3" y="813.5" font-size="18.2" fill="#4d4d4d" stroke="#4d4d4d" stroke-width="0.25" text-anchor="middle">−5</text>
<line x1="558.3" y1="795.3" x2="558.3" y2="797.8" stroke="#333" stroke-width="0.9"/>
<text x="558.3" y="813.5" font-size="18.2" fill="#4d4d4d" stroke="#4d4d4d" stroke-width="0.25" text-anchor="middle">0</text>
<line x1="636.3" y1="795.3" x2="636.3" y2="797.8" stroke="#333" stroke-width="0.9"/>
<text x="636.3" y="813.5" font-size="18.2" fill="#4d4d4d" stroke="#4d4d4d" stroke-width="0.25" text-anchor="middle">5</text>
<text x="539.5" y="834.4" font-size="18.2" fill="#000" stroke="#000" stroke-width="0.25" text-anchor="middle">COVID19 vs. Healthy (RNA-seq)</text>
<text x="579.3" y="583.1" font-size="13.5" fill="#000" stroke="#000" stroke-width="0.25" font-style="italic">FBP1</text>
<text x="538.4" y="593.3" font-size="13.5" fill="#000" stroke="#000" stroke-width="0.25" font-style="italic">CD14</text>
<text x="602.4" y="598.4" font-size="13.5" fill="#000" stroke="#000" stroke-width="0.25" font-style="italic">DNER</text>
<text x="570.1" y="601.9" font-size="13.5" fill="#000" stroke="#000" stroke-width="0.25" font-style="italic">FOS</text>
<text x="496.8" y="606.6" font-size="13.5" fill="#000" stroke="#000" stroke-width="0.25" font-style="italic">C5AR1</text>
<text x="538.7" y="611.5" font-size="13.5" fill="#000" stroke="#000" stroke-width="0.25" font-style="italic">TIMP2</text>
<text x="594.2" y="611.1" font-size="13.5" fill="#000" stroke="#000" stroke-width="0.25" font-style="italic">SIGLEC10</text>
<text x="515.3" y="624.6" font-size="13.5" fill="#000" stroke="#000" stroke-width="0.25" font-style="italic">CD86</text>
<text x="552.7" y="624.0" font-size="13.5" fill="#000" stroke="#000" stroke-width="0.25" font-style="italic">VENTX</text>
<text x="599.7" y="621.7" font-size="13.5" fill="#000" stroke="#000" stroke-width="0.25" font-style="italic">SLCO2B1</text>
<text x="479.3" y="636.3" font-size="13.5" fill="#000" stroke="#000" stroke-width="0.25" font-style="italic">RCBTB2</text>
<text x="551.3" y="635.2" font-size="13.5" fill="#000" stroke="#000" stroke-width="0.25" font-style="italic">PYGL</text>
<text x="591.5" y="635.2" font-size="13.5" fill="#000" stroke="#000" stroke-width="0.25" font-style="italic">CYP27A1</text>
<text x="509.0" y="646.8" font-size="13.5" fill="#000" stroke="#000" stroke-width="0.25" font-style="italic">HAVCR2</text>
<text x="563.9" y="648.5" font-size="13.5" fill="#000" stroke="#000" stroke-width="0.25" font-style="italic">TIMP1</text>
<text x="605.8" y="648.5" font-size="13.5" fill="#000" stroke="#000" stroke-width="0.25" font-style="italic">SLAMF8</text>
<text x="474.7" y="658.0" font-size="13.5" fill="#000" stroke="#000" stroke-width="0.25" font-style="italic">ABHD12</text>
<text x="597.7" y="659.1" font-size="13.5" fill="#000" stroke="#000" stroke-width="0.25" font-style="italic">HSD11B1</text>
<text x="489.1" y="670.9" font-size="13.5" fill="#000" stroke="#000" stroke-width="0.25" font-style="italic">ADAMDEC1</text>
<text x="567.4" y="670.4" font-size="13.5" fill="#000" stroke="#000" stroke-width="0.25" font-style="italic">SNX2</text>
<text x="496.3" y="686.4" font-size="13.5" fill="#000" stroke="#000" stroke-width="0.25" font-style="italic">CD80</text>
<text x="542.2" y="686.6" font-size="13.5" fill="#000" stroke="#000" stroke-width="0.25" font-style="italic">TRIP10</text>
<text x="592.0" y="686.0" font-size="13.5" fill="#000" stroke="#000" stroke-width="0.25" font-style="italic">SERPINB2</text>
<text x="476.0" y="696.9" font-size="13.5" fill="#000" stroke="#000" stroke-width="0.25" font-style="italic">CD38</text>
<text x="602.6" y="699.6" font-size="13.5" fill="#000" stroke="#000" stroke-width="0.25" font-style="italic">HTRA1</text>
<text x="429.3" y="708.8" font-size="13.5" fill="#000" stroke="#000" stroke-width="0.25" font-style="italic">MCOLN2</text>
<text x="492.8" y="708.8" font-size="13.5" fill="#000" stroke="#000" stroke-width="0.25" font-style="italic">SAMD9</text>
<text x="590.1" y="711.2" font-size="13.5" fill="#000" stroke="#000" stroke-width="0.25" font-style="italic">CD9</text>
<text x="493.5" y="719.3" font-size="13.5" fill="#000" stroke="#000" stroke-width="0.25" font-style="italic">IRF7</text>
<text x="451.9" y="722.1" font-size="13.5" fill="#000" stroke="#000" stroke-width="0.25" font-style="italic">OASL</text>
<text x="526.3" y="722.1" font-size="13.5" fill="#000" stroke="#000" stroke-width="0.25" font-style="italic">TAP2</text>
<text x="591.6" y="724.3" font-size="13.5" fill="#000" stroke="#000" stroke-width="0.25" font-style="italic">SGPP2</text>
<text x="474.5" y="732.4" font-size="13.5" fill="#000" stroke="#000" stroke-width="0.25" font-style="italic">SP140</text>
<text x="439.9" y="735.7" font-size="13.5" fill="#000" stroke="#000" stroke-width="0.25" font-style="italic">CKB</text>
<text x="551.1" y="735.7" font-size="13.5" fill="#000" stroke="#000" stroke-width="0.25" font-style="italic">TNF</text>
<text x="580.7" y="735.7" font-size="13.5" fill="#000" stroke="#000" stroke-width="0.25" font-style="italic">IL19</text>
<text x="515.4" y="736.8" font-size="13.5" fill="#000" stroke="#000" stroke-width="0.25" font-style="italic">XAF1</text>
<text x="527.4" y="748.8" font-size="13.5" fill="#000" stroke="#000" stroke-width="0.25" font-style="italic">CCL5</text>
<text x="566.0" y="748.8" font-size="13.5" fill="#000" stroke="#000" stroke-width="0.25" font-style="italic">BATF</text>
<text x="454.1" y="752.8" font-size="13.5" fill="#000" stroke="#000" stroke-width="0.25" font-style="italic">CFB</text>
<text x="614.2" y="755.0" font-size="13.5" fill="#000" stroke="#000" stroke-width="0.25" font-style="italic">APOE</text>
<text x="518.0" y="762.0" font-size="13.5" fill="#000" stroke="#000" stroke-width="0.25" font-style="italic">KCNJ2</text>
<text x="427.2" y="763.7" font-size="13.5" fill="#000" stroke="#000" stroke-width="0.25" font-style="italic">PDGFRL</text>
<text x="571.2" y="770.3" font-size="13.5" fill="#000" stroke="#000" stroke-width="0.25" font-style="italic">G0S2</text>
<text x="-0.6" y="879.1" font-size="27" fill="#000" font-weight="bold">e</text>
<path d="M86.5 902.4 H93.5 V991.2 H86.5" fill="none" stroke="#333" stroke-width="1"/>
<text x="67.2" y="896.0" font-size="17.5" fill="#000" stroke="#000" stroke-width="0.25" text-anchor="middle" transform="rotate(-90 67.2 896)">2.6</text>
<text x="67.2" y="989.0" font-size="17.5" fill="#000" stroke="#000" stroke-width="0.25" text-anchor="middle" transform="rotate(-90 67.2 989)">0</text>
<text x="47.4" y="934.8" font-size="18.2" fill="#000" stroke="#000" stroke-width="0.25" text-anchor="middle" transform="rotate(-90 47.4 934.8)">Enrichment</text>
<path d="M86.5 1000.7 H93.5 V1044.5 H86.5" fill="none" stroke="#333" stroke-width="1"/>
<text x="83.2" y="994.0" font-size="17.5" fill="#000" stroke="#000" stroke-width="0.25" text-anchor="middle" transform="rotate(-90 83.2 994)">3.9</text>
<text x="83.2" y="1042.6" font-size="17.5" fill="#000" stroke="#000" stroke-width="0.25" text-anchor="middle" transform="rotate(-90 83.2 1042.6)">0</text>
<text x="22.6" y="1004.0" font-size="18.2" fill="#000" stroke="#000" stroke-width="0.25" text-anchor="middle" transform="rotate(-90 22.6 1004)">ET signature</text>
<path d="M86.5 1151.6 H93.5 V1196.4 H86.5" fill="none" stroke="#333" stroke-width="1"/>
<text x="83.2" y="1149.0" font-size="17.5" fill="#000" stroke="#000" stroke-width="0.25" text-anchor="middle" transform="rotate(-90 83.2 1149)">0</text>
<text x="83.2" y="1184.0" font-size="17.5" fill="#000" stroke="#000" stroke-width="0.25" text-anchor="middle" transform="rotate(-90 83.2 1184)">−3.9</text>
<text x="22.6" y="1152.6" font-size="18.2" fill="#000" stroke="#000" stroke-width="0.25" text-anchor="middle" transform="rotate(-90 22.6 1152.6)">ET signature</text>
<path d="M86.5 1205.6 H93.5 V1294.2 H86.5" fill="none" stroke="#333" stroke-width="1"/>
<text x="67.2" y="1202.0" font-size="17.5" fill="#000" stroke="#000" stroke-width="0.25" text-anchor="middle" transform="rotate(-90 67.2 1202)">0</text>
<text x="67.2" y="1287.0" font-size="17.5" fill="#000" stroke="#000" stroke-width="0.25" text-anchor="middle" transform="rotate(-90 67.2 1287)">2.3</text>
<text x="47.4" y="1237.8" font-size="18.2" fill="#000" stroke="#000" stroke-width="0.25" text-anchor="middle" transform="rotate(-90 47.4 1237.8)">Enrichment</text>
<line x1="93.5" y1="956.3" x2="648" y2="956.3" stroke="#222" stroke-width="1" stroke-dasharray="3.5 3.2"/>
<line x1="93.5" y1="1244.0" x2="648" y2="1244.0" stroke="#222" stroke-width="1" stroke-dasharray="3.5 3.2"/>
<path d="M113.2 979.5 C117.7 979.5 130.5 979.6 140.0 979.6 C149.5 979.6 163.3 979.5 170.0 979.5 C176.7 979.5 176.8 979.5 180.2 979.4 C183.6 979.3 187.0 979.1 190.4 978.8 C193.8 978.5 197.3 978.2 200.7 977.8 C204.1 977.4 207.5 976.8 210.9 976.2 C214.3 975.6 217.7 974.9 221.1 974.3 C224.5 973.7 227.9 973.2 231.3 972.7 C234.7 972.2 238.1 971.7 241.5 971.3 C244.9 970.9 248.3 970.5 251.7 970.2 C255.1 969.9 258.6 969.8 262.0 969.6 C265.4 969.4 268.8 969.0 272.2 968.8 C275.6 968.6 279.0 968.5 282.4 968.2 C285.8 967.9 289.2 967.5 292.6 967.2 C296.0 966.9 295.9 966.9 302.8 966.2 C309.7 965.5 324.1 963.8 334.2 962.8 C344.3 961.8 353.7 960.9 363.4 959.9 C373.1 958.9 385.3 957.6 392.6 956.9 C399.9 956.2 402.3 955.9 407.2 955.5 C412.1 955.1 416.9 954.8 421.8 954.8 C426.7 954.8 431.5 955.0 436.4 955.2 C441.3 955.4 446.1 955.7 451.0 955.8 C455.9 955.9 460.7 956.0 465.6 955.8 C470.5 955.6 475.3 955.1 480.2 954.6 C485.1 954.1 490.7 953.3 494.8 952.8 C498.9 952.2 502.4 951.7 505.0 951.3 C507.6 950.9 507.6 951.2 510.2 950.6 C512.8 950.0 517.0 948.8 520.4 947.7 C523.8 946.6 527.3 945.4 530.7 944.0 C534.1 942.6 537.5 941.2 540.9 939.6 C544.3 938.0 547.7 936.1 551.1 934.4 C554.5 932.7 557.9 931.0 561.3 929.3 C564.7 927.6 568.1 925.9 571.5 924.2 C574.9 922.5 578.3 920.7 581.7 919.1 C585.1 917.5 588.6 915.9 592.0 914.4 C595.4 912.9 598.8 911.6 602.2 910.3 C605.6 909.0 608.1 908.0 612.4 906.6 C616.6 905.2 625.2 902.9 627.7 902.2" fill="none" stroke="#dc2f1f" stroke-width="1.8"/>
<path d="M113.7 1294.0 C116.4 1292.5 125.1 1287.7 129.8 1285.1 C134.6 1282.5 138.1 1280.7 142.2 1278.6 C146.3 1276.5 150.5 1274.6 154.6 1272.7 C158.7 1270.8 162.8 1268.9 167.0 1267.2 C171.2 1265.5 175.3 1264.0 179.5 1262.3 C183.7 1260.6 187.8 1259.0 191.9 1257.3 C196.0 1255.6 200.2 1253.9 204.3 1252.3 C208.4 1250.7 212.6 1249.1 216.7 1247.9 C220.8 1246.7 225.0 1245.7 229.1 1244.9 C233.2 1244.1 237.4 1243.4 241.5 1242.9 C245.6 1242.4 249.8 1242.1 253.9 1241.9 C258.0 1241.7 262.8 1241.8 266.3 1241.9 C269.8 1242.0 269.5 1242.0 275.0 1242.4 C280.5 1242.8 292.7 1243.9 299.2 1244.2 C305.7 1244.5 308.9 1244.5 313.8 1244.5 C318.7 1244.5 321.1 1244.5 328.4 1244.2 C335.7 1243.9 347.9 1243.3 357.6 1242.7 C367.3 1242.1 377.1 1241.6 386.8 1240.7 C396.5 1239.8 406.3 1238.7 416.0 1237.5 C425.7 1236.3 437.0 1234.4 445.2 1233.4 C453.4 1232.4 459.5 1232.0 465.0 1231.3 C470.5 1230.5 473.7 1229.6 478.1 1228.9 C482.5 1228.2 486.9 1227.7 491.3 1227.3 C495.7 1226.9 500.0 1226.7 504.4 1226.6 C508.8 1226.5 513.1 1226.6 517.5 1226.6 C521.9 1226.6 526.3 1226.7 530.7 1226.8 C535.1 1226.9 539.4 1227.1 543.8 1227.1 C548.2 1227.1 552.6 1226.8 557.0 1226.8 C561.4 1226.8 565.7 1226.7 570.1 1226.8 C574.5 1226.9 578.8 1227.0 583.2 1227.3 C587.6 1227.6 592.0 1228.0 596.4 1228.4 C600.8 1228.9 604.2 1229.3 609.5 1230.0 C614.8 1230.7 624.8 1231.9 627.9 1232.3" fill="none" stroke="#3c4aad" stroke-width="1.8"/>
<rect x="113.8" y="1053.7" width="80.3" height="89.0" fill="#c5e3ef"/>
<rect x="194.1" y="1053.7" width="375.69999999999993" height="89.0" fill="#d9d9d9"/>
<rect x="569.8" y="1053.7" width="57.80000000000007" height="89.0" fill="#ffc6d3"/>
<text x="105.0" y="1099.0" font-size="18.2" fill="#000" stroke="#000" stroke-width="0.25" text-anchor="middle" transform="rotate(-90 105 1099)">Down</text>
<text x="646.0" y="1094.0" font-size="18.2" fill="#000" stroke="#000" stroke-width="0.25" text-anchor="middle" transform="rotate(-90 646 1094)">Up</text>
<path d="M120.5 1045V1037.4M143.5 1045V1031.3M145.5 1045V1032.3M150.5 1045V1031.9M153.5 1045V1037.0M161.5 1045V1031.9M163.5 1045V1038.0M165.5 1045V1037.6M181.5 1045V1035.5M201.5 1045V1031.3M209.5 1045V1037.0M215.5 1045V1034.8M219.5 1045V1034.8M225.5 1045V1036.1M244.5 1045V1036.5M257.5 1045V1038.0M270.5 1045V1032.9M275.5 1045V1037.0M277.5 1045V1024.1M280.5 1045V1019.0M281.5 1045V1030.8M286.5 1045V1018.4M289.5 1045V1034.2M290.5 1045V1037.0M292.5 1045V1028.9M295.5 1045V1030.8M301.5 1045V1036.1M308.5 1045V1036.1M309.5 1045V1030.4M310.5 1045V1016.5M311.5 1045V1035.1M317.5 1045V1036.5M328.5 1045V1038.0M330.5 1045V1034.2M339.5 1045V1035.1M344.5 1045V1037.0M351.5 1045V1035.1M362.5 1045V1035.1M368.5 1045V1035.1M377.5 1045V1020.0M379.5 1045V1021.8M382.5 1045V1027.0M384.5 1045V1030.4M386.5 1045V1035.1M400.5 1045V1031.3M401.5 1045V1036.1M403.5 1045V1033.2M411.5 1045V1036.5M412.5 1045V1034.2M413.5 1045V1029.8M415.5 1045V1033.8M421.5 1045V1015.8M425.5 1045V1036.1M428.5 1045V1023.7M432.5 1045V1000.4M433.5 1045V1035.1M445.5 1045V1002.9M452.5 1045V1037.0M453.5 1045V1035.1M459.5 1045V1036.7M462.5 1045V1019.4M463.5 1045V1023.2M468.5 1045V1031.9M475.5 1045V1035.1M476.5 1045V1035.1M483.5 1045V1031.0M492.5 1045V1034.2M507.5 1045V1035.1M518.5 1045V1034.2M522.5 1045V1031.9M524.5 1045V1035.7M531.5 1045V1035.1M532.5 1045V1036.1M534.5 1045V1035.1M536.5 1045V1031.9M538.5 1045V1023.7M542.5 1045V1014.8M545.5 1045V1034.2M547.5 1045V1033.8M549.5 1045V1031.3M550.5 1045V1035.1M554.5 1045V1023.7M558.5 1045V1030.0M559.5 1045V1030.4M562.5 1045V1027.2M565.5 1045V1035.1M572.5 1045V1033.8M574.5 1045V1037.4M575.5 1045V1037.4M577.5 1045V1035.5M579.5 1045V1030.0M581.5 1045V1021.3M582.5 1045V1037.0M583.5 1045V1014.5M590.5 1045V1035.3M591.5 1045V1024.2M592.5 1045V1014.5M594.5 1045V1023.1M597.5 1045V1032.4M600.5 1045V1035.3M604.5 1045V1035.3M605.5 1045V1034.1M607.5 1045V1033.3M610.5 1045V1026.2M611.5 1045V1034.1M613.5 1045V1030.0M615.5 1045V1032.4M617.5 1045V1027.1M618.5 1045V1023.6M619.5 1045V1020.7M619.5 1045V1033.0M621.5 1045V1028.5M622.5 1045V1037.0M624.5 1045V1029.5M625.5 1045V1031.8M626.5 1045V1037.4" stroke="#e4655c" stroke-opacity="0.55" stroke-width="1" fill="none"/>
<path d="M201.5 1053.7V1098.2M209.5 1053.7V1098.2M215.5 1053.7V1098.2M219.5 1053.7V1098.2M225.5 1053.7V1098.2M244.5 1053.7V1098.2M257.5 1053.7V1098.2M270.5 1053.7V1098.2M275.5 1053.7V1098.2M277.5 1053.7V1098.2M280.5 1053.7V1098.2M281.5 1053.7V1098.2M286.5 1053.7V1098.2M289.5 1053.7V1098.2M290.5 1053.7V1098.2M292.5 1053.7V1098.2M295.5 1053.7V1098.2M301.5 1053.7V1098.2M308.5 1053.7V1098.2M309.5 1053.7V1098.2M310.5 1053.7V1098.2M311.5 1053.7V1098.2M317.5 1053.7V1098.2M328.5 1053.7V1098.2M330.5 1053.7V1098.2M339.5 1053.7V1098.2M344.5 1053.7V1098.2M351.5 1053.7V1098.2M362.5 1053.7V1098.2M368.5 1053.7V1098.2M377.5 1053.7V1098.2M379.5 1053.7V1098.2M382.5 1053.7V1098.2M384.5 1053.7V1098.2M386.5 1053.7V1098.2M400.5 1053.7V1098.2M401.5 1053.7V1098.2M403.5 1053.7V1098.2M411.5 1053.7V1098.2M412.5 1053.7V1098.2M413.5 1053.7V1098.2M415.5 1053.7V1098.2M421.5 1053.7V1098.2M425.5 1053.7V1098.2M428.5 1053.7V1098.2M432.5 1053.7V1098.2M433.5 1053.7V1098.2M445.5 1053.7V1098.2M452.5 1053.7V1098.2M453.5 1053.7V1098.2M459.5 1053.7V1098.2M462.5 1053.7V1098.2M463.5 1053.7V1098.2M468.5 1053.7V1098.2M475.5 1053.7V1098.2M476.5 1053.7V1098.2M483.5 1053.7V1098.2M492.5 1053.7V1098.2M507.5 1053.7V1098.2M518.5 1053.7V1098.2M522.5 1053.7V1098.2M524.5 1053.7V1098.2M531.5 1053.7V1098.2M532.5 1053.7V1098.2M534.5 1053.7V1098.2M536.5 1053.7V1098.2M538.5 1053.7V1098.2M542.5 1053.7V1098.2M545.5 1053.7V1098.2M547.5 1053.7V1098.2M549.5 1053.7V1098.2M550.5 1053.7V1098.2M554.5 1053.7V1098.2M558.5 1053.7V1098.2M559.5 1053.7V1098.2M562.5 1053.7V1098.2M565.5 1053.7V1098.2" stroke="#e4655c" stroke-width="1" stroke-opacity="0.36" fill="none"/>
<path d="M120.5 1053.7V1098.2M143.5 1053.7V1098.2M145.5 1053.7V1098.2M150.5 1053.7V1098.2M153.5 1053.7V1098.2M161.5 1053.7V1098.2M163.5 1053.7V1098.2M165.5 1053.7V1098.2M181.5 1053.7V1098.2M572.5 1053.7V1098.2M574.5 1053.7V1098.2M575.5 1053.7V1098.2M577.5 1053.7V1098.2M579.5 1053.7V1098.2M581.5 1053.7V1098.2M582.5 1053.7V1098.2M583.5 1053.7V1098.2M590.5 1053.7V1098.2M591.5 1053.7V1098.2M592.5 1053.7V1098.2M594.5 1053.7V1098.2M597.5 1053.7V1098.2M600.5 1053.7V1098.2M604.5 1053.7V1098.2M605.5 1053.7V1098.2M607.5 1053.7V1098.2M610.5 1053.7V1098.2M611.5 1053.7V1098.2M613.5 1053.7V1098.2M615.5 1053.7V1098.2M617.5 1053.7V1098.2M618.5 1053.7V1098.2M619.5 1053.7V1098.2M619.5 1053.7V1098.2M621.5 1053.7V1098.2M622.5 1053.7V1098.2M624.5 1053.7V1098.2M625.5 1053.7V1098.2M626.5 1053.7V1098.2" stroke="#e4655c" stroke-width="1" stroke-opacity="0.4" fill="none"/>
<path d="M572.5 1053.7V1098.2M574.5 1053.7V1098.2M575.5 1053.7V1098.2M577.5 1053.7V1098.2M579.5 1053.7V1098.2M581.5 1053.7V1098.2M582.5 1053.7V1098.2M583.5 1053.7V1098.2M590.5 1053.7V1098.2M591.5 1053.7V1098.2M592.5 1053.7V1098.2M594.5 1053.7V1098.2M597.5 1053.7V1098.2M600.5 1053.7V1098.2M604.5 1053.7V1098.2M605.5 1053.7V1098.2M607.5 1053.7V1098.2M610.5 1053.7V1098.2M611.5 1053.7V1098.2M613.5 1053.7V1098.2M615.5 1053.7V1098.2M617.5 1053.7V1098.2M618.5 1053.7V1098.2M619.5 1053.7V1098.2M619.5 1053.7V1098.2M621.5 1053.7V1098.2M622.5 1053.7V1098.2M624.5 1053.7V1098.2M625.5 1053.7V1098.2M626.5 1053.7V1098.2" stroke="#e4655c" stroke-width="1" stroke-opacity="0.3" fill="none"/>
<path d="M114.5 1151.8V1181.8M114.5 1151.8V1169.4M115.5 1151.8V1168.5M116.5 1151.8V1166.6M117.5 1151.8V1163.8M120.5 1151.8V1160.9M121.5 1151.8V1163.8M122.5 1151.8V1179.5M124.5 1151.8V1162.8M126.5 1151.8V1160.9M129.5 1151.8V1167.5M129.5 1151.8V1162.8M130.5 1151.8V1161.8M132.5 1151.8V1159.0M134.5 1151.8V1160.9M136.5 1151.8V1175.7M137.5 1151.8V1160.9M143.5 1151.8V1165.7M144.5 1151.8V1170.4M145.5 1151.8V1163.8M148.5 1151.8V1163.8M150.5 1151.8V1160.0M154.5 1151.8V1162.8M155.5 1151.8V1178.0M159.5 1151.8V1164.7M159.5 1151.8V1162.8M162.5 1151.8V1160.5M166.5 1151.8V1167.5M167.5 1151.8V1163.8M169.5 1151.8V1163.8M173.5 1151.8V1170.4M175.5 1151.8V1160.0M179.5 1151.8V1160.9M182.5 1151.8V1172.3M185.5 1151.8V1162.8M191.5 1151.8V1162.8M192.5 1151.8V1163.8M196.5 1151.8V1160.9M198.5 1151.8V1165.7M203.5 1151.8V1160.9M208.5 1151.8V1167.5M214.5 1151.8V1164.7M214.5 1151.8V1168.5M217.5 1151.8V1164.7M227.5 1151.8V1168.5M231.5 1151.8V1160.0M235.5 1151.8V1163.8M239.5 1151.8V1160.9M243.5 1151.8V1160.5M246.5 1151.8V1162.8M250.5 1151.8V1160.9M254.5 1151.8V1159.0M258.5 1151.8V1163.8M260.5 1151.8V1163.8M261.5 1151.8V1161.8M264.5 1151.8V1179.5M265.5 1151.8V1159.0M269.5 1151.8V1165.1M272.5 1151.8V1162.8M273.5 1151.8V1174.8M274.5 1151.8V1163.8M277.5 1151.8V1162.4M283.5 1151.8V1163.8M285.5 1151.8V1159.0M289.5 1151.8V1169.8M295.5 1151.8V1163.8M300.5 1151.8V1160.0M304.5 1151.8V1160.9M305.5 1151.8V1162.4M306.5 1151.8V1160.9M309.5 1151.8V1161.8M312.5 1151.8V1160.0M316.5 1151.8V1160.5M322.5 1151.8V1164.7M333.5 1151.8V1182.7M336.5 1151.8V1164.7M340.5 1151.8V1191.8M345.5 1151.8V1173.2M346.5 1151.8V1160.0M355.5 1151.8V1160.5M359.5 1151.8V1161.8M366.5 1151.8V1173.8M369.5 1151.8V1160.0M372.5 1151.8V1161.8M374.5 1151.8V1162.4M376.5 1151.8V1162.8M377.5 1151.8V1160.9M378.5 1151.8V1160.9M382.5 1151.8V1164.7M383.5 1151.8V1161.8M388.5 1151.8V1161.8M394.5 1151.8V1160.9M398.5 1151.8V1173.2M404.5 1151.8V1159.0M415.5 1151.8V1160.9M417.5 1151.8V1174.8M419.5 1151.8V1174.2M421.5 1151.8V1160.9M426.5 1151.8V1160.9M428.5 1151.8V1185.0M429.5 1151.8V1159.0M437.5 1151.8V1173.2M438.5 1151.8V1160.9M454.5 1151.8V1159.0M457.5 1151.8V1162.8M464.5 1151.8V1166.6M466.5 1151.8V1164.7M469.5 1151.8V1176.5M474.5 1151.8V1164.7M476.5 1151.8V1166.0M483.5 1151.8V1169.5M494.5 1151.8V1164.5M498.5 1151.8V1158.6M503.5 1151.8V1166.7M505.5 1151.8V1178.3M519.5 1151.8V1160.8M529.5 1151.8V1163.6M550.5 1151.8V1161.2M558.5 1151.8V1158.6M570.5 1151.8V1173.3M571.5 1151.8V1161.2M573.5 1151.8V1182.0M578.5 1151.8V1158.6M579.5 1151.8V1171.1M584.5 1151.8V1160.8M588.5 1151.8V1158.6M591.5 1151.8V1161.9M601.5 1151.8V1168.9M604.5 1151.8V1160.1M606.5 1151.8V1163.6M609.5 1151.8V1160.1M612.5 1151.8V1173.9M620.5 1151.8V1178.3" stroke="#5a64c3" stroke-opacity="0.5" stroke-width="1" fill="none"/>
<path d="M570.5 1098.2V1142.7M571.5 1098.2V1142.7M573.5 1098.2V1142.7M578.5 1098.2V1142.7M579.5 1098.2V1142.7M584.5 1098.2V1142.7M588.5 1098.2V1142.7M591.5 1098.2V1142.7M601.5 1098.2V1142.7M604.5 1098.2V1142.7M606.5 1098.2V1142.7M609.5 1098.2V1142.7M612.5 1098.2V1142.7M620.5 1098.2V1142.7" stroke="#5a6cc3" stroke-width="1" stroke-opacity="0.22" fill="none"/>
<path d="M114.5 1098.2V1142.7M114.5 1098.2V1142.7M115.5 1098.2V1142.7M116.5 1098.2V1142.7M117.5 1098.2V1142.7M120.5 1098.2V1142.7M121.5 1098.2V1142.7M122.5 1098.2V1142.7M124.5 1098.2V1142.7M126.5 1098.2V1142.7M129.5 1098.2V1142.7M129.5 1098.2V1142.7M130.5 1098.2V1142.7M132.5 1098.2V1142.7M134.5 1098.2V1142.7M136.5 1098.2V1142.7M137.5 1098.2V1142.7M143.5 1098.2V1142.7M144.5 1098.2V1142.7M145.5 1098.2V1142.7M148.5 1098.2V1142.7M150.5 1098.2V1142.7M154.5 1098.2V1142.7M155.5 1098.2V1142.7M159.5 1098.2V1142.7M159.5 1098.2V1142.7M162.5 1098.2V1142.7M166.5 1098.2V1142.7M167.5 1098.2V1142.7M169.5 1098.2V1142.7M173.5 1098.2V1142.7M175.5 1098.2V1142.7M179.5 1098.2V1142.7M182.5 1098.2V1142.7M185.5 1098.2V1142.7M191.5 1098.2V1142.7M192.5 1098.2V1142.7" stroke="#5a6cc3" stroke-width="1" stroke-opacity="0.4" fill="none"/>
<path d="M196.5 1098.2V1142.7M198.5 1098.2V1142.7M203.5 1098.2V1142.7M208.5 1098.2V1142.7M214.5 1098.2V1142.7M214.5 1098.2V1142.7M217.5 1098.2V1142.7M227.5 1098.2V1142.7M231.5 1098.2V1142.7M235.5 1098.2V1142.7M239.5 1098.2V1142.7M243.5 1098.2V1142.7M246.5 1098.2V1142.7M250.5 1098.2V1142.7M254.5 1098.2V1142.7M258.5 1098.2V1142.7M260.5 1098.2V1142.7M261.5 1098.2V1142.7M264.5 1098.2V1142.7M265.5 1098.2V1142.7M269.5 1098.2V1142.7M272.5 1098.2V1142.7M273.5 1098.2V1142.7M274.5 1098.2V1142.7M277.5 1098.2V1142.7M283.5 1098.2V1142.7M285.5 1098.2V1142.7M289.5 1098.2V1142.7M295.5 1098.2V1142.7M300.5 1098.2V1142.7M304.5 1098.2V1142.7M305.5 1098.2V1142.7M306.5 1098.2V1142.7M309.5 1098.2V1142.7M312.5 1098.2V1142.7M316.5 1098.2V1142.7M322.5 1098.2V1142.7M333.5 1098.2V1142.7M336.5 1098.2V1142.7M340.5 1098.2V1142.7M345.5 1098.2V1142.7M346.5 1098.2V1142.7M355.5 1098.2V1142.7M359.5 1098.2V1142.7M366.5 1098.2V1142.7M369.5 1098.2V1142.7M372.5 1098.2V1142.7M374.5 1098.2V1142.7M376.5 1098.2V1142.7M377.5 1098.2V1142.7M378.5 1098.2V1142.7M382.5 1098.2V1142.7M383.5 1098.2V1142.7M388.5 1098.2V1142.7M394.5 1098.2V1142.7M398.5 1098.2V1142.7M404.5 1098.2V1142.7M415.5 1098.2V1142.7M417.5 1098.2V1142.7M419.5 1098.2V1142.7M421.5 1098.2V1142.7M426.5 1098.2V1142.7M428.5 1098.2V1142.7M429.5 1098.2V1142.7M437.5 1098.2V1142.7M438.5 1098.2V1142.7M454.5 1098.2V1142.7M457.5 1098.2V1142.7M464.5 1098.2V1142.7M466.5 1098.2V1142.7M469.5 1098.2V1142.7M474.5 1098.2V1142.7M476.5 1098.2V1142.7M483.5 1098.2V1142.7M494.5 1098.2V1142.7M498.5 1098.2V1142.7M503.5 1098.2V1142.7M505.5 1098.2V1142.7M519.5 1098.2V1142.7M529.5 1098.2V1142.7M550.5 1098.2V1142.7M558.5 1098.2V1142.7" stroke="#5a6cc3" stroke-width="1" stroke-opacity="0.34" fill="none"/>
<line x1="113.7" y1="1309.9" x2="627.5" y2="1309.9" stroke="#333" stroke-width="1"/>
<line x1="113.7" y1="1309.9" x2="113.7" y2="1318.4" stroke="#333" stroke-width="1"/>
<text x="117.0" y="1322.3" font-size="17.5" fill="#000" stroke="#000" stroke-width="0.25" text-anchor="end" transform="rotate(-90 117.0 1322.3)">−13.64</text>
<line x1="165.1" y1="1309.9" x2="165.1" y2="1318.4" stroke="#333" stroke-width="1"/>
<text x="168.4" y="1322.3" font-size="17.5" fill="#000" stroke="#000" stroke-width="0.25" text-anchor="end" transform="rotate(-90 168.38000000000002 1322.3)">−3.27</text>
<line x1="216.5" y1="1309.9" x2="216.5" y2="1318.4" stroke="#333" stroke-width="1"/>
<text x="219.8" y="1322.3" font-size="17.5" fill="#000" stroke="#000" stroke-width="0.25" text-anchor="end" transform="rotate(-90 219.76000000000002 1322.3)">−2.01</text>
<line x1="267.8" y1="1309.9" x2="267.8" y2="1318.4" stroke="#333" stroke-width="1"/>
<text x="271.1" y="1322.3" font-size="17.5" fill="#000" stroke="#000" stroke-width="0.25" text-anchor="end" transform="rotate(-90 271.14000000000004 1322.3)">−1.19</text>
<line x1="319.2" y1="1309.9" x2="319.2" y2="1318.4" stroke="#333" stroke-width="1"/>
<text x="322.5" y="1322.3" font-size="17.5" fill="#000" stroke="#000" stroke-width="0.25" text-anchor="end" transform="rotate(-90 322.52000000000004 1322.3)">−0.59</text>
<line x1="370.6" y1="1309.9" x2="370.6" y2="1318.4" stroke="#333" stroke-width="1"/>
<text x="373.9" y="1322.3" font-size="17.5" fill="#000" stroke="#000" stroke-width="0.25" text-anchor="end" transform="rotate(-90 373.90000000000003 1322.3)">−0.05</text>
<line x1="422.0" y1="1309.9" x2="422.0" y2="1318.4" stroke="#333" stroke-width="1"/>
<text x="425.3" y="1322.3" font-size="17.5" fill="#000" stroke="#000" stroke-width="0.25" text-anchor="end" transform="rotate(-90 425.28000000000003 1322.3)">0.51</text>
<line x1="473.4" y1="1309.9" x2="473.4" y2="1318.4" stroke="#333" stroke-width="1"/>
<text x="476.7" y="1322.3" font-size="17.5" fill="#000" stroke="#000" stroke-width="0.25" text-anchor="end" transform="rotate(-90 476.66 1322.3)">1.06</text>
<line x1="524.7" y1="1309.9" x2="524.7" y2="1318.4" stroke="#333" stroke-width="1"/>
<text x="528.0" y="1322.3" font-size="17.5" fill="#000" stroke="#000" stroke-width="0.25" text-anchor="end" transform="rotate(-90 528.04 1322.3)">1.69</text>
<line x1="576.1" y1="1309.9" x2="576.1" y2="1318.4" stroke="#333" stroke-width="1"/>
<text x="579.4" y="1322.3" font-size="17.5" fill="#000" stroke="#000" stroke-width="0.25" text-anchor="end" transform="rotate(-90 579.42 1322.3)">2.61</text>
<line x1="627.5" y1="1309.9" x2="627.5" y2="1318.4" stroke="#333" stroke-width="1"/>
<text x="630.8" y="1322.3" font-size="17.5" fill="#000" stroke="#000" stroke-width="0.25" text-anchor="end" transform="rotate(-90 630.8000000000001 1322.3)">14.86</text>
<text x="375.5" y="1394.5" font-size="18.2" fill="#000" stroke="#000" stroke-width="0.25" text-anchor="middle">COVID19 vs. Healthy (stimulated) test statistic</text>
</svg></body></html>
